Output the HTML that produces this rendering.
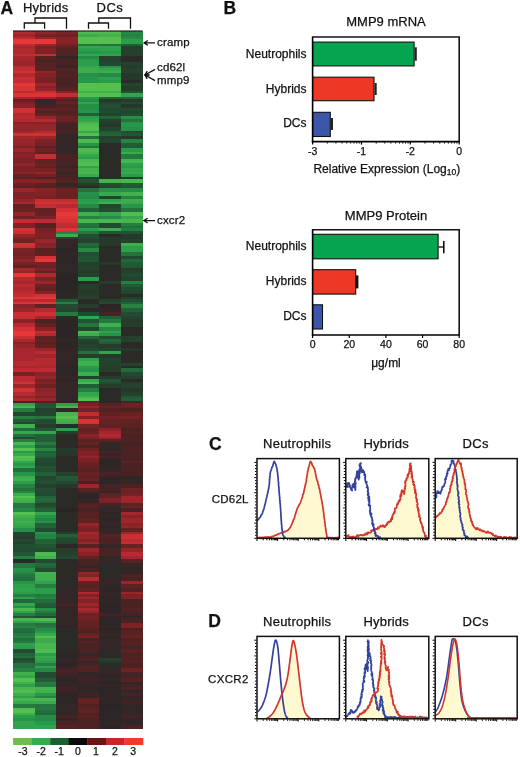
<!DOCTYPE html>
<html><head><meta charset="utf-8"><style>
html,body{margin:0;padding:0;background:#fff;}
svg{display:block;font-family:"Liberation Sans", sans-serif;}
text{stroke:#111;stroke-width:0.25px;paint-order:stroke;}
svg{will-change:transform;}
</style></head><body>
<svg width="520" height="757" viewBox="0 0 520 757" fill="#111">
<defs><filter id="hb" x="0" y="0" width="1" height="1"><feGaussianBlur stdDeviation="0.5"/></filter></defs>
<text x="0.6" y="13.8" font-size="17.5" text-anchor="start" font-weight="bold" >A</text>
<text x="22.9" y="11.5" font-size="13" text-anchor="start" font-weight="normal" letter-spacing="0.2">Hybrids</text>
<text x="96.6" y="11.5" font-size="13" text-anchor="start" font-weight="normal" letter-spacing="0.4">DCs</text>
<path d="M24.3 28.8V23H44.6V28.8M35 23V18H66.5V28.8" fill="none" stroke="#111" stroke-width="1.3"/>
<path d="M88.5 28.8V23H108.5V28.8M98.8 23V18H130.5V28.8" fill="none" stroke="#111" stroke-width="1.3"/>
<g shape-rendering="crispEdges">
<g filter="url(#hb)">
<rect x="13" y="31.00" width="21.80" height="3.17" fill="#b1292f"/>
<rect x="34.5" y="31.00" width="21.80" height="3.17" fill="#8f2529"/>
<rect x="56" y="31.00" width="21.80" height="3.17" fill="#7d2326"/>
<rect x="77.5" y="31.00" width="21.80" height="3.17" fill="#4fba4f"/>
<rect x="99" y="31.00" width="22.05" height="3.17" fill="#50bb4f"/>
<rect x="120.75" y="31.00" width="22.05" height="3.17" fill="#268845"/>
<rect x="13" y="33.88" width="21.80" height="3.17" fill="#a1272c"/>
<rect x="34.5" y="33.88" width="21.80" height="3.17" fill="#732125"/>
<rect x="56" y="33.88" width="21.80" height="3.17" fill="#6a2023"/>
<rect x="77.5" y="33.88" width="21.80" height="3.17" fill="#3cab4e"/>
<rect x="99" y="33.88" width="22.05" height="3.17" fill="#44b24e"/>
<rect x="120.75" y="33.88" width="22.05" height="3.17" fill="#268343"/>
<rect x="13" y="36.75" width="21.80" height="2.55" fill="#bd2c31"/>
<rect x="34.5" y="36.75" width="21.80" height="2.55" fill="#8e2529"/>
<rect x="56" y="36.75" width="21.80" height="2.55" fill="#882428"/>
<rect x="77.5" y="36.75" width="21.80" height="2.55" fill="#56c050"/>
<rect x="99" y="36.75" width="22.05" height="2.55" fill="#56c050"/>
<rect x="120.75" y="36.75" width="22.05" height="2.55" fill="#278b46"/>
<rect x="13" y="39.00" width="21.80" height="2.80" fill="#e63838"/>
<rect x="34.5" y="39.00" width="21.80" height="2.80" fill="#e63838"/>
<rect x="56" y="39.00" width="21.80" height="2.80" fill="#8b2429"/>
<rect x="77.5" y="39.00" width="21.80" height="2.80" fill="#56c050"/>
<rect x="99" y="39.00" width="22.05" height="2.80" fill="#56c050"/>
<rect x="120.75" y="39.00" width="22.05" height="2.80" fill="#2b9e4c"/>
<rect x="13" y="41.50" width="21.80" height="2.80" fill="#e63838"/>
<rect x="34.5" y="41.50" width="21.80" height="2.80" fill="#e63838"/>
<rect x="56" y="41.50" width="21.80" height="2.80" fill="#892428"/>
<rect x="77.5" y="41.50" width="21.80" height="2.80" fill="#56c050"/>
<rect x="99" y="41.50" width="22.05" height="2.80" fill="#56c050"/>
<rect x="120.75" y="41.50" width="22.05" height="2.80" fill="#2a9e4c"/>
<rect x="13" y="44.00" width="21.80" height="2.30" fill="#bf2c31"/>
<rect x="34.5" y="44.00" width="21.80" height="2.30" fill="#95262a"/>
<rect x="56" y="44.00" width="21.80" height="2.30" fill="#742125"/>
<rect x="77.5" y="44.00" width="21.80" height="2.30" fill="#25763f"/>
<rect x="99" y="44.00" width="22.05" height="2.30" fill="#25723e"/>
<rect x="120.75" y="44.00" width="22.05" height="2.30" fill="#235e37"/>
<rect x="13" y="46.00" width="21.80" height="2.30" fill="#a4282d"/>
<rect x="34.5" y="46.00" width="21.80" height="2.30" fill="#792226"/>
<rect x="56" y="46.00" width="21.80" height="2.30" fill="#5d2124"/>
<rect x="77.5" y="46.00" width="21.80" height="2.30" fill="#33a54d"/>
<rect x="99" y="46.00" width="22.05" height="2.30" fill="#30a24d"/>
<rect x="120.75" y="46.00" width="22.05" height="2.30" fill="#253f2d"/>
<rect x="13" y="48.00" width="21.80" height="3.30" fill="#ad292e"/>
<rect x="34.5" y="48.00" width="21.80" height="3.30" fill="#822327"/>
<rect x="56" y="48.00" width="21.80" height="3.30" fill="#542224"/>
<rect x="77.5" y="48.00" width="21.80" height="3.30" fill="#2a9e4c"/>
<rect x="99" y="48.00" width="22.05" height="3.30" fill="#2fa14d"/>
<rect x="120.75" y="48.00" width="22.05" height="3.30" fill="#25402e"/>
<rect x="13" y="51.00" width="21.80" height="3.30" fill="#ae292e"/>
<rect x="34.5" y="51.00" width="21.80" height="3.30" fill="#7a2226"/>
<rect x="56" y="51.00" width="21.80" height="3.30" fill="#542224"/>
<rect x="77.5" y="51.00" width="21.80" height="3.30" fill="#279349"/>
<rect x="99" y="51.00" width="22.05" height="3.30" fill="#289c4c"/>
<rect x="120.75" y="51.00" width="22.05" height="3.30" fill="#253f2d"/>
<rect x="13" y="54.00" width="21.80" height="1.80" fill="#c32d32"/>
<rect x="34.5" y="54.00" width="21.80" height="1.80" fill="#c22d32"/>
<rect x="56" y="54.00" width="21.80" height="1.80" fill="#522224"/>
<rect x="77.5" y="54.00" width="21.80" height="1.80" fill="#35a64d"/>
<rect x="99" y="54.00" width="22.05" height="1.80" fill="#30a34d"/>
<rect x="120.75" y="54.00" width="22.05" height="1.80" fill="#25402d"/>
<rect x="13" y="55.50" width="21.80" height="3.63" fill="#a7282d"/>
<rect x="34.5" y="55.50" width="21.80" height="3.63" fill="#542224"/>
<rect x="56" y="55.50" width="21.80" height="3.63" fill="#322526"/>
<rect x="77.5" y="55.50" width="21.80" height="3.63" fill="#278a46"/>
<rect x="99" y="55.50" width="22.05" height="3.63" fill="#25422e"/>
<rect x="120.75" y="55.50" width="22.05" height="3.63" fill="#292a27"/>
<rect x="13" y="58.83" width="21.80" height="3.63" fill="#9f272c"/>
<rect x="34.5" y="58.83" width="21.80" height="3.63" fill="#492324"/>
<rect x="56" y="58.83" width="21.80" height="3.63" fill="#4a2324"/>
<rect x="77.5" y="58.83" width="21.80" height="3.63" fill="#2b9e4c"/>
<rect x="99" y="58.83" width="22.05" height="3.63" fill="#25422e"/>
<rect x="120.75" y="58.83" width="22.05" height="3.63" fill="#292b27"/>
<rect x="13" y="62.17" width="21.80" height="3.63" fill="#9b262b"/>
<rect x="34.5" y="62.17" width="21.80" height="3.63" fill="#592124"/>
<rect x="56" y="62.17" width="21.80" height="3.63" fill="#482325"/>
<rect x="77.5" y="62.17" width="21.80" height="3.63" fill="#2c9f4c"/>
<rect x="99" y="62.17" width="22.05" height="3.63" fill="#234930"/>
<rect x="120.75" y="62.17" width="22.05" height="3.63" fill="#25402d"/>
<rect x="13" y="65.50" width="21.80" height="2.80" fill="#b62a30"/>
<rect x="34.5" y="65.50" width="21.80" height="2.80" fill="#5c2124"/>
<rect x="56" y="65.50" width="21.80" height="2.80" fill="#322526"/>
<rect x="77.5" y="65.50" width="21.80" height="2.80" fill="#37a84d"/>
<rect x="99" y="65.50" width="22.05" height="2.80" fill="#279549"/>
<rect x="120.75" y="65.50" width="22.05" height="2.80" fill="#263b2c"/>
<rect x="13" y="68.00" width="21.80" height="2.80" fill="#c12d32"/>
<rect x="34.5" y="68.00" width="21.80" height="2.80" fill="#582224"/>
<rect x="56" y="68.00" width="21.80" height="2.80" fill="#532224"/>
<rect x="77.5" y="68.00" width="21.80" height="2.80" fill="#3dad4e"/>
<rect x="99" y="68.00" width="22.05" height="2.80" fill="#35a64d"/>
<rect x="120.75" y="68.00" width="22.05" height="2.80" fill="#25422e"/>
<rect x="13" y="70.50" width="21.80" height="2.80" fill="#ce3134"/>
<rect x="34.5" y="70.50" width="21.80" height="2.80" fill="#94252a"/>
<rect x="56" y="70.50" width="21.80" height="2.80" fill="#492324"/>
<rect x="77.5" y="70.50" width="21.80" height="2.80" fill="#3dac4e"/>
<rect x="99" y="70.50" width="22.05" height="2.80" fill="#3ead4e"/>
<rect x="120.75" y="70.50" width="22.05" height="2.80" fill="#25402d"/>
<rect x="13" y="73.00" width="21.80" height="4.05" fill="#af292f"/>
<rect x="34.5" y="73.00" width="21.80" height="4.05" fill="#842328"/>
<rect x="56" y="73.00" width="21.80" height="4.05" fill="#512224"/>
<rect x="77.5" y="73.00" width="21.80" height="4.05" fill="#279249"/>
<rect x="99" y="73.00" width="22.05" height="4.05" fill="#278946"/>
<rect x="120.75" y="73.00" width="22.05" height="4.05" fill="#26392c"/>
<rect x="13" y="76.75" width="21.80" height="3.42" fill="#c72e33"/>
<rect x="34.5" y="76.75" width="21.80" height="3.42" fill="#762225"/>
<rect x="56" y="76.75" width="21.80" height="3.42" fill="#4c2324"/>
<rect x="77.5" y="76.75" width="21.80" height="3.42" fill="#28984b"/>
<rect x="99" y="76.75" width="22.05" height="3.42" fill="#2ea14d"/>
<rect x="120.75" y="76.75" width="22.05" height="3.42" fill="#26392b"/>
<rect x="13" y="79.88" width="21.80" height="3.42" fill="#c42e32"/>
<rect x="34.5" y="79.88" width="21.80" height="3.42" fill="#7b2226"/>
<rect x="56" y="79.88" width="21.80" height="3.42" fill="#4c2324"/>
<rect x="77.5" y="79.88" width="21.80" height="3.42" fill="#28974a"/>
<rect x="99" y="79.88" width="22.05" height="3.42" fill="#299d4c"/>
<rect x="120.75" y="79.88" width="22.05" height="3.42" fill="#292b27"/>
<rect x="13" y="83.00" width="21.80" height="2.80" fill="#e33737"/>
<rect x="34.5" y="83.00" width="21.80" height="2.80" fill="#a1272c"/>
<rect x="56" y="83.00" width="21.80" height="2.80" fill="#442425"/>
<rect x="77.5" y="83.00" width="21.80" height="2.80" fill="#56c050"/>
<rect x="99" y="83.00" width="22.05" height="2.80" fill="#56c050"/>
<rect x="120.75" y="83.00" width="22.05" height="2.80" fill="#24442e"/>
<rect x="13" y="85.50" width="21.80" height="2.80" fill="#d83436"/>
<rect x="34.5" y="85.50" width="21.80" height="2.80" fill="#882428"/>
<rect x="56" y="85.50" width="21.80" height="2.80" fill="#512224"/>
<rect x="77.5" y="85.50" width="21.80" height="2.80" fill="#56c050"/>
<rect x="99" y="85.50" width="22.05" height="2.80" fill="#56c050"/>
<rect x="120.75" y="85.50" width="22.05" height="2.80" fill="#263a2c"/>
<rect x="13" y="88.00" width="21.80" height="2.80" fill="#dc3536"/>
<rect x="34.5" y="88.00" width="21.80" height="2.80" fill="#93252a"/>
<rect x="56" y="88.00" width="21.80" height="2.80" fill="#562224"/>
<rect x="77.5" y="88.00" width="21.80" height="2.80" fill="#56c050"/>
<rect x="99" y="88.00" width="22.05" height="2.80" fill="#56c050"/>
<rect x="120.75" y="88.00" width="22.05" height="2.80" fill="#263c2c"/>
<rect x="13" y="90.50" width="21.80" height="2.80" fill="#bc2b31"/>
<rect x="34.5" y="90.50" width="21.80" height="2.80" fill="#c62e33"/>
<rect x="56" y="90.50" width="21.80" height="2.80" fill="#842328"/>
<rect x="77.5" y="90.50" width="21.80" height="2.80" fill="#42b04e"/>
<rect x="99" y="90.50" width="22.05" height="2.80" fill="#42b04e"/>
<rect x="120.75" y="90.50" width="22.05" height="2.80" fill="#225333"/>
<rect x="13" y="93.00" width="21.80" height="4.05" fill="#d93436"/>
<rect x="34.5" y="93.00" width="21.80" height="4.05" fill="#db3536"/>
<rect x="56" y="93.00" width="21.80" height="4.05" fill="#c22d32"/>
<rect x="77.5" y="93.00" width="21.80" height="4.05" fill="#56c050"/>
<rect x="99" y="93.00" width="22.05" height="4.05" fill="#56c050"/>
<rect x="120.75" y="93.00" width="22.05" height="4.05" fill="#33a44d"/>
<rect x="13" y="96.75" width="21.80" height="2.80" fill="#9f272c"/>
<rect x="34.5" y="96.75" width="21.80" height="2.80" fill="#92252a"/>
<rect x="56" y="96.75" width="21.80" height="2.80" fill="#712125"/>
<rect x="77.5" y="96.75" width="21.80" height="2.80" fill="#289c4c"/>
<rect x="99" y="96.75" width="22.05" height="2.80" fill="#246439"/>
<rect x="120.75" y="96.75" width="22.05" height="2.80" fill="#246339"/>
<rect x="13" y="99.25" width="21.80" height="2.80" fill="#642023"/>
<rect x="34.5" y="99.25" width="21.80" height="2.80" fill="#322526"/>
<rect x="56" y="99.25" width="21.80" height="2.80" fill="#552224"/>
<rect x="77.5" y="99.25" width="21.80" height="2.80" fill="#278e47"/>
<rect x="99" y="99.25" width="22.05" height="2.80" fill="#26392b"/>
<rect x="120.75" y="99.25" width="22.05" height="2.80" fill="#263a2c"/>
<rect x="13" y="101.75" width="21.80" height="2.80" fill="#7b2226"/>
<rect x="34.5" y="101.75" width="21.80" height="2.80" fill="#322526"/>
<rect x="56" y="101.75" width="21.80" height="2.80" fill="#602123"/>
<rect x="77.5" y="101.75" width="21.80" height="2.80" fill="#30a24d"/>
<rect x="99" y="101.75" width="22.05" height="2.80" fill="#24472f"/>
<rect x="120.75" y="101.75" width="22.05" height="2.80" fill="#244830"/>
<rect x="13" y="104.25" width="21.80" height="4.05" fill="#8c2429"/>
<rect x="34.5" y="104.25" width="21.80" height="4.05" fill="#442425"/>
<rect x="56" y="104.25" width="21.80" height="4.05" fill="#552224"/>
<rect x="77.5" y="104.25" width="21.80" height="4.05" fill="#278e47"/>
<rect x="99" y="104.25" width="22.05" height="4.05" fill="#225032"/>
<rect x="120.75" y="104.25" width="22.05" height="4.05" fill="#26392c"/>
<rect x="13" y="108.00" width="21.80" height="2.80" fill="#d33235"/>
<rect x="34.5" y="108.00" width="21.80" height="2.80" fill="#612123"/>
<rect x="56" y="108.00" width="21.80" height="2.80" fill="#5e2124"/>
<rect x="77.5" y="108.00" width="21.80" height="2.80" fill="#279248"/>
<rect x="99" y="108.00" width="22.05" height="2.80" fill="#234a30"/>
<rect x="120.75" y="108.00" width="22.05" height="2.80" fill="#234b31"/>
<rect x="13" y="110.50" width="21.80" height="2.80" fill="#cb3033"/>
<rect x="34.5" y="110.50" width="21.80" height="2.80" fill="#4a2324"/>
<rect x="56" y="110.50" width="21.80" height="2.80" fill="#4f2224"/>
<rect x="77.5" y="110.50" width="21.80" height="2.80" fill="#28984b"/>
<rect x="99" y="110.50" width="22.05" height="2.80" fill="#234d31"/>
<rect x="120.75" y="110.50" width="22.05" height="2.80" fill="#24442f"/>
<rect x="13" y="113.00" width="21.80" height="2.80" fill="#b42a2f"/>
<rect x="34.5" y="113.00" width="21.80" height="2.80" fill="#622123"/>
<rect x="56" y="113.00" width="21.80" height="2.80" fill="#562224"/>
<rect x="77.5" y="113.00" width="21.80" height="2.80" fill="#236138"/>
<rect x="99" y="113.00" width="22.05" height="2.80" fill="#24452f"/>
<rect x="120.75" y="113.00" width="22.05" height="2.80" fill="#234c31"/>
<rect x="13" y="115.50" width="21.80" height="4.05" fill="#b92a30"/>
<rect x="34.5" y="115.50" width="21.80" height="4.05" fill="#93252a"/>
<rect x="56" y="115.50" width="21.80" height="4.05" fill="#6a2023"/>
<rect x="77.5" y="115.50" width="21.80" height="4.05" fill="#2da04c"/>
<rect x="99" y="115.50" width="22.05" height="4.05" fill="#246439"/>
<rect x="120.75" y="115.50" width="22.05" height="4.05" fill="#279048"/>
<rect x="13" y="119.25" width="21.80" height="2.80" fill="#b1292f"/>
<rect x="34.5" y="119.25" width="21.80" height="2.80" fill="#b62a30"/>
<rect x="56" y="119.25" width="21.80" height="2.80" fill="#672023"/>
<rect x="77.5" y="119.25" width="21.80" height="2.80" fill="#34a64d"/>
<rect x="99" y="119.25" width="22.05" height="2.80" fill="#24432e"/>
<rect x="120.75" y="119.25" width="22.05" height="2.80" fill="#25713d"/>
<rect x="13" y="121.75" width="21.80" height="2.80" fill="#872428"/>
<rect x="34.5" y="121.75" width="21.80" height="2.80" fill="#892428"/>
<rect x="56" y="121.75" width="21.80" height="2.80" fill="#4b2324"/>
<rect x="77.5" y="121.75" width="21.80" height="2.80" fill="#46b44f"/>
<rect x="99" y="121.75" width="22.05" height="2.80" fill="#253e2d"/>
<rect x="120.75" y="121.75" width="22.05" height="2.80" fill="#279449"/>
<rect x="13" y="124.25" width="21.80" height="3.42" fill="#97262b"/>
<rect x="34.5" y="124.25" width="21.80" height="3.42" fill="#91252a"/>
<rect x="56" y="124.25" width="21.80" height="3.42" fill="#442325"/>
<rect x="77.5" y="124.25" width="21.80" height="3.42" fill="#50bc50"/>
<rect x="99" y="124.25" width="22.05" height="3.42" fill="#26392c"/>
<rect x="120.75" y="124.25" width="22.05" height="3.42" fill="#28994b"/>
<rect x="13" y="127.38" width="21.80" height="3.42" fill="#91252a"/>
<rect x="34.5" y="127.38" width="21.80" height="3.42" fill="#95262a"/>
<rect x="56" y="127.38" width="21.80" height="3.42" fill="#452325"/>
<rect x="77.5" y="127.38" width="21.80" height="3.42" fill="#56c050"/>
<rect x="99" y="127.38" width="22.05" height="3.42" fill="#24442e"/>
<rect x="120.75" y="127.38" width="22.05" height="3.42" fill="#278f48"/>
<rect x="13" y="130.50" width="21.80" height="2.80" fill="#a1272c"/>
<rect x="34.5" y="130.50" width="21.80" height="2.80" fill="#b0292f"/>
<rect x="56" y="130.50" width="21.80" height="2.80" fill="#4a2324"/>
<rect x="77.5" y="130.50" width="21.80" height="2.80" fill="#36a74d"/>
<rect x="99" y="130.50" width="22.05" height="2.80" fill="#235b36"/>
<rect x="120.75" y="130.50" width="22.05" height="2.80" fill="#224e31"/>
<rect x="13" y="133.00" width="21.80" height="2.80" fill="#cb3033"/>
<rect x="34.5" y="133.00" width="21.80" height="2.80" fill="#cb3033"/>
<rect x="56" y="133.00" width="21.80" height="2.80" fill="#322526"/>
<rect x="77.5" y="133.00" width="21.80" height="2.80" fill="#55bf50"/>
<rect x="99" y="133.00" width="22.05" height="2.80" fill="#236338"/>
<rect x="120.75" y="133.00" width="22.05" height="2.80" fill="#225534"/>
<rect x="13" y="135.50" width="21.80" height="4.05" fill="#a2272c"/>
<rect x="34.5" y="135.50" width="21.80" height="4.05" fill="#99262b"/>
<rect x="56" y="135.50" width="21.80" height="4.05" fill="#302526"/>
<rect x="77.5" y="135.50" width="21.80" height="4.05" fill="#25713d"/>
<rect x="99" y="135.50" width="22.05" height="4.05" fill="#253f2d"/>
<rect x="120.75" y="135.50" width="22.05" height="4.05" fill="#26392c"/>
<rect x="13" y="139.25" width="21.80" height="4.05" fill="#96262b"/>
<rect x="34.5" y="139.25" width="21.80" height="4.05" fill="#7a2226"/>
<rect x="56" y="139.25" width="21.80" height="4.05" fill="#312526"/>
<rect x="77.5" y="139.25" width="21.80" height="4.05" fill="#4eba4f"/>
<rect x="99" y="139.25" width="22.05" height="4.05" fill="#24462f"/>
<rect x="120.75" y="139.25" width="22.05" height="4.05" fill="#268343"/>
<rect x="13" y="143.00" width="21.80" height="2.80" fill="#902529"/>
<rect x="34.5" y="143.00" width="21.80" height="2.80" fill="#712125"/>
<rect x="56" y="143.00" width="21.80" height="2.80" fill="#312526"/>
<rect x="77.5" y="143.00" width="21.80" height="2.80" fill="#28974a"/>
<rect x="99" y="143.00" width="22.05" height="2.80" fill="#292a27"/>
<rect x="120.75" y="143.00" width="22.05" height="2.80" fill="#235c36"/>
<rect x="13" y="145.50" width="21.80" height="2.80" fill="#7e2327"/>
<rect x="34.5" y="145.50" width="21.80" height="2.80" fill="#5b2124"/>
<rect x="56" y="145.50" width="21.80" height="2.80" fill="#302526"/>
<rect x="77.5" y="145.50" width="21.80" height="2.80" fill="#25743e"/>
<rect x="99" y="145.50" width="22.05" height="2.80" fill="#292b28"/>
<rect x="120.75" y="145.50" width="22.05" height="2.80" fill="#235a35"/>
<rect x="13" y="148.00" width="21.80" height="4.05" fill="#9b262b"/>
<rect x="34.5" y="148.00" width="21.80" height="4.05" fill="#6c2124"/>
<rect x="56" y="148.00" width="21.80" height="4.05" fill="#302526"/>
<rect x="77.5" y="148.00" width="21.80" height="4.05" fill="#4fba4f"/>
<rect x="99" y="148.00" width="22.05" height="4.05" fill="#292927"/>
<rect x="120.75" y="148.00" width="22.05" height="4.05" fill="#289c4c"/>
<rect x="13" y="151.75" width="21.80" height="2.80" fill="#832327"/>
<rect x="34.5" y="151.75" width="21.80" height="2.80" fill="#5e2123"/>
<rect x="56" y="151.75" width="21.80" height="2.80" fill="#312526"/>
<rect x="77.5" y="151.75" width="21.80" height="2.80" fill="#47b44f"/>
<rect x="99" y="151.75" width="22.05" height="2.80" fill="#292b27"/>
<rect x="120.75" y="151.75" width="22.05" height="2.80" fill="#3aaa4e"/>
<rect x="13" y="154.25" width="21.80" height="2.80" fill="#8b2429"/>
<rect x="34.5" y="154.25" width="21.80" height="2.80" fill="#c72f33"/>
<rect x="56" y="154.25" width="21.80" height="2.80" fill="#4c2324"/>
<rect x="77.5" y="154.25" width="21.80" height="2.80" fill="#35a64d"/>
<rect x="99" y="154.25" width="22.05" height="2.80" fill="#292c28"/>
<rect x="120.75" y="154.25" width="22.05" height="2.80" fill="#257940"/>
<rect x="13" y="156.75" width="21.80" height="2.80" fill="#812327"/>
<rect x="34.5" y="156.75" width="21.80" height="2.80" fill="#c52e32"/>
<rect x="56" y="156.75" width="21.80" height="2.80" fill="#4c2324"/>
<rect x="77.5" y="156.75" width="21.80" height="2.80" fill="#2c9f4c"/>
<rect x="99" y="156.75" width="22.05" height="2.80" fill="#292927"/>
<rect x="120.75" y="156.75" width="22.05" height="2.80" fill="#25773f"/>
<rect x="13" y="159.25" width="21.80" height="4.05" fill="#7b2226"/>
<rect x="34.5" y="159.25" width="21.80" height="4.05" fill="#642023"/>
<rect x="56" y="159.25" width="21.80" height="4.05" fill="#462325"/>
<rect x="77.5" y="159.25" width="21.80" height="4.05" fill="#4db94f"/>
<rect x="99" y="159.25" width="22.05" height="4.05" fill="#292927"/>
<rect x="120.75" y="159.25" width="22.05" height="4.05" fill="#45b34f"/>
<rect x="13" y="163.00" width="21.80" height="2.80" fill="#8c2529"/>
<rect x="34.5" y="163.00" width="21.80" height="2.80" fill="#6b2023"/>
<rect x="56" y="163.00" width="21.80" height="2.80" fill="#472325"/>
<rect x="77.5" y="163.00" width="21.80" height="2.80" fill="#53be50"/>
<rect x="99" y="163.00" width="22.05" height="2.80" fill="#292927"/>
<rect x="120.75" y="163.00" width="22.05" height="2.80" fill="#2da04c"/>
<rect x="13" y="165.50" width="21.80" height="2.80" fill="#792226"/>
<rect x="34.5" y="165.50" width="21.80" height="2.80" fill="#622123"/>
<rect x="56" y="165.50" width="21.80" height="2.80" fill="#322526"/>
<rect x="77.5" y="165.50" width="21.80" height="2.80" fill="#30a24d"/>
<rect x="99" y="165.50" width="22.05" height="2.80" fill="#292b28"/>
<rect x="120.75" y="165.50" width="22.05" height="2.80" fill="#289c4c"/>
<rect x="13" y="168.00" width="21.80" height="4.05" fill="#7f2327"/>
<rect x="34.5" y="168.00" width="21.80" height="4.05" fill="#792226"/>
<rect x="56" y="168.00" width="21.80" height="4.05" fill="#4a2324"/>
<rect x="77.5" y="168.00" width="21.80" height="4.05" fill="#44b24e"/>
<rect x="99" y="168.00" width="22.05" height="4.05" fill="#292a27"/>
<rect x="120.75" y="168.00" width="22.05" height="4.05" fill="#35a64d"/>
<rect x="13" y="171.75" width="21.80" height="2.80" fill="#882428"/>
<rect x="34.5" y="171.75" width="21.80" height="2.80" fill="#93252a"/>
<rect x="56" y="171.75" width="21.80" height="2.80" fill="#312526"/>
<rect x="77.5" y="171.75" width="21.80" height="2.80" fill="#49b64f"/>
<rect x="99" y="171.75" width="22.05" height="2.80" fill="#292c28"/>
<rect x="120.75" y="171.75" width="22.05" height="2.80" fill="#39a94d"/>
<rect x="13" y="174.25" width="21.80" height="2.80" fill="#662023"/>
<rect x="34.5" y="174.25" width="21.80" height="2.80" fill="#6f2124"/>
<rect x="56" y="174.25" width="21.80" height="2.80" fill="#462325"/>
<rect x="77.5" y="174.25" width="21.80" height="2.80" fill="#39aa4e"/>
<rect x="99" y="174.25" width="22.05" height="2.80" fill="#292a27"/>
<rect x="120.75" y="174.25" width="22.05" height="2.80" fill="#299d4c"/>
<rect x="13" y="176.75" width="21.80" height="2.80" fill="#562224"/>
<rect x="34.5" y="176.75" width="21.80" height="2.80" fill="#4e2224"/>
<rect x="56" y="176.75" width="21.80" height="2.80" fill="#4d2324"/>
<rect x="77.5" y="176.75" width="21.80" height="2.80" fill="#24462f"/>
<rect x="99" y="176.75" width="22.05" height="2.80" fill="#292a27"/>
<rect x="120.75" y="176.75" width="22.05" height="2.80" fill="#253e2d"/>
<rect x="13" y="179.25" width="21.80" height="4.05" fill="#862428"/>
<rect x="34.5" y="179.25" width="21.80" height="4.05" fill="#842327"/>
<rect x="56" y="179.25" width="21.80" height="4.05" fill="#552224"/>
<rect x="77.5" y="179.25" width="21.80" height="4.05" fill="#225132"/>
<rect x="99" y="179.25" width="22.05" height="4.05" fill="#44b24e"/>
<rect x="120.75" y="179.25" width="22.05" height="4.05" fill="#4ab74f"/>
<rect x="13" y="183.00" width="21.80" height="2.80" fill="#6d2124"/>
<rect x="34.5" y="183.00" width="21.80" height="2.80" fill="#582224"/>
<rect x="56" y="183.00" width="21.80" height="2.80" fill="#322526"/>
<rect x="77.5" y="183.00" width="21.80" height="2.80" fill="#263d2c"/>
<rect x="99" y="183.00" width="22.05" height="2.80" fill="#224f32"/>
<rect x="120.75" y="183.00" width="22.05" height="2.80" fill="#235c36"/>
<rect x="13" y="185.50" width="21.80" height="2.80" fill="#5c2124"/>
<rect x="34.5" y="185.50" width="21.80" height="2.80" fill="#512224"/>
<rect x="56" y="185.50" width="21.80" height="2.80" fill="#492324"/>
<rect x="77.5" y="185.50" width="21.80" height="2.80" fill="#292c28"/>
<rect x="99" y="185.50" width="22.05" height="2.80" fill="#24472f"/>
<rect x="120.75" y="185.50" width="22.05" height="2.80" fill="#225634"/>
<rect x="13" y="188.00" width="21.80" height="4.05" fill="#99262b"/>
<rect x="34.5" y="188.00" width="21.80" height="4.05" fill="#892428"/>
<rect x="56" y="188.00" width="21.80" height="4.05" fill="#6c2024"/>
<rect x="77.5" y="188.00" width="21.80" height="4.05" fill="#25713d"/>
<rect x="99" y="188.00" width="22.05" height="4.05" fill="#279048"/>
<rect x="120.75" y="188.00" width="22.05" height="4.05" fill="#278e47"/>
<rect x="13" y="191.75" width="21.80" height="4.05" fill="#7d2326"/>
<rect x="34.5" y="191.75" width="21.80" height="4.05" fill="#862428"/>
<rect x="56" y="191.75" width="21.80" height="4.05" fill="#672023"/>
<rect x="77.5" y="191.75" width="21.80" height="4.05" fill="#278f48"/>
<rect x="99" y="191.75" width="22.05" height="4.05" fill="#39a94d"/>
<rect x="120.75" y="191.75" width="22.05" height="4.05" fill="#43b14e"/>
<rect x="13" y="195.50" width="21.80" height="4.05" fill="#812327"/>
<rect x="34.5" y="195.50" width="21.80" height="4.05" fill="#762225"/>
<rect x="56" y="195.50" width="21.80" height="4.05" fill="#6d2124"/>
<rect x="77.5" y="195.50" width="21.80" height="4.05" fill="#278c47"/>
<rect x="99" y="195.50" width="22.05" height="4.05" fill="#24472f"/>
<rect x="120.75" y="195.50" width="22.05" height="4.05" fill="#268343"/>
<rect x="13" y="199.25" width="21.80" height="2.80" fill="#93252a"/>
<rect x="34.5" y="199.25" width="21.80" height="2.80" fill="#ca2f33"/>
<rect x="56" y="199.25" width="21.80" height="2.80" fill="#c12d32"/>
<rect x="77.5" y="199.25" width="21.80" height="2.80" fill="#299d4c"/>
<rect x="99" y="199.25" width="22.05" height="2.80" fill="#2fa24d"/>
<rect x="120.75" y="199.25" width="22.05" height="2.80" fill="#3cac4e"/>
<rect x="13" y="201.75" width="21.80" height="2.80" fill="#a8282d"/>
<rect x="34.5" y="201.75" width="21.80" height="2.80" fill="#d43335"/>
<rect x="56" y="201.75" width="21.80" height="2.80" fill="#cf3134"/>
<rect x="77.5" y="201.75" width="21.80" height="2.80" fill="#2fa14d"/>
<rect x="99" y="201.75" width="22.05" height="2.80" fill="#40af4e"/>
<rect x="120.75" y="201.75" width="22.05" height="2.80" fill="#39aa4e"/>
<rect x="13" y="204.25" width="21.80" height="4.05" fill="#642023"/>
<rect x="34.5" y="204.25" width="21.80" height="4.05" fill="#c12d32"/>
<rect x="56" y="204.25" width="21.80" height="4.05" fill="#b52a30"/>
<rect x="77.5" y="204.25" width="21.80" height="4.05" fill="#268644"/>
<rect x="99" y="204.25" width="22.05" height="4.05" fill="#24472f"/>
<rect x="120.75" y="204.25" width="22.05" height="4.05" fill="#28974a"/>
<rect x="13" y="208.00" width="21.80" height="4.05" fill="#6c2024"/>
<rect x="34.5" y="208.00" width="21.80" height="4.05" fill="#632123"/>
<rect x="56" y="208.00" width="21.80" height="4.05" fill="#d53335"/>
<rect x="77.5" y="208.00" width="21.80" height="4.05" fill="#236138"/>
<rect x="99" y="208.00" width="22.05" height="4.05" fill="#234c31"/>
<rect x="120.75" y="208.00" width="22.05" height="4.05" fill="#25723e"/>
<rect x="13" y="211.75" width="21.80" height="4.05" fill="#93252a"/>
<rect x="34.5" y="211.75" width="21.80" height="4.05" fill="#662023"/>
<rect x="56" y="211.75" width="21.80" height="4.05" fill="#e63838"/>
<rect x="77.5" y="211.75" width="21.80" height="4.05" fill="#3fae4e"/>
<rect x="99" y="211.75" width="22.05" height="4.05" fill="#33a44d"/>
<rect x="120.75" y="211.75" width="22.05" height="4.05" fill="#51bc50"/>
<rect x="13" y="215.50" width="21.80" height="4.05" fill="#722125"/>
<rect x="34.5" y="215.50" width="21.80" height="4.05" fill="#7c2226"/>
<rect x="56" y="215.50" width="21.80" height="4.05" fill="#df3637"/>
<rect x="77.5" y="215.50" width="21.80" height="4.05" fill="#268343"/>
<rect x="99" y="215.50" width="22.05" height="4.05" fill="#268945"/>
<rect x="120.75" y="215.50" width="22.05" height="4.05" fill="#36a74d"/>
<rect x="13" y="219.25" width="21.80" height="4.05" fill="#c02d31"/>
<rect x="34.5" y="219.25" width="21.80" height="4.05" fill="#bc2b31"/>
<rect x="56" y="219.25" width="21.80" height="4.05" fill="#d63335"/>
<rect x="77.5" y="219.25" width="21.80" height="4.05" fill="#48b54f"/>
<rect x="99" y="219.25" width="22.05" height="4.05" fill="#4bb74f"/>
<rect x="120.75" y="219.25" width="22.05" height="4.05" fill="#48b54f"/>
<rect x="13" y="223.00" width="21.80" height="2.80" fill="#822327"/>
<rect x="34.5" y="223.00" width="21.80" height="2.80" fill="#592124"/>
<rect x="56" y="223.00" width="21.80" height="2.80" fill="#c12d31"/>
<rect x="77.5" y="223.00" width="21.80" height="2.80" fill="#25753f"/>
<rect x="99" y="223.00" width="22.05" height="2.80" fill="#234a30"/>
<rect x="120.75" y="223.00" width="22.05" height="2.80" fill="#267d41"/>
<rect x="13" y="225.50" width="21.80" height="2.80" fill="#7d2326"/>
<rect x="34.5" y="225.50" width="21.80" height="2.80" fill="#562224"/>
<rect x="56" y="225.50" width="21.80" height="2.80" fill="#be2c31"/>
<rect x="77.5" y="225.50" width="21.80" height="2.80" fill="#246e3c"/>
<rect x="99" y="225.50" width="22.05" height="2.80" fill="#234b31"/>
<rect x="120.75" y="225.50" width="22.05" height="2.80" fill="#246f3c"/>
<rect x="13" y="228.00" width="21.80" height="3.30" fill="#d53335"/>
<rect x="34.5" y="228.00" width="21.80" height="3.30" fill="#742225"/>
<rect x="56" y="228.00" width="21.80" height="3.30" fill="#e03637"/>
<rect x="77.5" y="228.00" width="21.80" height="3.30" fill="#2c9f4c"/>
<rect x="99" y="228.00" width="22.05" height="3.30" fill="#3cac4e"/>
<rect x="120.75" y="228.00" width="22.05" height="3.30" fill="#267d41"/>
<rect x="13" y="231.00" width="21.80" height="2.80" fill="#c52e32"/>
<rect x="34.5" y="231.00" width="21.80" height="2.80" fill="#7c2226"/>
<rect x="56" y="231.00" width="21.80" height="2.80" fill="#268143"/>
<rect x="77.5" y="231.00" width="21.80" height="2.80" fill="#257840"/>
<rect x="99" y="231.00" width="22.05" height="2.80" fill="#225534"/>
<rect x="120.75" y="231.00" width="22.05" height="2.80" fill="#225333"/>
<rect x="13" y="233.50" width="21.80" height="3.55" fill="#93252a"/>
<rect x="34.5" y="233.50" width="21.80" height="3.55" fill="#832327"/>
<rect x="56" y="233.50" width="21.80" height="3.55" fill="#3dac4e"/>
<rect x="77.5" y="233.50" width="21.80" height="3.55" fill="#224f32"/>
<rect x="99" y="233.50" width="22.05" height="3.55" fill="#292c28"/>
<rect x="120.75" y="233.50" width="22.05" height="3.55" fill="#263b2c"/>
<rect x="13" y="236.75" width="21.80" height="2.80" fill="#822327"/>
<rect x="34.5" y="236.75" width="21.80" height="2.80" fill="#782226"/>
<rect x="56" y="236.75" width="21.80" height="2.80" fill="#25422e"/>
<rect x="77.5" y="236.75" width="21.80" height="2.80" fill="#234b31"/>
<rect x="99" y="236.75" width="22.05" height="2.80" fill="#263a2c"/>
<rect x="120.75" y="236.75" width="22.05" height="2.80" fill="#27382b"/>
<rect x="13" y="239.25" width="21.80" height="4.05" fill="#6e2124"/>
<rect x="34.5" y="239.25" width="21.80" height="4.05" fill="#95262a"/>
<rect x="56" y="239.25" width="21.80" height="4.05" fill="#322526"/>
<rect x="77.5" y="239.25" width="21.80" height="4.05" fill="#25422e"/>
<rect x="99" y="239.25" width="22.05" height="4.05" fill="#27382b"/>
<rect x="120.75" y="239.25" width="22.05" height="4.05" fill="#25402d"/>
<rect x="13" y="243.00" width="21.80" height="2.80" fill="#d63335"/>
<rect x="34.5" y="243.00" width="21.80" height="2.80" fill="#862428"/>
<rect x="56" y="243.00" width="21.80" height="2.80" fill="#322526"/>
<rect x="77.5" y="243.00" width="21.80" height="2.80" fill="#24673a"/>
<rect x="99" y="243.00" width="22.05" height="2.80" fill="#26392c"/>
<rect x="120.75" y="243.00" width="22.05" height="2.80" fill="#40ae4e"/>
<rect x="13" y="245.50" width="21.80" height="2.80" fill="#c62e32"/>
<rect x="34.5" y="245.50" width="21.80" height="2.80" fill="#8c2429"/>
<rect x="56" y="245.50" width="21.80" height="2.80" fill="#302526"/>
<rect x="77.5" y="245.50" width="21.80" height="2.80" fill="#236038"/>
<rect x="99" y="245.50" width="22.05" height="2.80" fill="#292b27"/>
<rect x="120.75" y="245.50" width="22.05" height="2.80" fill="#2b9e4c"/>
<rect x="13" y="248.00" width="21.80" height="4.05" fill="#7b2226"/>
<rect x="34.5" y="248.00" width="21.80" height="4.05" fill="#592124"/>
<rect x="56" y="248.00" width="21.80" height="4.05" fill="#2e2626"/>
<rect x="77.5" y="248.00" width="21.80" height="4.05" fill="#268945"/>
<rect x="99" y="248.00" width="22.05" height="4.05" fill="#292c28"/>
<rect x="120.75" y="248.00" width="22.05" height="4.05" fill="#2da04c"/>
<rect x="13" y="251.75" width="21.80" height="4.05" fill="#722125"/>
<rect x="34.5" y="251.75" width="21.80" height="4.05" fill="#5b2124"/>
<rect x="56" y="251.75" width="21.80" height="4.05" fill="#322526"/>
<rect x="77.5" y="251.75" width="21.80" height="4.05" fill="#234d31"/>
<rect x="99" y="251.75" width="22.05" height="4.05" fill="#292c28"/>
<rect x="120.75" y="251.75" width="22.05" height="4.05" fill="#25723d"/>
<rect x="13" y="255.50" width="21.80" height="3.42" fill="#7c2326"/>
<rect x="34.5" y="255.50" width="21.80" height="3.42" fill="#d53335"/>
<rect x="56" y="255.50" width="21.80" height="3.42" fill="#2e2626"/>
<rect x="77.5" y="255.50" width="21.80" height="3.42" fill="#225433"/>
<rect x="99" y="255.50" width="22.05" height="3.42" fill="#292b27"/>
<rect x="120.75" y="255.50" width="22.05" height="3.42" fill="#234830"/>
<rect x="13" y="258.62" width="21.80" height="3.42" fill="#8c2529"/>
<rect x="34.5" y="258.62" width="21.80" height="3.42" fill="#e63838"/>
<rect x="56" y="258.62" width="21.80" height="3.42" fill="#2e2626"/>
<rect x="77.5" y="258.62" width="21.80" height="3.42" fill="#225634"/>
<rect x="99" y="258.62" width="22.05" height="3.42" fill="#292a27"/>
<rect x="120.75" y="258.62" width="22.05" height="3.42" fill="#24663a"/>
<rect x="13" y="261.75" width="21.80" height="3.42" fill="#792226"/>
<rect x="34.5" y="261.75" width="21.80" height="3.42" fill="#722125"/>
<rect x="56" y="261.75" width="21.80" height="3.42" fill="#2f2626"/>
<rect x="77.5" y="261.75" width="21.80" height="3.42" fill="#24432e"/>
<rect x="99" y="261.75" width="22.05" height="3.42" fill="#26392b"/>
<rect x="120.75" y="261.75" width="22.05" height="3.42" fill="#235b36"/>
<rect x="13" y="264.88" width="21.80" height="3.42" fill="#642023"/>
<rect x="34.5" y="264.88" width="21.80" height="3.42" fill="#672023"/>
<rect x="56" y="264.88" width="21.80" height="3.42" fill="#302526"/>
<rect x="77.5" y="264.88" width="21.80" height="3.42" fill="#25422e"/>
<rect x="99" y="264.88" width="22.05" height="3.42" fill="#292b28"/>
<rect x="120.75" y="264.88" width="22.05" height="3.42" fill="#235935"/>
<rect x="13" y="268.00" width="21.80" height="2.80" fill="#a6282d"/>
<rect x="34.5" y="268.00" width="21.80" height="2.80" fill="#7d2326"/>
<rect x="56" y="268.00" width="21.80" height="2.80" fill="#292a27"/>
<rect x="77.5" y="268.00" width="21.80" height="2.80" fill="#253f2d"/>
<rect x="99" y="268.00" width="22.05" height="2.80" fill="#292a27"/>
<rect x="120.75" y="268.00" width="22.05" height="2.80" fill="#263c2c"/>
<rect x="13" y="270.50" width="21.80" height="2.80" fill="#90252a"/>
<rect x="34.5" y="270.50" width="21.80" height="2.80" fill="#642023"/>
<rect x="56" y="270.50" width="21.80" height="2.80" fill="#292a27"/>
<rect x="77.5" y="270.50" width="21.80" height="2.80" fill="#263a2c"/>
<rect x="99" y="270.50" width="22.05" height="2.80" fill="#292a27"/>
<rect x="120.75" y="270.50" width="22.05" height="2.80" fill="#25412e"/>
<rect x="13" y="273.00" width="21.80" height="4.05" fill="#e13737"/>
<rect x="34.5" y="273.00" width="21.80" height="4.05" fill="#ac292e"/>
<rect x="56" y="273.00" width="21.80" height="4.05" fill="#2c2626"/>
<rect x="77.5" y="273.00" width="21.80" height="4.05" fill="#25412e"/>
<rect x="99" y="273.00" width="22.05" height="4.05" fill="#292b27"/>
<rect x="120.75" y="273.00" width="22.05" height="4.05" fill="#234a30"/>
<rect x="13" y="276.75" width="21.80" height="4.05" fill="#b4292f"/>
<rect x="34.5" y="276.75" width="21.80" height="4.05" fill="#7e2327"/>
<rect x="56" y="276.75" width="21.80" height="4.05" fill="#2a2726"/>
<rect x="77.5" y="276.75" width="21.80" height="4.05" fill="#299d4c"/>
<rect x="99" y="276.75" width="22.05" height="4.05" fill="#292927"/>
<rect x="120.75" y="276.75" width="22.05" height="4.05" fill="#25412e"/>
<rect x="13" y="280.50" width="21.80" height="4.05" fill="#a4282d"/>
<rect x="34.5" y="280.50" width="21.80" height="4.05" fill="#98262b"/>
<rect x="56" y="280.50" width="21.80" height="4.05" fill="#2a2826"/>
<rect x="77.5" y="280.50" width="21.80" height="4.05" fill="#292c28"/>
<rect x="99" y="280.50" width="22.05" height="4.05" fill="#263b2c"/>
<rect x="120.75" y="280.50" width="22.05" height="4.05" fill="#267e42"/>
<rect x="13" y="284.25" width="21.80" height="3.42" fill="#bc2b31"/>
<rect x="34.5" y="284.25" width="21.80" height="3.42" fill="#6d2124"/>
<rect x="56" y="284.25" width="21.80" height="3.42" fill="#2b2626"/>
<rect x="77.5" y="284.25" width="21.80" height="3.42" fill="#263b2c"/>
<rect x="99" y="284.25" width="22.05" height="3.42" fill="#292927"/>
<rect x="120.75" y="284.25" width="22.05" height="3.42" fill="#235b36"/>
<rect x="13" y="287.38" width="21.80" height="3.42" fill="#af292f"/>
<rect x="34.5" y="287.38" width="21.80" height="3.42" fill="#5e2123"/>
<rect x="56" y="287.38" width="21.80" height="3.42" fill="#2a2626"/>
<rect x="77.5" y="287.38" width="21.80" height="3.42" fill="#263a2c"/>
<rect x="99" y="287.38" width="22.05" height="3.42" fill="#292a27"/>
<rect x="120.75" y="287.38" width="22.05" height="3.42" fill="#224d31"/>
<rect x="13" y="290.50" width="21.80" height="4.05" fill="#bc2b31"/>
<rect x="34.5" y="290.50" width="21.80" height="4.05" fill="#852428"/>
<rect x="56" y="290.50" width="21.80" height="4.05" fill="#292a27"/>
<rect x="77.5" y="290.50" width="21.80" height="4.05" fill="#26392c"/>
<rect x="99" y="290.50" width="22.05" height="4.05" fill="#292c28"/>
<rect x="120.75" y="290.50" width="22.05" height="4.05" fill="#24462f"/>
<rect x="13" y="294.25" width="21.80" height="2.80" fill="#c22d32"/>
<rect x="34.5" y="294.25" width="21.80" height="2.80" fill="#d13234"/>
<rect x="56" y="294.25" width="21.80" height="2.80" fill="#292c28"/>
<rect x="77.5" y="294.25" width="21.80" height="2.80" fill="#263d2c"/>
<rect x="99" y="294.25" width="22.05" height="2.80" fill="#292a27"/>
<rect x="120.75" y="294.25" width="22.05" height="2.80" fill="#292b28"/>
<rect x="13" y="296.75" width="21.80" height="2.80" fill="#e13637"/>
<rect x="34.5" y="296.75" width="21.80" height="2.80" fill="#e63838"/>
<rect x="56" y="296.75" width="21.80" height="2.80" fill="#292c28"/>
<rect x="77.5" y="296.75" width="21.80" height="2.80" fill="#25432e"/>
<rect x="99" y="296.75" width="22.05" height="2.80" fill="#292b28"/>
<rect x="120.75" y="296.75" width="22.05" height="2.80" fill="#24432e"/>
<rect x="13" y="299.25" width="21.80" height="2.80" fill="#be2c31"/>
<rect x="34.5" y="299.25" width="21.80" height="2.80" fill="#b92a30"/>
<rect x="56" y="299.25" width="21.80" height="2.80" fill="#235734"/>
<rect x="77.5" y="299.25" width="21.80" height="2.80" fill="#292c28"/>
<rect x="99" y="299.25" width="22.05" height="2.80" fill="#253f2d"/>
<rect x="120.75" y="299.25" width="22.05" height="2.80" fill="#224f32"/>
<rect x="13" y="301.75" width="21.80" height="2.80" fill="#dc3536"/>
<rect x="34.5" y="301.75" width="21.80" height="2.80" fill="#e33737"/>
<rect x="56" y="301.75" width="21.80" height="2.80" fill="#268143"/>
<rect x="77.5" y="301.75" width="21.80" height="2.80" fill="#292c28"/>
<rect x="99" y="301.75" width="22.05" height="2.80" fill="#234c31"/>
<rect x="120.75" y="301.75" width="22.05" height="2.80" fill="#236238"/>
<rect x="13" y="304.25" width="21.80" height="4.05" fill="#8b2429"/>
<rect x="34.5" y="304.25" width="21.80" height="4.05" fill="#5f2123"/>
<rect x="56" y="304.25" width="21.80" height="4.05" fill="#234c31"/>
<rect x="77.5" y="304.25" width="21.80" height="4.05" fill="#263d2d"/>
<rect x="99" y="304.25" width="22.05" height="4.05" fill="#2e2626"/>
<rect x="120.75" y="304.25" width="22.05" height="4.05" fill="#268343"/>
<rect x="13" y="308.00" width="21.80" height="4.05" fill="#97262b"/>
<rect x="34.5" y="308.00" width="21.80" height="4.05" fill="#b1292f"/>
<rect x="56" y="308.00" width="21.80" height="4.05" fill="#24462f"/>
<rect x="77.5" y="308.00" width="21.80" height="4.05" fill="#292a27"/>
<rect x="99" y="308.00" width="22.05" height="4.05" fill="#302526"/>
<rect x="120.75" y="308.00" width="22.05" height="4.05" fill="#235e37"/>
<rect x="13" y="311.75" width="21.80" height="4.05" fill="#c92f33"/>
<rect x="34.5" y="311.75" width="21.80" height="4.05" fill="#ce3134"/>
<rect x="56" y="311.75" width="21.80" height="4.05" fill="#257940"/>
<rect x="77.5" y="311.75" width="21.80" height="4.05" fill="#234930"/>
<rect x="99" y="311.75" width="22.05" height="4.05" fill="#492325"/>
<rect x="120.75" y="311.75" width="22.05" height="4.05" fill="#234c31"/>
<rect x="13" y="315.50" width="21.80" height="4.05" fill="#c32d32"/>
<rect x="34.5" y="315.50" width="21.80" height="4.05" fill="#a6282d"/>
<rect x="56" y="315.50" width="21.80" height="4.05" fill="#292a27"/>
<rect x="77.5" y="315.50" width="21.80" height="4.05" fill="#32a44d"/>
<rect x="99" y="315.50" width="22.05" height="4.05" fill="#236138"/>
<rect x="120.75" y="315.50" width="22.05" height="4.05" fill="#25432e"/>
<rect x="13" y="319.25" width="21.80" height="4.05" fill="#8a2428"/>
<rect x="34.5" y="319.25" width="21.80" height="4.05" fill="#4f2224"/>
<rect x="56" y="319.25" width="21.80" height="4.05" fill="#2a2726"/>
<rect x="77.5" y="319.25" width="21.80" height="4.05" fill="#225534"/>
<rect x="99" y="319.25" width="22.05" height="4.05" fill="#257940"/>
<rect x="120.75" y="319.25" width="22.05" height="4.05" fill="#263a2c"/>
<rect x="13" y="323.00" width="21.80" height="4.05" fill="#b72a30"/>
<rect x="34.5" y="323.00" width="21.80" height="4.05" fill="#642023"/>
<rect x="56" y="323.00" width="21.80" height="4.05" fill="#2b2626"/>
<rect x="77.5" y="323.00" width="21.80" height="4.05" fill="#25743e"/>
<rect x="99" y="323.00" width="22.05" height="4.05" fill="#43b14e"/>
<rect x="120.75" y="323.00" width="22.05" height="4.05" fill="#263d2d"/>
<rect x="13" y="326.75" width="21.80" height="4.05" fill="#d43235"/>
<rect x="34.5" y="326.75" width="21.80" height="4.05" fill="#892428"/>
<rect x="56" y="326.75" width="21.80" height="4.05" fill="#2f2526"/>
<rect x="77.5" y="326.75" width="21.80" height="4.05" fill="#24462f"/>
<rect x="99" y="326.75" width="22.05" height="4.05" fill="#268845"/>
<rect x="120.75" y="326.75" width="22.05" height="4.05" fill="#292c28"/>
<rect x="13" y="330.50" width="21.80" height="2.80" fill="#e63838"/>
<rect x="34.5" y="330.50" width="21.80" height="2.80" fill="#c22d32"/>
<rect x="56" y="330.50" width="21.80" height="2.80" fill="#2c2626"/>
<rect x="77.5" y="330.50" width="21.80" height="2.80" fill="#4ab74f"/>
<rect x="99" y="330.50" width="22.05" height="2.80" fill="#30a24d"/>
<rect x="120.75" y="330.50" width="22.05" height="2.80" fill="#292b27"/>
<rect x="13" y="333.00" width="21.80" height="2.80" fill="#e63838"/>
<rect x="34.5" y="333.00" width="21.80" height="2.80" fill="#b1292f"/>
<rect x="56" y="333.00" width="21.80" height="2.80" fill="#2f2526"/>
<rect x="77.5" y="333.00" width="21.80" height="2.80" fill="#3ead4e"/>
<rect x="99" y="333.00" width="22.05" height="2.80" fill="#279349"/>
<rect x="120.75" y="333.00" width="22.05" height="2.80" fill="#292c28"/>
<rect x="13" y="335.50" width="21.80" height="4.05" fill="#c82f33"/>
<rect x="34.5" y="335.50" width="21.80" height="4.05" fill="#5e2124"/>
<rect x="56" y="335.50" width="21.80" height="4.05" fill="#2e2626"/>
<rect x="77.5" y="335.50" width="21.80" height="4.05" fill="#246439"/>
<rect x="99" y="335.50" width="22.05" height="4.05" fill="#234b31"/>
<rect x="120.75" y="335.50" width="22.05" height="4.05" fill="#25412e"/>
<rect x="13" y="339.25" width="21.80" height="2.80" fill="#ab282e"/>
<rect x="34.5" y="339.25" width="21.80" height="2.80" fill="#652023"/>
<rect x="56" y="339.25" width="21.80" height="2.80" fill="#312526"/>
<rect x="77.5" y="339.25" width="21.80" height="2.80" fill="#24452f"/>
<rect x="99" y="339.25" width="22.05" height="2.80" fill="#24683a"/>
<rect x="120.75" y="339.25" width="22.05" height="2.80" fill="#25422e"/>
<rect x="13" y="341.75" width="21.80" height="2.80" fill="#862428"/>
<rect x="34.5" y="341.75" width="21.80" height="2.80" fill="#542224"/>
<rect x="56" y="341.75" width="21.80" height="2.80" fill="#2f2626"/>
<rect x="77.5" y="341.75" width="21.80" height="2.80" fill="#263c2c"/>
<rect x="99" y="341.75" width="22.05" height="2.80" fill="#235a36"/>
<rect x="120.75" y="341.75" width="22.05" height="2.80" fill="#292c28"/>
<rect x="13" y="344.25" width="21.80" height="4.05" fill="#95262a"/>
<rect x="34.5" y="344.25" width="21.80" height="4.05" fill="#622123"/>
<rect x="56" y="344.25" width="21.80" height="4.05" fill="#2e2626"/>
<rect x="77.5" y="344.25" width="21.80" height="4.05" fill="#25432e"/>
<rect x="99" y="344.25" width="22.05" height="4.05" fill="#253e2d"/>
<rect x="120.75" y="344.25" width="22.05" height="4.05" fill="#292c28"/>
<rect x="13" y="348.00" width="21.80" height="2.80" fill="#a6282d"/>
<rect x="34.5" y="348.00" width="21.80" height="2.80" fill="#9a262b"/>
<rect x="56" y="348.00" width="21.80" height="2.80" fill="#332526"/>
<rect x="77.5" y="348.00" width="21.80" height="2.80" fill="#234930"/>
<rect x="99" y="348.00" width="22.05" height="2.80" fill="#24452f"/>
<rect x="120.75" y="348.00" width="22.05" height="2.80" fill="#27372b"/>
<rect x="13" y="350.50" width="21.80" height="4.05" fill="#a9282e"/>
<rect x="34.5" y="350.50" width="21.80" height="4.05" fill="#ba2b30"/>
<rect x="56" y="350.50" width="21.80" height="4.05" fill="#302526"/>
<rect x="77.5" y="350.50" width="21.80" height="4.05" fill="#246f3d"/>
<rect x="99" y="350.50" width="22.05" height="4.05" fill="#30a24d"/>
<rect x="120.75" y="350.50" width="22.05" height="4.05" fill="#292b28"/>
<rect x="13" y="354.25" width="21.80" height="4.05" fill="#a7282d"/>
<rect x="34.5" y="354.25" width="21.80" height="4.05" fill="#a1272c"/>
<rect x="56" y="354.25" width="21.80" height="4.05" fill="#302526"/>
<rect x="77.5" y="354.25" width="21.80" height="4.05" fill="#263c2c"/>
<rect x="99" y="354.25" width="22.05" height="4.05" fill="#26392c"/>
<rect x="120.75" y="354.25" width="22.05" height="4.05" fill="#292b27"/>
<rect x="13" y="358.00" width="21.80" height="2.80" fill="#aa282e"/>
<rect x="34.5" y="358.00" width="21.80" height="2.80" fill="#b52a30"/>
<rect x="56" y="358.00" width="21.80" height="2.80" fill="#302526"/>
<rect x="77.5" y="358.00" width="21.80" height="2.80" fill="#31a34d"/>
<rect x="99" y="358.00" width="22.05" height="2.80" fill="#25432e"/>
<rect x="120.75" y="358.00" width="22.05" height="2.80" fill="#292a27"/>
<rect x="13" y="360.50" width="21.80" height="2.80" fill="#b62a30"/>
<rect x="34.5" y="360.50" width="21.80" height="2.80" fill="#b4292f"/>
<rect x="56" y="360.50" width="21.80" height="2.80" fill="#312526"/>
<rect x="77.5" y="360.50" width="21.80" height="2.80" fill="#42b04e"/>
<rect x="99" y="360.50" width="22.05" height="2.80" fill="#24462f"/>
<rect x="120.75" y="360.50" width="22.05" height="2.80" fill="#292b27"/>
<rect x="13" y="363.00" width="21.80" height="2.80" fill="#b92a30"/>
<rect x="34.5" y="363.00" width="21.80" height="2.80" fill="#b0292f"/>
<rect x="56" y="363.00" width="21.80" height="2.80" fill="#322526"/>
<rect x="77.5" y="363.00" width="21.80" height="2.80" fill="#3fae4e"/>
<rect x="99" y="363.00" width="22.05" height="2.80" fill="#253f2d"/>
<rect x="120.75" y="363.00" width="22.05" height="2.80" fill="#25422e"/>
<rect x="13" y="365.50" width="21.80" height="2.80" fill="#a7282d"/>
<rect x="34.5" y="365.50" width="21.80" height="2.80" fill="#ab282e"/>
<rect x="56" y="365.50" width="21.80" height="2.80" fill="#2f2526"/>
<rect x="77.5" y="365.50" width="21.80" height="2.80" fill="#299d4c"/>
<rect x="99" y="365.50" width="22.05" height="2.80" fill="#253f2d"/>
<rect x="120.75" y="365.50" width="22.05" height="2.80" fill="#292c28"/>
<rect x="13" y="368.00" width="21.80" height="4.05" fill="#bf2c31"/>
<rect x="34.5" y="368.00" width="21.80" height="4.05" fill="#be2c31"/>
<rect x="56" y="368.00" width="21.80" height="4.05" fill="#2f2526"/>
<rect x="77.5" y="368.00" width="21.80" height="4.05" fill="#279449"/>
<rect x="99" y="368.00" width="22.05" height="4.05" fill="#263c2c"/>
<rect x="120.75" y="368.00" width="22.05" height="4.05" fill="#246a3b"/>
<rect x="13" y="371.75" width="21.80" height="4.05" fill="#712125"/>
<rect x="34.5" y="371.75" width="21.80" height="4.05" fill="#8a2429"/>
<rect x="56" y="371.75" width="21.80" height="4.05" fill="#2f2526"/>
<rect x="77.5" y="371.75" width="21.80" height="4.05" fill="#3ead4e"/>
<rect x="99" y="371.75" width="22.05" height="4.05" fill="#292b27"/>
<rect x="120.75" y="371.75" width="22.05" height="4.05" fill="#244830"/>
<rect x="13" y="375.50" width="21.80" height="4.05" fill="#bb2b30"/>
<rect x="34.5" y="375.50" width="21.80" height="4.05" fill="#93252a"/>
<rect x="56" y="375.50" width="21.80" height="4.05" fill="#312526"/>
<rect x="77.5" y="375.50" width="21.80" height="4.05" fill="#253f2d"/>
<rect x="99" y="375.50" width="22.05" height="4.05" fill="#263d2d"/>
<rect x="120.75" y="375.50" width="22.05" height="4.05" fill="#253f2d"/>
<rect x="13" y="379.25" width="21.80" height="2.80" fill="#ba2b30"/>
<rect x="34.5" y="379.25" width="21.80" height="2.80" fill="#782226"/>
<rect x="56" y="379.25" width="21.80" height="2.80" fill="#2f2626"/>
<rect x="77.5" y="379.25" width="21.80" height="2.80" fill="#37a84d"/>
<rect x="99" y="379.25" width="22.05" height="2.80" fill="#225534"/>
<rect x="120.75" y="379.25" width="22.05" height="2.80" fill="#292b28"/>
<rect x="13" y="381.75" width="21.80" height="2.80" fill="#cd3034"/>
<rect x="34.5" y="381.75" width="21.80" height="2.80" fill="#842327"/>
<rect x="56" y="381.75" width="21.80" height="2.80" fill="#312526"/>
<rect x="77.5" y="381.75" width="21.80" height="2.80" fill="#4bb74f"/>
<rect x="99" y="381.75" width="22.05" height="2.80" fill="#234b31"/>
<rect x="120.75" y="381.75" width="22.05" height="2.80" fill="#263c2c"/>
<rect x="13" y="384.25" width="21.80" height="4.05" fill="#a0272c"/>
<rect x="34.5" y="384.25" width="21.80" height="4.05" fill="#6c2124"/>
<rect x="56" y="384.25" width="21.80" height="4.05" fill="#322526"/>
<rect x="77.5" y="384.25" width="21.80" height="4.05" fill="#235b36"/>
<rect x="99" y="384.25" width="22.05" height="4.05" fill="#263c2c"/>
<rect x="120.75" y="384.25" width="22.05" height="4.05" fill="#25422e"/>
<rect x="13" y="388.00" width="21.80" height="4.05" fill="#d13234"/>
<rect x="34.5" y="388.00" width="21.80" height="4.05" fill="#8c2429"/>
<rect x="56" y="388.00" width="21.80" height="4.05" fill="#312526"/>
<rect x="77.5" y="388.00" width="21.80" height="4.05" fill="#267e42"/>
<rect x="99" y="388.00" width="22.05" height="4.05" fill="#292b27"/>
<rect x="120.75" y="388.00" width="22.05" height="4.05" fill="#27382b"/>
<rect x="13" y="391.75" width="21.80" height="4.05" fill="#b52a30"/>
<rect x="34.5" y="391.75" width="21.80" height="4.05" fill="#8e2529"/>
<rect x="56" y="391.75" width="21.80" height="4.05" fill="#322526"/>
<rect x="77.5" y="391.75" width="21.80" height="4.05" fill="#33a54d"/>
<rect x="99" y="391.75" width="22.05" height="4.05" fill="#292927"/>
<rect x="120.75" y="391.75" width="22.05" height="4.05" fill="#25402d"/>
<rect x="13" y="395.50" width="21.80" height="2.80" fill="#8f2529"/>
<rect x="34.5" y="395.50" width="21.80" height="2.80" fill="#812327"/>
<rect x="56" y="395.50" width="21.80" height="2.80" fill="#322526"/>
<rect x="77.5" y="395.50" width="21.80" height="2.80" fill="#40af4e"/>
<rect x="99" y="395.50" width="22.05" height="2.80" fill="#292c28"/>
<rect x="120.75" y="395.50" width="22.05" height="2.80" fill="#225634"/>
<rect x="13" y="398.00" width="21.80" height="2.80" fill="#ae292e"/>
<rect x="34.5" y="398.00" width="21.80" height="2.80" fill="#95262a"/>
<rect x="56" y="398.00" width="21.80" height="2.80" fill="#302526"/>
<rect x="77.5" y="398.00" width="21.80" height="2.80" fill="#55bf50"/>
<rect x="99" y="398.00" width="22.05" height="2.80" fill="#292a27"/>
<rect x="120.75" y="398.00" width="22.05" height="2.80" fill="#236138"/>
<rect x="13" y="400.50" width="21.80" height="2.80" fill="#4d2324"/>
<rect x="34.5" y="400.50" width="21.80" height="2.80" fill="#512224"/>
<rect x="56" y="400.50" width="21.80" height="2.80" fill="#2c2626"/>
<rect x="77.5" y="400.50" width="21.80" height="2.80" fill="#612123"/>
<rect x="99" y="400.50" width="22.05" height="2.80" fill="#2f2526"/>
<rect x="120.75" y="400.50" width="22.05" height="2.80" fill="#462325"/>
<rect x="13" y="403.00" width="21.80" height="2.80" fill="#31a34d"/>
<rect x="34.5" y="403.00" width="21.80" height="2.80" fill="#225333"/>
<rect x="56" y="403.00" width="21.80" height="2.80" fill="#2da04c"/>
<rect x="77.5" y="403.00" width="21.80" height="2.80" fill="#792226"/>
<rect x="99" y="403.00" width="22.05" height="2.80" fill="#582224"/>
<rect x="120.75" y="403.00" width="22.05" height="2.80" fill="#6a2023"/>
<rect x="13" y="405.50" width="21.80" height="2.80" fill="#48b54f"/>
<rect x="34.5" y="405.50" width="21.80" height="2.80" fill="#235735"/>
<rect x="56" y="405.50" width="21.80" height="2.80" fill="#49b64f"/>
<rect x="77.5" y="405.50" width="21.80" height="2.80" fill="#93252a"/>
<rect x="99" y="405.50" width="22.05" height="2.80" fill="#652023"/>
<rect x="120.75" y="405.50" width="22.05" height="2.80" fill="#652023"/>
<rect x="13" y="408.00" width="21.80" height="4.05" fill="#257c41"/>
<rect x="34.5" y="408.00" width="21.80" height="4.05" fill="#24432e"/>
<rect x="56" y="408.00" width="21.80" height="4.05" fill="#292b28"/>
<rect x="77.5" y="408.00" width="21.80" height="4.05" fill="#732125"/>
<rect x="99" y="408.00" width="22.05" height="4.05" fill="#532224"/>
<rect x="120.75" y="408.00" width="22.05" height="4.05" fill="#502224"/>
<rect x="13" y="411.75" width="21.80" height="4.05" fill="#24462f"/>
<rect x="34.5" y="411.75" width="21.80" height="4.05" fill="#24452f"/>
<rect x="56" y="411.75" width="21.80" height="4.05" fill="#46b44f"/>
<rect x="77.5" y="411.75" width="21.80" height="4.05" fill="#c02d31"/>
<rect x="99" y="411.75" width="22.05" height="4.05" fill="#632023"/>
<rect x="120.75" y="411.75" width="22.05" height="4.05" fill="#672023"/>
<rect x="13" y="415.50" width="21.80" height="4.05" fill="#267d41"/>
<rect x="34.5" y="415.50" width="21.80" height="4.05" fill="#25733e"/>
<rect x="56" y="415.50" width="21.80" height="4.05" fill="#54be50"/>
<rect x="77.5" y="415.50" width="21.80" height="4.05" fill="#862428"/>
<rect x="99" y="415.50" width="22.05" height="4.05" fill="#722125"/>
<rect x="120.75" y="415.50" width="22.05" height="4.05" fill="#752225"/>
<rect x="13" y="419.25" width="21.80" height="2.80" fill="#235a35"/>
<rect x="34.5" y="419.25" width="21.80" height="2.80" fill="#234830"/>
<rect x="56" y="419.25" width="21.80" height="2.80" fill="#42b04e"/>
<rect x="77.5" y="419.25" width="21.80" height="2.80" fill="#d93436"/>
<rect x="99" y="419.25" width="22.05" height="2.80" fill="#612123"/>
<rect x="120.75" y="419.25" width="22.05" height="2.80" fill="#602123"/>
<rect x="13" y="421.75" width="21.80" height="2.80" fill="#234a30"/>
<rect x="34.5" y="421.75" width="21.80" height="2.80" fill="#234b31"/>
<rect x="56" y="421.75" width="21.80" height="2.80" fill="#3aaa4e"/>
<rect x="77.5" y="421.75" width="21.80" height="2.80" fill="#d13234"/>
<rect x="99" y="421.75" width="22.05" height="2.80" fill="#652023"/>
<rect x="120.75" y="421.75" width="22.05" height="2.80" fill="#5f2123"/>
<rect x="13" y="424.25" width="21.80" height="4.05" fill="#41af4e"/>
<rect x="34.5" y="424.25" width="21.80" height="4.05" fill="#263d2d"/>
<rect x="56" y="424.25" width="21.80" height="4.05" fill="#292a27"/>
<rect x="77.5" y="424.25" width="21.80" height="4.05" fill="#752225"/>
<rect x="99" y="424.25" width="22.05" height="4.05" fill="#602123"/>
<rect x="120.75" y="424.25" width="22.05" height="4.05" fill="#5a2124"/>
<rect x="13" y="428.00" width="21.80" height="2.80" fill="#24693a"/>
<rect x="34.5" y="428.00" width="21.80" height="2.80" fill="#225534"/>
<rect x="56" y="428.00" width="21.80" height="2.80" fill="#2b9e4c"/>
<rect x="77.5" y="428.00" width="21.80" height="2.80" fill="#632023"/>
<rect x="99" y="428.00" width="22.05" height="2.80" fill="#8a2428"/>
<rect x="120.75" y="428.00" width="22.05" height="2.80" fill="#4c2324"/>
<rect x="13" y="430.50" width="21.80" height="4.05" fill="#35a64d"/>
<rect x="34.5" y="430.50" width="21.80" height="4.05" fill="#35a64d"/>
<rect x="56" y="430.50" width="21.80" height="4.05" fill="#263c2c"/>
<rect x="77.5" y="430.50" width="21.80" height="4.05" fill="#6b2023"/>
<rect x="99" y="430.50" width="22.05" height="4.05" fill="#a3272d"/>
<rect x="120.75" y="430.50" width="22.05" height="4.05" fill="#552224"/>
<rect x="13" y="434.25" width="21.80" height="2.80" fill="#246f3d"/>
<rect x="34.5" y="434.25" width="21.80" height="2.80" fill="#236037"/>
<rect x="56" y="434.25" width="21.80" height="2.80" fill="#292c28"/>
<rect x="77.5" y="434.25" width="21.80" height="2.80" fill="#8b2429"/>
<rect x="99" y="434.25" width="22.05" height="2.80" fill="#b52a30"/>
<rect x="120.75" y="434.25" width="22.05" height="2.80" fill="#492325"/>
<rect x="13" y="436.75" width="21.80" height="2.80" fill="#234b31"/>
<rect x="34.5" y="436.75" width="21.80" height="2.80" fill="#235e37"/>
<rect x="56" y="436.75" width="21.80" height="2.80" fill="#292a27"/>
<rect x="77.5" y="436.75" width="21.80" height="2.80" fill="#772225"/>
<rect x="99" y="436.75" width="22.05" height="2.80" fill="#96262a"/>
<rect x="120.75" y="436.75" width="22.05" height="2.80" fill="#502224"/>
<rect x="13" y="439.25" width="21.80" height="2.80" fill="#267f42"/>
<rect x="34.5" y="439.25" width="21.80" height="2.80" fill="#235f37"/>
<rect x="56" y="439.25" width="21.80" height="2.80" fill="#292b27"/>
<rect x="77.5" y="439.25" width="21.80" height="2.80" fill="#582224"/>
<rect x="99" y="439.25" width="22.05" height="2.80" fill="#562224"/>
<rect x="120.75" y="439.25" width="22.05" height="2.80" fill="#4d2324"/>
<rect x="13" y="441.75" width="21.80" height="3.22" fill="#4cb84f"/>
<rect x="34.5" y="441.75" width="21.80" height="3.22" fill="#257a40"/>
<rect x="56" y="441.75" width="21.80" height="3.22" fill="#292b27"/>
<rect x="77.5" y="441.75" width="21.80" height="3.22" fill="#682023"/>
<rect x="99" y="441.75" width="22.05" height="3.22" fill="#312526"/>
<rect x="120.75" y="441.75" width="22.05" height="3.22" fill="#452325"/>
<rect x="13" y="444.67" width="21.80" height="3.22" fill="#2fa14d"/>
<rect x="34.5" y="444.67" width="21.80" height="3.22" fill="#236338"/>
<rect x="56" y="444.67" width="21.80" height="3.22" fill="#292a27"/>
<rect x="77.5" y="444.67" width="21.80" height="3.22" fill="#4e2324"/>
<rect x="99" y="444.67" width="22.05" height="3.22" fill="#302526"/>
<rect x="120.75" y="444.67" width="22.05" height="3.22" fill="#4c2324"/>
<rect x="13" y="447.58" width="21.80" height="3.22" fill="#56c050"/>
<rect x="34.5" y="447.58" width="21.80" height="3.22" fill="#268745"/>
<rect x="56" y="447.58" width="21.80" height="3.22" fill="#263a2c"/>
<rect x="77.5" y="447.58" width="21.80" height="3.22" fill="#6d2124"/>
<rect x="99" y="447.58" width="22.05" height="3.22" fill="#322526"/>
<rect x="120.75" y="447.58" width="22.05" height="3.22" fill="#4d2324"/>
<rect x="13" y="450.50" width="21.80" height="2.80" fill="#2a9d4c"/>
<rect x="34.5" y="450.50" width="21.80" height="2.80" fill="#235d37"/>
<rect x="56" y="450.50" width="21.80" height="2.80" fill="#27372b"/>
<rect x="77.5" y="450.50" width="21.80" height="2.80" fill="#852428"/>
<rect x="99" y="450.50" width="22.05" height="2.80" fill="#462325"/>
<rect x="120.75" y="450.50" width="22.05" height="2.80" fill="#4f2224"/>
<rect x="13" y="453.00" width="21.80" height="2.80" fill="#38a94d"/>
<rect x="34.5" y="453.00" width="21.80" height="2.80" fill="#24663a"/>
<rect x="56" y="453.00" width="21.80" height="2.80" fill="#27382b"/>
<rect x="77.5" y="453.00" width="21.80" height="2.80" fill="#812327"/>
<rect x="99" y="453.00" width="22.05" height="2.80" fill="#332526"/>
<rect x="120.75" y="453.00" width="22.05" height="2.80" fill="#462325"/>
<rect x="13" y="455.50" width="21.80" height="2.80" fill="#56c050"/>
<rect x="34.5" y="455.50" width="21.80" height="2.80" fill="#235f37"/>
<rect x="56" y="455.50" width="21.80" height="2.80" fill="#292b27"/>
<rect x="77.5" y="455.50" width="21.80" height="2.80" fill="#93252a"/>
<rect x="99" y="455.50" width="22.05" height="2.80" fill="#482325"/>
<rect x="120.75" y="455.50" width="22.05" height="2.80" fill="#4c2324"/>
<rect x="13" y="458.00" width="21.80" height="2.80" fill="#4fba4f"/>
<rect x="34.5" y="458.00" width="21.80" height="2.80" fill="#234b31"/>
<rect x="56" y="458.00" width="21.80" height="2.80" fill="#292b27"/>
<rect x="77.5" y="458.00" width="21.80" height="2.80" fill="#7b2226"/>
<rect x="99" y="458.00" width="22.05" height="2.80" fill="#312526"/>
<rect x="120.75" y="458.00" width="22.05" height="2.80" fill="#492325"/>
<rect x="13" y="460.50" width="21.80" height="2.80" fill="#33a54d"/>
<rect x="34.5" y="460.50" width="21.80" height="2.80" fill="#234930"/>
<rect x="56" y="460.50" width="21.80" height="2.80" fill="#292a27"/>
<rect x="77.5" y="460.50" width="21.80" height="2.80" fill="#742125"/>
<rect x="99" y="460.50" width="22.05" height="2.80" fill="#2e2626"/>
<rect x="120.75" y="460.50" width="22.05" height="2.80" fill="#5a2124"/>
<rect x="13" y="463.00" width="21.80" height="2.80" fill="#289a4b"/>
<rect x="34.5" y="463.00" width="21.80" height="2.80" fill="#24442f"/>
<rect x="56" y="463.00" width="21.80" height="2.80" fill="#292c28"/>
<rect x="77.5" y="463.00" width="21.80" height="2.80" fill="#692023"/>
<rect x="99" y="463.00" width="22.05" height="2.80" fill="#2f2626"/>
<rect x="120.75" y="463.00" width="22.05" height="2.80" fill="#462325"/>
<rect x="13" y="465.50" width="21.80" height="2.80" fill="#36a74d"/>
<rect x="34.5" y="465.50" width="21.80" height="2.80" fill="#225233"/>
<rect x="56" y="465.50" width="21.80" height="2.80" fill="#292927"/>
<rect x="77.5" y="465.50" width="21.80" height="2.80" fill="#642023"/>
<rect x="99" y="465.50" width="22.05" height="2.80" fill="#322526"/>
<rect x="120.75" y="465.50" width="22.05" height="2.80" fill="#4c2324"/>
<rect x="13" y="468.00" width="21.80" height="4.05" fill="#246f3d"/>
<rect x="34.5" y="468.00" width="21.80" height="4.05" fill="#225032"/>
<rect x="56" y="468.00" width="21.80" height="4.05" fill="#292b28"/>
<rect x="77.5" y="468.00" width="21.80" height="4.05" fill="#562224"/>
<rect x="99" y="468.00" width="22.05" height="4.05" fill="#302526"/>
<rect x="120.75" y="468.00" width="22.05" height="4.05" fill="#4c2324"/>
<rect x="13" y="471.75" width="21.80" height="4.05" fill="#279449"/>
<rect x="34.5" y="471.75" width="21.80" height="4.05" fill="#236038"/>
<rect x="56" y="471.75" width="21.80" height="4.05" fill="#25402d"/>
<rect x="77.5" y="471.75" width="21.80" height="4.05" fill="#682023"/>
<rect x="99" y="471.75" width="22.05" height="4.05" fill="#472325"/>
<rect x="120.75" y="471.75" width="22.05" height="4.05" fill="#4c2324"/>
<rect x="13" y="475.50" width="21.80" height="2.80" fill="#3aaa4e"/>
<rect x="34.5" y="475.50" width="21.80" height="2.80" fill="#24472f"/>
<rect x="56" y="475.50" width="21.80" height="2.80" fill="#235a35"/>
<rect x="77.5" y="475.50" width="21.80" height="2.80" fill="#5b2124"/>
<rect x="99" y="475.50" width="22.05" height="2.80" fill="#332526"/>
<rect x="120.75" y="475.50" width="22.05" height="2.80" fill="#2e2626"/>
<rect x="13" y="478.00" width="21.80" height="2.80" fill="#43b14e"/>
<rect x="34.5" y="478.00" width="21.80" height="2.80" fill="#234a30"/>
<rect x="56" y="478.00" width="21.80" height="2.80" fill="#235835"/>
<rect x="77.5" y="478.00" width="21.80" height="2.80" fill="#6b2024"/>
<rect x="99" y="478.00" width="22.05" height="2.80" fill="#2e2626"/>
<rect x="120.75" y="478.00" width="22.05" height="2.80" fill="#302526"/>
<rect x="13" y="480.50" width="21.80" height="4.05" fill="#2b9e4c"/>
<rect x="34.5" y="480.50" width="21.80" height="4.05" fill="#224f32"/>
<rect x="56" y="480.50" width="21.80" height="4.05" fill="#234830"/>
<rect x="77.5" y="480.50" width="21.80" height="4.05" fill="#452325"/>
<rect x="99" y="480.50" width="22.05" height="4.05" fill="#2e2626"/>
<rect x="120.75" y="480.50" width="22.05" height="4.05" fill="#312526"/>
<rect x="13" y="484.25" width="21.80" height="4.05" fill="#268042"/>
<rect x="34.5" y="484.25" width="21.80" height="4.05" fill="#25412e"/>
<rect x="56" y="484.25" width="21.80" height="4.05" fill="#27372b"/>
<rect x="77.5" y="484.25" width="21.80" height="4.05" fill="#9d272c"/>
<rect x="99" y="484.25" width="22.05" height="4.05" fill="#442325"/>
<rect x="120.75" y="484.25" width="22.05" height="4.05" fill="#4b2324"/>
<rect x="13" y="488.00" width="21.80" height="2.80" fill="#25713d"/>
<rect x="34.5" y="488.00" width="21.80" height="2.80" fill="#234d31"/>
<rect x="56" y="488.00" width="21.80" height="2.80" fill="#292a27"/>
<rect x="77.5" y="488.00" width="21.80" height="2.80" fill="#572224"/>
<rect x="99" y="488.00" width="22.05" height="2.80" fill="#452325"/>
<rect x="120.75" y="488.00" width="22.05" height="2.80" fill="#6f2124"/>
<rect x="13" y="490.50" width="21.80" height="2.80" fill="#268644"/>
<rect x="34.5" y="490.50" width="21.80" height="2.80" fill="#234b30"/>
<rect x="56" y="490.50" width="21.80" height="2.80" fill="#292b28"/>
<rect x="77.5" y="490.50" width="21.80" height="2.80" fill="#4e2224"/>
<rect x="99" y="490.50" width="22.05" height="2.80" fill="#322526"/>
<rect x="120.75" y="490.50" width="22.05" height="2.80" fill="#6b2024"/>
<rect x="13" y="493.00" width="21.80" height="2.80" fill="#3dad4e"/>
<rect x="34.5" y="493.00" width="21.80" height="2.80" fill="#244830"/>
<rect x="56" y="493.00" width="21.80" height="2.80" fill="#292b27"/>
<rect x="77.5" y="493.00" width="21.80" height="2.80" fill="#2a2726"/>
<rect x="99" y="493.00" width="22.05" height="2.80" fill="#5f2123"/>
<rect x="120.75" y="493.00" width="22.05" height="2.80" fill="#742125"/>
<rect x="13" y="495.50" width="21.80" height="2.80" fill="#56c050"/>
<rect x="34.5" y="495.50" width="21.80" height="2.80" fill="#246339"/>
<rect x="56" y="495.50" width="21.80" height="2.80" fill="#292a27"/>
<rect x="77.5" y="495.50" width="21.80" height="2.80" fill="#2c2626"/>
<rect x="99" y="495.50" width="22.05" height="2.80" fill="#622123"/>
<rect x="120.75" y="495.50" width="22.05" height="2.80" fill="#9f272c"/>
<rect x="13" y="498.00" width="21.80" height="2.80" fill="#44b24e"/>
<rect x="34.5" y="498.00" width="21.80" height="2.80" fill="#246b3b"/>
<rect x="56" y="498.00" width="21.80" height="2.80" fill="#292b27"/>
<rect x="77.5" y="498.00" width="21.80" height="2.80" fill="#312526"/>
<rect x="99" y="498.00" width="22.05" height="2.80" fill="#812327"/>
<rect x="120.75" y="498.00" width="22.05" height="2.80" fill="#9d272c"/>
<rect x="13" y="500.50" width="21.80" height="2.80" fill="#3fae4e"/>
<rect x="34.5" y="500.50" width="21.80" height="2.80" fill="#236338"/>
<rect x="56" y="500.50" width="21.80" height="2.80" fill="#292b27"/>
<rect x="77.5" y="500.50" width="21.80" height="2.80" fill="#312526"/>
<rect x="99" y="500.50" width="22.05" height="2.80" fill="#772225"/>
<rect x="120.75" y="500.50" width="22.05" height="2.80" fill="#9d272c"/>
<rect x="13" y="503.00" width="21.80" height="2.80" fill="#25773f"/>
<rect x="34.5" y="503.00" width="21.80" height="2.80" fill="#24472f"/>
<rect x="56" y="503.00" width="21.80" height="2.80" fill="#292b27"/>
<rect x="77.5" y="503.00" width="21.80" height="2.80" fill="#522224"/>
<rect x="99" y="503.00" width="22.05" height="2.80" fill="#482325"/>
<rect x="120.75" y="503.00" width="22.05" height="2.80" fill="#5e2123"/>
<rect x="13" y="505.50" width="21.80" height="2.80" fill="#25763f"/>
<rect x="34.5" y="505.50" width="21.80" height="2.80" fill="#225032"/>
<rect x="56" y="505.50" width="21.80" height="2.80" fill="#292a27"/>
<rect x="77.5" y="505.50" width="21.80" height="2.80" fill="#562224"/>
<rect x="99" y="505.50" width="22.05" height="2.80" fill="#322526"/>
<rect x="120.75" y="505.50" width="22.05" height="2.80" fill="#6b2024"/>
<rect x="13" y="508.00" width="21.80" height="4.05" fill="#268845"/>
<rect x="34.5" y="508.00" width="21.80" height="4.05" fill="#236138"/>
<rect x="56" y="508.00" width="21.80" height="4.05" fill="#2a2827"/>
<rect x="77.5" y="508.00" width="21.80" height="4.05" fill="#482325"/>
<rect x="99" y="508.00" width="22.05" height="4.05" fill="#322526"/>
<rect x="120.75" y="508.00" width="22.05" height="4.05" fill="#482325"/>
<rect x="13" y="511.75" width="21.80" height="3.42" fill="#56c050"/>
<rect x="34.5" y="511.75" width="21.80" height="3.42" fill="#35a64d"/>
<rect x="56" y="511.75" width="21.80" height="3.42" fill="#292c28"/>
<rect x="77.5" y="511.75" width="21.80" height="3.42" fill="#572224"/>
<rect x="99" y="511.75" width="22.05" height="3.42" fill="#2e2626"/>
<rect x="120.75" y="511.75" width="22.05" height="3.42" fill="#a5282d"/>
<rect x="13" y="514.88" width="21.80" height="3.42" fill="#42b14e"/>
<rect x="34.5" y="514.88" width="21.80" height="3.42" fill="#279249"/>
<rect x="56" y="514.88" width="21.80" height="3.42" fill="#292b27"/>
<rect x="77.5" y="514.88" width="21.80" height="3.42" fill="#512224"/>
<rect x="99" y="514.88" width="22.05" height="3.42" fill="#322526"/>
<rect x="120.75" y="514.88" width="22.05" height="3.42" fill="#872428"/>
<rect x="13" y="518.00" width="21.80" height="2.80" fill="#37a84d"/>
<rect x="34.5" y="518.00" width="21.80" height="2.80" fill="#268444"/>
<rect x="56" y="518.00" width="21.80" height="2.80" fill="#292a27"/>
<rect x="77.5" y="518.00" width="21.80" height="2.80" fill="#642023"/>
<rect x="99" y="518.00" width="22.05" height="2.80" fill="#2f2526"/>
<rect x="120.75" y="518.00" width="22.05" height="2.80" fill="#9a262b"/>
<rect x="13" y="520.50" width="21.80" height="2.80" fill="#3fae4e"/>
<rect x="34.5" y="520.50" width="21.80" height="2.80" fill="#279249"/>
<rect x="56" y="520.50" width="21.80" height="2.80" fill="#292a27"/>
<rect x="77.5" y="520.50" width="21.80" height="2.80" fill="#5f2123"/>
<rect x="99" y="520.50" width="22.05" height="2.80" fill="#302526"/>
<rect x="120.75" y="520.50" width="22.05" height="2.80" fill="#a1272c"/>
<rect x="13" y="523.00" width="21.80" height="2.80" fill="#37a84d"/>
<rect x="34.5" y="523.00" width="21.80" height="2.80" fill="#236037"/>
<rect x="56" y="523.00" width="21.80" height="2.80" fill="#292c28"/>
<rect x="77.5" y="523.00" width="21.80" height="2.80" fill="#94252a"/>
<rect x="99" y="523.00" width="22.05" height="2.80" fill="#312526"/>
<rect x="120.75" y="523.00" width="22.05" height="2.80" fill="#892428"/>
<rect x="13" y="525.50" width="21.80" height="2.80" fill="#30a24d"/>
<rect x="34.5" y="525.50" width="21.80" height="2.80" fill="#246339"/>
<rect x="56" y="525.50" width="21.80" height="2.80" fill="#292b28"/>
<rect x="77.5" y="525.50" width="21.80" height="2.80" fill="#832327"/>
<rect x="99" y="525.50" width="22.05" height="2.80" fill="#2e2626"/>
<rect x="120.75" y="525.50" width="22.05" height="2.80" fill="#8f2529"/>
<rect x="13" y="528.00" width="21.80" height="4.05" fill="#279048"/>
<rect x="34.5" y="528.00" width="21.80" height="4.05" fill="#234930"/>
<rect x="56" y="528.00" width="21.80" height="4.05" fill="#292a27"/>
<rect x="77.5" y="528.00" width="21.80" height="4.05" fill="#782226"/>
<rect x="99" y="528.00" width="22.05" height="4.05" fill="#322526"/>
<rect x="120.75" y="528.00" width="22.05" height="4.05" fill="#632023"/>
<rect x="13" y="531.75" width="21.80" height="2.80" fill="#24442f"/>
<rect x="34.5" y="531.75" width="21.80" height="2.80" fill="#279048"/>
<rect x="56" y="531.75" width="21.80" height="2.80" fill="#263c2c"/>
<rect x="77.5" y="531.75" width="21.80" height="2.80" fill="#a8282d"/>
<rect x="99" y="531.75" width="22.05" height="2.80" fill="#312526"/>
<rect x="120.75" y="531.75" width="22.05" height="2.80" fill="#a0272c"/>
<rect x="13" y="534.25" width="21.80" height="2.80" fill="#25422e"/>
<rect x="34.5" y="534.25" width="21.80" height="2.80" fill="#268042"/>
<rect x="56" y="534.25" width="21.80" height="2.80" fill="#236238"/>
<rect x="77.5" y="534.25" width="21.80" height="2.80" fill="#93252a"/>
<rect x="99" y="534.25" width="22.05" height="2.80" fill="#522224"/>
<rect x="120.75" y="534.25" width="22.05" height="2.80" fill="#ca2f33"/>
<rect x="13" y="536.75" width="21.80" height="2.80" fill="#263c2c"/>
<rect x="34.5" y="536.75" width="21.80" height="2.80" fill="#268544"/>
<rect x="56" y="536.75" width="21.80" height="2.80" fill="#224f32"/>
<rect x="77.5" y="536.75" width="21.80" height="2.80" fill="#95262a"/>
<rect x="99" y="536.75" width="22.05" height="2.80" fill="#4e2224"/>
<rect x="120.75" y="536.75" width="22.05" height="2.80" fill="#cc3034"/>
<rect x="13" y="539.25" width="21.80" height="2.80" fill="#234930"/>
<rect x="34.5" y="539.25" width="21.80" height="2.80" fill="#236138"/>
<rect x="56" y="539.25" width="21.80" height="2.80" fill="#234930"/>
<rect x="77.5" y="539.25" width="21.80" height="2.80" fill="#822327"/>
<rect x="99" y="539.25" width="22.05" height="2.80" fill="#482325"/>
<rect x="120.75" y="539.25" width="22.05" height="2.80" fill="#bc2b31"/>
<rect x="13" y="541.75" width="21.80" height="2.80" fill="#25422e"/>
<rect x="34.5" y="541.75" width="21.80" height="2.80" fill="#246439"/>
<rect x="56" y="541.75" width="21.80" height="2.80" fill="#24442f"/>
<rect x="77.5" y="541.75" width="21.80" height="2.80" fill="#9a262b"/>
<rect x="99" y="541.75" width="22.05" height="2.80" fill="#502224"/>
<rect x="120.75" y="541.75" width="22.05" height="2.80" fill="#c22d32"/>
<rect x="13" y="544.25" width="21.80" height="4.05" fill="#225032"/>
<rect x="34.5" y="544.25" width="21.80" height="4.05" fill="#225233"/>
<rect x="56" y="544.25" width="21.80" height="4.05" fill="#292b27"/>
<rect x="77.5" y="544.25" width="21.80" height="4.05" fill="#592124"/>
<rect x="99" y="544.25" width="22.05" height="4.05" fill="#312526"/>
<rect x="120.75" y="544.25" width="22.05" height="4.05" fill="#672023"/>
<rect x="13" y="548.00" width="21.80" height="4.05" fill="#234c31"/>
<rect x="34.5" y="548.00" width="21.80" height="4.05" fill="#234c31"/>
<rect x="56" y="548.00" width="21.80" height="4.05" fill="#263c2c"/>
<rect x="77.5" y="548.00" width="21.80" height="4.05" fill="#9c262b"/>
<rect x="99" y="548.00" width="22.05" height="4.05" fill="#4a2324"/>
<rect x="120.75" y="548.00" width="22.05" height="4.05" fill="#94252a"/>
<rect x="13" y="551.75" width="21.80" height="4.05" fill="#235935"/>
<rect x="34.5" y="551.75" width="21.80" height="4.05" fill="#50bb4f"/>
<rect x="56" y="551.75" width="21.80" height="4.05" fill="#25412e"/>
<rect x="77.5" y="551.75" width="21.80" height="4.05" fill="#882428"/>
<rect x="99" y="551.75" width="22.05" height="4.05" fill="#492325"/>
<rect x="120.75" y="551.75" width="22.05" height="4.05" fill="#b82a30"/>
<rect x="13" y="555.50" width="21.80" height="4.05" fill="#257a40"/>
<rect x="34.5" y="555.50" width="21.80" height="4.05" fill="#43b14e"/>
<rect x="56" y="555.50" width="21.80" height="4.05" fill="#244830"/>
<rect x="77.5" y="555.50" width="21.80" height="4.05" fill="#622123"/>
<rect x="99" y="555.50" width="22.05" height="4.05" fill="#302526"/>
<rect x="120.75" y="555.50" width="22.05" height="4.05" fill="#a7282d"/>
<rect x="13" y="559.25" width="21.80" height="4.05" fill="#292a27"/>
<rect x="34.5" y="559.25" width="21.80" height="4.05" fill="#234c31"/>
<rect x="56" y="559.25" width="21.80" height="4.05" fill="#292b28"/>
<rect x="77.5" y="559.25" width="21.80" height="4.05" fill="#4a2324"/>
<rect x="99" y="559.25" width="22.05" height="4.05" fill="#302526"/>
<rect x="120.75" y="559.25" width="22.05" height="4.05" fill="#562224"/>
<rect x="13" y="563.00" width="21.80" height="2.80" fill="#25763f"/>
<rect x="34.5" y="563.00" width="21.80" height="2.80" fill="#24693b"/>
<rect x="56" y="563.00" width="21.80" height="2.80" fill="#292927"/>
<rect x="77.5" y="563.00" width="21.80" height="2.80" fill="#452325"/>
<rect x="99" y="563.00" width="22.05" height="2.80" fill="#292b27"/>
<rect x="120.75" y="563.00" width="22.05" height="2.80" fill="#332526"/>
<rect x="13" y="565.50" width="21.80" height="2.80" fill="#25753f"/>
<rect x="34.5" y="565.50" width="21.80" height="2.80" fill="#236037"/>
<rect x="56" y="565.50" width="21.80" height="2.80" fill="#292927"/>
<rect x="77.5" y="565.50" width="21.80" height="2.80" fill="#322526"/>
<rect x="99" y="565.50" width="22.05" height="2.80" fill="#292a27"/>
<rect x="120.75" y="565.50" width="22.05" height="2.80" fill="#332526"/>
<rect x="13" y="568.00" width="21.80" height="4.05" fill="#279349"/>
<rect x="34.5" y="568.00" width="21.80" height="4.05" fill="#234d31"/>
<rect x="56" y="568.00" width="21.80" height="4.05" fill="#292b27"/>
<rect x="77.5" y="568.00" width="21.80" height="4.05" fill="#4c2324"/>
<rect x="99" y="568.00" width="22.05" height="4.05" fill="#292c28"/>
<rect x="120.75" y="568.00" width="22.05" height="4.05" fill="#322526"/>
<rect x="13" y="571.75" width="21.80" height="2.80" fill="#268644"/>
<rect x="34.5" y="571.75" width="21.80" height="2.80" fill="#47b44f"/>
<rect x="56" y="571.75" width="21.80" height="2.80" fill="#292a27"/>
<rect x="77.5" y="571.75" width="21.80" height="2.80" fill="#902529"/>
<rect x="99" y="571.75" width="22.05" height="2.80" fill="#292a27"/>
<rect x="120.75" y="571.75" width="22.05" height="2.80" fill="#312526"/>
<rect x="13" y="574.25" width="21.80" height="2.80" fill="#25763f"/>
<rect x="34.5" y="574.25" width="21.80" height="2.80" fill="#40af4e"/>
<rect x="56" y="574.25" width="21.80" height="2.80" fill="#292a27"/>
<rect x="77.5" y="574.25" width="21.80" height="2.80" fill="#852428"/>
<rect x="99" y="574.25" width="22.05" height="2.80" fill="#292927"/>
<rect x="120.75" y="574.25" width="22.05" height="2.80" fill="#4d2324"/>
<rect x="13" y="576.75" width="21.80" height="4.05" fill="#246e3c"/>
<rect x="34.5" y="576.75" width="21.80" height="4.05" fill="#3fae4e"/>
<rect x="56" y="576.75" width="21.80" height="4.05" fill="#292b27"/>
<rect x="77.5" y="576.75" width="21.80" height="4.05" fill="#bb2b30"/>
<rect x="99" y="576.75" width="22.05" height="4.05" fill="#322526"/>
<rect x="120.75" y="576.75" width="22.05" height="4.05" fill="#4b2324"/>
<rect x="13" y="580.50" width="21.80" height="4.05" fill="#279549"/>
<rect x="34.5" y="580.50" width="21.80" height="4.05" fill="#2ea14d"/>
<rect x="56" y="580.50" width="21.80" height="4.05" fill="#292b27"/>
<rect x="77.5" y="580.50" width="21.80" height="4.05" fill="#642023"/>
<rect x="99" y="580.50" width="22.05" height="4.05" fill="#322526"/>
<rect x="120.75" y="580.50" width="22.05" height="4.05" fill="#99262b"/>
<rect x="13" y="584.25" width="21.80" height="4.05" fill="#2ea04c"/>
<rect x="34.5" y="584.25" width="21.80" height="4.05" fill="#267d41"/>
<rect x="56" y="584.25" width="21.80" height="4.05" fill="#292a27"/>
<rect x="77.5" y="584.25" width="21.80" height="4.05" fill="#562224"/>
<rect x="99" y="584.25" width="22.05" height="4.05" fill="#302526"/>
<rect x="120.75" y="584.25" width="22.05" height="4.05" fill="#5e2123"/>
<rect x="13" y="588.00" width="21.80" height="4.05" fill="#32a44d"/>
<rect x="34.5" y="588.00" width="21.80" height="4.05" fill="#299d4c"/>
<rect x="56" y="588.00" width="21.80" height="4.05" fill="#332526"/>
<rect x="77.5" y="588.00" width="21.80" height="4.05" fill="#652023"/>
<rect x="99" y="588.00" width="22.05" height="4.05" fill="#2f2626"/>
<rect x="120.75" y="588.00" width="22.05" height="4.05" fill="#512224"/>
<rect x="13" y="591.75" width="21.80" height="2.80" fill="#2a9d4c"/>
<rect x="34.5" y="591.75" width="21.80" height="2.80" fill="#2a9e4c"/>
<rect x="56" y="591.75" width="21.80" height="2.80" fill="#322526"/>
<rect x="77.5" y="591.75" width="21.80" height="2.80" fill="#ac292e"/>
<rect x="99" y="591.75" width="22.05" height="2.80" fill="#332526"/>
<rect x="120.75" y="591.75" width="22.05" height="2.80" fill="#95262a"/>
<rect x="13" y="594.25" width="21.80" height="2.80" fill="#267e42"/>
<rect x="34.5" y="594.25" width="21.80" height="2.80" fill="#257a40"/>
<rect x="56" y="594.25" width="21.80" height="2.80" fill="#302526"/>
<rect x="77.5" y="594.25" width="21.80" height="2.80" fill="#802327"/>
<rect x="99" y="594.25" width="22.05" height="2.80" fill="#322526"/>
<rect x="120.75" y="594.25" width="22.05" height="2.80" fill="#7b2226"/>
<rect x="13" y="596.75" width="21.80" height="2.80" fill="#2da04c"/>
<rect x="34.5" y="596.75" width="21.80" height="2.80" fill="#268343"/>
<rect x="56" y="596.75" width="21.80" height="2.80" fill="#302526"/>
<rect x="77.5" y="596.75" width="21.80" height="2.80" fill="#a1272c"/>
<rect x="99" y="596.75" width="22.05" height="2.80" fill="#2f2626"/>
<rect x="120.75" y="596.75" width="22.05" height="2.80" fill="#802327"/>
<rect x="13" y="599.25" width="21.80" height="4.05" fill="#24673a"/>
<rect x="34.5" y="599.25" width="21.80" height="4.05" fill="#24703d"/>
<rect x="56" y="599.25" width="21.80" height="4.05" fill="#312526"/>
<rect x="77.5" y="599.25" width="21.80" height="4.05" fill="#822327"/>
<rect x="99" y="599.25" width="22.05" height="4.05" fill="#322526"/>
<rect x="120.75" y="599.25" width="22.05" height="4.05" fill="#4c2324"/>
<rect x="13" y="603.00" width="21.80" height="2.80" fill="#34a54d"/>
<rect x="34.5" y="603.00" width="21.80" height="2.80" fill="#235d36"/>
<rect x="56" y="603.00" width="21.80" height="2.80" fill="#442425"/>
<rect x="77.5" y="603.00" width="21.80" height="2.80" fill="#9c262b"/>
<rect x="99" y="603.00" width="22.05" height="2.80" fill="#2f2526"/>
<rect x="120.75" y="603.00" width="22.05" height="2.80" fill="#4a2324"/>
<rect x="13" y="605.50" width="21.80" height="2.80" fill="#279148"/>
<rect x="34.5" y="605.50" width="21.80" height="2.80" fill="#235735"/>
<rect x="56" y="605.50" width="21.80" height="2.80" fill="#322526"/>
<rect x="77.5" y="605.50" width="21.80" height="2.80" fill="#872428"/>
<rect x="99" y="605.50" width="22.05" height="2.80" fill="#2f2526"/>
<rect x="120.75" y="605.50" width="22.05" height="2.80" fill="#4c2324"/>
<rect x="13" y="608.00" width="21.80" height="2.80" fill="#4cb84f"/>
<rect x="34.5" y="608.00" width="21.80" height="2.80" fill="#278f47"/>
<rect x="56" y="608.00" width="21.80" height="2.80" fill="#322526"/>
<rect x="77.5" y="608.00" width="21.80" height="2.80" fill="#a8282d"/>
<rect x="99" y="608.00" width="22.05" height="2.80" fill="#2f2526"/>
<rect x="120.75" y="608.00" width="22.05" height="2.80" fill="#532224"/>
<rect x="13" y="610.50" width="21.80" height="2.80" fill="#30a24d"/>
<rect x="34.5" y="610.50" width="21.80" height="2.80" fill="#25773f"/>
<rect x="56" y="610.50" width="21.80" height="2.80" fill="#302526"/>
<rect x="77.5" y="610.50" width="21.80" height="2.80" fill="#94262a"/>
<rect x="99" y="610.50" width="22.05" height="2.80" fill="#2f2626"/>
<rect x="120.75" y="610.50" width="22.05" height="2.80" fill="#462325"/>
<rect x="13" y="613.00" width="21.80" height="2.80" fill="#267d42"/>
<rect x="34.5" y="613.00" width="21.80" height="2.80" fill="#24673a"/>
<rect x="56" y="613.00" width="21.80" height="2.80" fill="#312526"/>
<rect x="77.5" y="613.00" width="21.80" height="2.80" fill="#6c2024"/>
<rect x="99" y="613.00" width="22.05" height="2.80" fill="#442325"/>
<rect x="120.75" y="613.00" width="22.05" height="2.80" fill="#452325"/>
<rect x="13" y="615.50" width="21.80" height="2.80" fill="#235935"/>
<rect x="34.5" y="615.50" width="21.80" height="2.80" fill="#234c31"/>
<rect x="56" y="615.50" width="21.80" height="2.80" fill="#312526"/>
<rect x="77.5" y="615.50" width="21.80" height="2.80" fill="#722125"/>
<rect x="99" y="615.50" width="22.05" height="2.80" fill="#2f2626"/>
<rect x="120.75" y="615.50" width="22.05" height="2.80" fill="#322526"/>
<rect x="13" y="618.00" width="21.80" height="2.80" fill="#48b54f"/>
<rect x="34.5" y="618.00" width="21.80" height="2.80" fill="#51bc50"/>
<rect x="56" y="618.00" width="21.80" height="2.80" fill="#322526"/>
<rect x="77.5" y="618.00" width="21.80" height="2.80" fill="#6f2124"/>
<rect x="99" y="618.00" width="22.05" height="2.80" fill="#2e2626"/>
<rect x="120.75" y="618.00" width="22.05" height="2.80" fill="#4a2324"/>
<rect x="13" y="620.50" width="21.80" height="2.80" fill="#30a34d"/>
<rect x="34.5" y="620.50" width="21.80" height="2.80" fill="#35a64d"/>
<rect x="56" y="620.50" width="21.80" height="2.80" fill="#322526"/>
<rect x="77.5" y="620.50" width="21.80" height="2.80" fill="#642023"/>
<rect x="99" y="620.50" width="22.05" height="2.80" fill="#2e2626"/>
<rect x="120.75" y="620.50" width="22.05" height="2.80" fill="#482325"/>
<rect x="13" y="623.00" width="21.80" height="2.80" fill="#257b41"/>
<rect x="34.5" y="623.00" width="21.80" height="2.80" fill="#25713d"/>
<rect x="56" y="623.00" width="21.80" height="2.80" fill="#322526"/>
<rect x="77.5" y="623.00" width="21.80" height="2.80" fill="#632023"/>
<rect x="99" y="623.00" width="22.05" height="2.80" fill="#2e2626"/>
<rect x="120.75" y="623.00" width="22.05" height="2.80" fill="#7e2327"/>
<rect x="13" y="625.50" width="21.80" height="2.80" fill="#268745"/>
<rect x="34.5" y="625.50" width="21.80" height="2.80" fill="#257940"/>
<rect x="56" y="625.50" width="21.80" height="2.80" fill="#2f2626"/>
<rect x="77.5" y="625.50" width="21.80" height="2.80" fill="#622123"/>
<rect x="99" y="625.50" width="22.05" height="2.80" fill="#302526"/>
<rect x="120.75" y="625.50" width="22.05" height="2.80" fill="#7e2327"/>
<rect x="13" y="628.00" width="21.80" height="2.80" fill="#246f3d"/>
<rect x="34.5" y="628.00" width="21.80" height="2.80" fill="#278b46"/>
<rect x="56" y="628.00" width="21.80" height="2.80" fill="#292a27"/>
<rect x="77.5" y="628.00" width="21.80" height="2.80" fill="#572224"/>
<rect x="99" y="628.00" width="22.05" height="2.80" fill="#2e2626"/>
<rect x="120.75" y="628.00" width="22.05" height="2.80" fill="#4d2324"/>
<rect x="13" y="630.50" width="21.80" height="2.80" fill="#24693b"/>
<rect x="34.5" y="630.50" width="21.80" height="2.80" fill="#289b4c"/>
<rect x="56" y="630.50" width="21.80" height="2.80" fill="#292927"/>
<rect x="77.5" y="630.50" width="21.80" height="2.80" fill="#4f2224"/>
<rect x="99" y="630.50" width="22.05" height="2.80" fill="#312526"/>
<rect x="120.75" y="630.50" width="22.05" height="2.80" fill="#5a2124"/>
<rect x="13" y="633.00" width="21.80" height="2.80" fill="#257a40"/>
<rect x="34.5" y="633.00" width="21.80" height="2.80" fill="#3aaa4e"/>
<rect x="56" y="633.00" width="21.80" height="2.80" fill="#292927"/>
<rect x="77.5" y="633.00" width="21.80" height="2.80" fill="#682023"/>
<rect x="99" y="633.00" width="22.05" height="2.80" fill="#312526"/>
<rect x="120.75" y="633.00" width="22.05" height="2.80" fill="#5e2123"/>
<rect x="13" y="635.50" width="21.80" height="2.80" fill="#268344"/>
<rect x="34.5" y="635.50" width="21.80" height="2.80" fill="#56c050"/>
<rect x="56" y="635.50" width="21.80" height="2.80" fill="#292927"/>
<rect x="77.5" y="635.50" width="21.80" height="2.80" fill="#772225"/>
<rect x="99" y="635.50" width="22.05" height="2.80" fill="#2f2626"/>
<rect x="120.75" y="635.50" width="22.05" height="2.80" fill="#662023"/>
<rect x="13" y="638.00" width="21.80" height="2.80" fill="#246f3d"/>
<rect x="34.5" y="638.00" width="21.80" height="2.80" fill="#3cab4e"/>
<rect x="56" y="638.00" width="21.80" height="2.80" fill="#292927"/>
<rect x="77.5" y="638.00" width="21.80" height="2.80" fill="#452325"/>
<rect x="99" y="638.00" width="22.05" height="2.80" fill="#322526"/>
<rect x="120.75" y="638.00" width="22.05" height="2.80" fill="#4e2324"/>
<rect x="13" y="640.50" width="21.80" height="2.80" fill="#257b41"/>
<rect x="34.5" y="640.50" width="21.80" height="2.80" fill="#3cac4e"/>
<rect x="56" y="640.50" width="21.80" height="2.80" fill="#292c28"/>
<rect x="77.5" y="640.50" width="21.80" height="2.80" fill="#562224"/>
<rect x="99" y="640.50" width="22.05" height="2.80" fill="#312526"/>
<rect x="120.75" y="640.50" width="22.05" height="2.80" fill="#582224"/>
<rect x="13" y="643.00" width="21.80" height="3.42" fill="#2da04c"/>
<rect x="34.5" y="643.00" width="21.80" height="3.42" fill="#4ab74f"/>
<rect x="56" y="643.00" width="21.80" height="3.42" fill="#292b28"/>
<rect x="77.5" y="643.00" width="21.80" height="3.42" fill="#462325"/>
<rect x="99" y="643.00" width="22.05" height="3.42" fill="#322526"/>
<rect x="120.75" y="643.00" width="22.05" height="3.42" fill="#522224"/>
<rect x="13" y="646.12" width="21.80" height="3.42" fill="#299d4c"/>
<rect x="34.5" y="646.12" width="21.80" height="3.42" fill="#48b54f"/>
<rect x="56" y="646.12" width="21.80" height="3.42" fill="#292927"/>
<rect x="77.5" y="646.12" width="21.80" height="3.42" fill="#4d2324"/>
<rect x="99" y="646.12" width="22.05" height="3.42" fill="#332526"/>
<rect x="120.75" y="646.12" width="22.05" height="3.42" fill="#452325"/>
<rect x="13" y="649.25" width="21.80" height="4.05" fill="#234d31"/>
<rect x="34.5" y="649.25" width="21.80" height="4.05" fill="#50bc50"/>
<rect x="56" y="649.25" width="21.80" height="4.05" fill="#292927"/>
<rect x="77.5" y="649.25" width="21.80" height="4.05" fill="#4e2324"/>
<rect x="99" y="649.25" width="22.05" height="4.05" fill="#322526"/>
<rect x="120.75" y="649.25" width="22.05" height="4.05" fill="#5a2124"/>
<rect x="13" y="653.00" width="21.80" height="2.80" fill="#246439"/>
<rect x="34.5" y="653.00" width="21.80" height="2.80" fill="#2a9e4c"/>
<rect x="56" y="653.00" width="21.80" height="2.80" fill="#2f2626"/>
<rect x="77.5" y="653.00" width="21.80" height="2.80" fill="#322526"/>
<rect x="99" y="653.00" width="22.05" height="2.80" fill="#292c28"/>
<rect x="120.75" y="653.00" width="22.05" height="2.80" fill="#4e2324"/>
<rect x="13" y="655.50" width="21.80" height="2.80" fill="#246c3c"/>
<rect x="34.5" y="655.50" width="21.80" height="2.80" fill="#39a94d"/>
<rect x="56" y="655.50" width="21.80" height="2.80" fill="#2f2526"/>
<rect x="77.5" y="655.50" width="21.80" height="2.80" fill="#442425"/>
<rect x="99" y="655.50" width="22.05" height="2.80" fill="#292c28"/>
<rect x="120.75" y="655.50" width="22.05" height="2.80" fill="#552224"/>
<rect x="13" y="658.00" width="21.80" height="2.80" fill="#224e32"/>
<rect x="34.5" y="658.00" width="21.80" height="2.80" fill="#30a24d"/>
<rect x="56" y="658.00" width="21.80" height="2.80" fill="#312526"/>
<rect x="77.5" y="658.00" width="21.80" height="2.80" fill="#522224"/>
<rect x="99" y="658.00" width="22.05" height="2.80" fill="#25402e"/>
<rect x="120.75" y="658.00" width="22.05" height="2.80" fill="#512224"/>
<rect x="13" y="660.50" width="21.80" height="2.80" fill="#225333"/>
<rect x="34.5" y="660.50" width="21.80" height="2.80" fill="#2a9d4c"/>
<rect x="56" y="660.50" width="21.80" height="2.80" fill="#312526"/>
<rect x="77.5" y="660.50" width="21.80" height="2.80" fill="#322526"/>
<rect x="99" y="660.50" width="22.05" height="2.80" fill="#26382b"/>
<rect x="120.75" y="660.50" width="22.05" height="2.80" fill="#542224"/>
<rect x="13" y="663.00" width="21.80" height="2.80" fill="#25713d"/>
<rect x="34.5" y="663.00" width="21.80" height="2.80" fill="#267e42"/>
<rect x="56" y="663.00" width="21.80" height="2.80" fill="#2e2626"/>
<rect x="77.5" y="663.00" width="21.80" height="2.80" fill="#472325"/>
<rect x="99" y="663.00" width="22.05" height="2.80" fill="#292a27"/>
<rect x="120.75" y="663.00" width="22.05" height="2.80" fill="#4c2324"/>
<rect x="13" y="665.50" width="21.80" height="2.80" fill="#25703d"/>
<rect x="34.5" y="665.50" width="21.80" height="2.80" fill="#2fa24d"/>
<rect x="56" y="665.50" width="21.80" height="2.80" fill="#302526"/>
<rect x="77.5" y="665.50" width="21.80" height="2.80" fill="#532224"/>
<rect x="99" y="665.50" width="22.05" height="2.80" fill="#292a27"/>
<rect x="120.75" y="665.50" width="22.05" height="2.80" fill="#4f2224"/>
<rect x="13" y="668.00" width="21.80" height="4.05" fill="#268243"/>
<rect x="34.5" y="668.00" width="21.80" height="4.05" fill="#268644"/>
<rect x="56" y="668.00" width="21.80" height="4.05" fill="#462325"/>
<rect x="77.5" y="668.00" width="21.80" height="4.05" fill="#512224"/>
<rect x="99" y="668.00" width="22.05" height="4.05" fill="#302526"/>
<rect x="120.75" y="668.00" width="22.05" height="4.05" fill="#6e2124"/>
<rect x="13" y="671.75" width="21.80" height="3.63" fill="#43b14e"/>
<rect x="34.5" y="671.75" width="21.80" height="3.63" fill="#224e31"/>
<rect x="56" y="671.75" width="21.80" height="3.63" fill="#442325"/>
<rect x="77.5" y="671.75" width="21.80" height="3.63" fill="#322526"/>
<rect x="99" y="671.75" width="22.05" height="3.63" fill="#332526"/>
<rect x="120.75" y="671.75" width="22.05" height="3.63" fill="#462325"/>
<rect x="13" y="675.08" width="21.80" height="3.63" fill="#33a54d"/>
<rect x="34.5" y="675.08" width="21.80" height="3.63" fill="#234c31"/>
<rect x="56" y="675.08" width="21.80" height="3.63" fill="#332526"/>
<rect x="77.5" y="675.08" width="21.80" height="3.63" fill="#322526"/>
<rect x="99" y="675.08" width="22.05" height="3.63" fill="#2e2626"/>
<rect x="120.75" y="675.08" width="22.05" height="3.63" fill="#492324"/>
<rect x="13" y="678.42" width="21.80" height="3.63" fill="#56c050"/>
<rect x="34.5" y="678.42" width="21.80" height="3.63" fill="#235d36"/>
<rect x="56" y="678.42" width="21.80" height="3.63" fill="#2e2626"/>
<rect x="77.5" y="678.42" width="21.80" height="3.63" fill="#432425"/>
<rect x="99" y="678.42" width="22.05" height="3.63" fill="#332526"/>
<rect x="120.75" y="678.42" width="22.05" height="3.63" fill="#542224"/>
<rect x="13" y="681.75" width="21.80" height="2.80" fill="#40af4e"/>
<rect x="34.5" y="681.75" width="21.80" height="2.80" fill="#257a40"/>
<rect x="56" y="681.75" width="21.80" height="2.80" fill="#322526"/>
<rect x="77.5" y="681.75" width="21.80" height="2.80" fill="#312526"/>
<rect x="99" y="681.75" width="22.05" height="2.80" fill="#2c2626"/>
<rect x="120.75" y="681.75" width="22.05" height="2.80" fill="#312526"/>
<rect x="13" y="684.25" width="21.80" height="2.80" fill="#2da04c"/>
<rect x="34.5" y="684.25" width="21.80" height="2.80" fill="#25763f"/>
<rect x="56" y="684.25" width="21.80" height="2.80" fill="#312526"/>
<rect x="77.5" y="684.25" width="21.80" height="2.80" fill="#302526"/>
<rect x="99" y="684.25" width="22.05" height="2.80" fill="#302526"/>
<rect x="120.75" y="684.25" width="22.05" height="2.80" fill="#442425"/>
<rect x="13" y="686.75" width="21.80" height="3.42" fill="#4ab74f"/>
<rect x="34.5" y="686.75" width="21.80" height="3.42" fill="#46b44f"/>
<rect x="56" y="686.75" width="21.80" height="3.42" fill="#442325"/>
<rect x="77.5" y="686.75" width="21.80" height="3.42" fill="#322526"/>
<rect x="99" y="686.75" width="22.05" height="3.42" fill="#2e2626"/>
<rect x="120.75" y="686.75" width="22.05" height="3.42" fill="#472325"/>
<rect x="13" y="689.88" width="21.80" height="3.42" fill="#52bd50"/>
<rect x="34.5" y="689.88" width="21.80" height="3.42" fill="#43b14e"/>
<rect x="56" y="689.88" width="21.80" height="3.42" fill="#312526"/>
<rect x="77.5" y="689.88" width="21.80" height="3.42" fill="#302526"/>
<rect x="99" y="689.88" width="22.05" height="3.42" fill="#2f2526"/>
<rect x="120.75" y="689.88" width="22.05" height="3.42" fill="#322526"/>
<rect x="13" y="693.00" width="21.80" height="2.80" fill="#3ead4e"/>
<rect x="34.5" y="693.00" width="21.80" height="2.80" fill="#289a4b"/>
<rect x="56" y="693.00" width="21.80" height="2.80" fill="#2f2626"/>
<rect x="77.5" y="693.00" width="21.80" height="2.80" fill="#442425"/>
<rect x="99" y="693.00" width="22.05" height="2.80" fill="#2e2626"/>
<rect x="120.75" y="693.00" width="22.05" height="2.80" fill="#492325"/>
<rect x="13" y="695.50" width="21.80" height="2.80" fill="#2da04c"/>
<rect x="34.5" y="695.50" width="21.80" height="2.80" fill="#268343"/>
<rect x="56" y="695.50" width="21.80" height="2.80" fill="#2f2626"/>
<rect x="77.5" y="695.50" width="21.80" height="2.80" fill="#302526"/>
<rect x="99" y="695.50" width="22.05" height="2.80" fill="#2f2526"/>
<rect x="120.75" y="695.50" width="22.05" height="2.80" fill="#322526"/>
<rect x="13" y="698.00" width="21.80" height="3.17" fill="#49b64f"/>
<rect x="34.5" y="698.00" width="21.80" height="3.17" fill="#49b64f"/>
<rect x="56" y="698.00" width="21.80" height="3.17" fill="#2f2526"/>
<rect x="77.5" y="698.00" width="21.80" height="3.17" fill="#662023"/>
<rect x="99" y="698.00" width="22.05" height="3.17" fill="#2f2626"/>
<rect x="120.75" y="698.00" width="22.05" height="3.17" fill="#312526"/>
<rect x="13" y="700.88" width="21.80" height="3.17" fill="#37a84d"/>
<rect x="34.5" y="700.88" width="21.80" height="3.17" fill="#38a84d"/>
<rect x="56" y="700.88" width="21.80" height="3.17" fill="#2f2626"/>
<rect x="77.5" y="700.88" width="21.80" height="3.17" fill="#622123"/>
<rect x="99" y="700.88" width="22.05" height="3.17" fill="#2d2626"/>
<rect x="120.75" y="700.88" width="22.05" height="3.17" fill="#452325"/>
<rect x="13" y="703.75" width="21.80" height="4.05" fill="#257b41"/>
<rect x="34.5" y="703.75" width="21.80" height="4.05" fill="#25753f"/>
<rect x="56" y="703.75" width="21.80" height="4.05" fill="#312526"/>
<rect x="77.5" y="703.75" width="21.80" height="4.05" fill="#522224"/>
<rect x="99" y="703.75" width="22.05" height="4.05" fill="#2c2626"/>
<rect x="120.75" y="703.75" width="22.05" height="4.05" fill="#302526"/>
<rect x="13" y="707.50" width="21.80" height="2.80" fill="#51bc50"/>
<rect x="34.5" y="707.50" width="21.80" height="2.80" fill="#25773f"/>
<rect x="56" y="707.50" width="21.80" height="2.80" fill="#322526"/>
<rect x="77.5" y="707.50" width="21.80" height="2.80" fill="#5c2124"/>
<rect x="99" y="707.50" width="22.05" height="2.80" fill="#2f2626"/>
<rect x="120.75" y="707.50" width="22.05" height="2.80" fill="#332526"/>
<rect x="13" y="710.00" width="21.80" height="2.80" fill="#56c050"/>
<rect x="34.5" y="710.00" width="21.80" height="2.80" fill="#246e3c"/>
<rect x="56" y="710.00" width="21.80" height="2.80" fill="#302526"/>
<rect x="77.5" y="710.00" width="21.80" height="2.80" fill="#642023"/>
<rect x="99" y="710.00" width="22.05" height="2.80" fill="#2f2526"/>
<rect x="120.75" y="710.00" width="22.05" height="2.80" fill="#322526"/>
<rect x="13" y="712.50" width="21.80" height="2.80" fill="#42b14e"/>
<rect x="34.5" y="712.50" width="21.80" height="2.80" fill="#24683a"/>
<rect x="56" y="712.50" width="21.80" height="2.80" fill="#302526"/>
<rect x="77.5" y="712.50" width="21.80" height="2.80" fill="#4e2224"/>
<rect x="99" y="712.50" width="22.05" height="2.80" fill="#2f2626"/>
<rect x="120.75" y="712.50" width="22.05" height="2.80" fill="#322526"/>
<rect x="13" y="715.00" width="21.80" height="3.42" fill="#2b9e4c"/>
<rect x="34.5" y="715.00" width="21.80" height="3.42" fill="#278c47"/>
<rect x="56" y="715.00" width="21.80" height="3.42" fill="#4a2324"/>
<rect x="77.5" y="715.00" width="21.80" height="3.42" fill="#572224"/>
<rect x="99" y="715.00" width="22.05" height="3.42" fill="#2e2626"/>
<rect x="120.75" y="715.00" width="22.05" height="3.42" fill="#442425"/>
<rect x="13" y="718.12" width="21.80" height="3.42" fill="#279449"/>
<rect x="34.5" y="718.12" width="21.80" height="3.42" fill="#278b46"/>
<rect x="56" y="718.12" width="21.80" height="3.42" fill="#312526"/>
<rect x="77.5" y="718.12" width="21.80" height="3.42" fill="#502224"/>
<rect x="99" y="718.12" width="22.05" height="3.42" fill="#2d2626"/>
<rect x="120.75" y="718.12" width="22.05" height="3.42" fill="#322526"/>
<rect x="13" y="721.25" width="21.80" height="3.82" fill="#30a24d"/>
<rect x="34.5" y="721.25" width="21.80" height="3.82" fill="#28984b"/>
<rect x="56" y="721.25" width="21.80" height="3.82" fill="#492325"/>
<rect x="77.5" y="721.25" width="21.80" height="3.82" fill="#4d2324"/>
<rect x="99" y="721.25" width="22.05" height="3.82" fill="#312526"/>
<rect x="120.75" y="721.25" width="22.05" height="3.82" fill="#322526"/>
<rect x="13" y="724.77" width="21.80" height="3.82" fill="#30a24d"/>
<rect x="34.5" y="724.77" width="21.80" height="3.82" fill="#30a24d"/>
<rect x="56" y="724.77" width="21.80" height="3.82" fill="#522224"/>
<rect x="77.5" y="724.77" width="21.80" height="3.82" fill="#4e2324"/>
<rect x="99" y="724.77" width="22.05" height="3.82" fill="#2e2626"/>
<rect x="120.75" y="724.77" width="22.05" height="3.82" fill="#492324"/>
</g></g>
<rect x="13" y="30.4" width="129.5" height="1.2" fill="#2a1c1c" stroke="none" stroke-width="0"/>
<rect x="13.1" y="738" width="18.86" height="7" fill="#6cbf4a" stroke="none" stroke-width="0"/>
<rect x="31.66" y="738" width="18.86" height="7" fill="#2fae4a" stroke="none" stroke-width="0"/>
<rect x="50.21" y="738" width="18.86" height="7" fill="#1b5e30" stroke="none" stroke-width="0"/>
<rect x="68.77" y="738" width="18.86" height="7" fill="#0a0a0a" stroke="none" stroke-width="0"/>
<rect x="87.33" y="738" width="18.86" height="7" fill="#6a1414" stroke="none" stroke-width="0"/>
<rect x="105.89" y="738" width="18.86" height="7" fill="#c9262a" stroke="none" stroke-width="0"/>
<rect x="124.44" y="738" width="18.86" height="7" fill="#ef3a2c" stroke="none" stroke-width="0"/>
<text x="22.98" y="755.4" font-size="10.5" text-anchor="middle" font-weight="normal" >-3</text>
<text x="41.24" y="755.4" font-size="10.5" text-anchor="middle" font-weight="normal" >-2</text>
<text x="59.29" y="755.4" font-size="10.5" text-anchor="middle" font-weight="normal" >-1</text>
<text x="77.85" y="755.4" font-size="10.5" text-anchor="middle" font-weight="normal" >0</text>
<text x="95.81" y="755.4" font-size="10.5" text-anchor="middle" font-weight="normal" >1</text>
<text x="114.86" y="755.4" font-size="10.5" text-anchor="middle" font-weight="normal" >2</text>
<text x="133.12" y="755.4" font-size="10.5" text-anchor="middle" font-weight="normal" >3</text>
<path d="M155.00 42.90L144.00 42.90M147.84 45.25L144.00 42.90L147.84 40.55" fill="none" stroke="#111" stroke-width="1.3"/>
<text x="157" y="46.3" font-size="11.5" text-anchor="start" font-weight="normal" letter-spacing="0.15">cramp</text>
<path d="M155.00 69.40L145.00 75.00M149.50 75.18L145.00 75.00L147.20 71.07" fill="none" stroke="#111" stroke-width="1.3"/>
<path d="M155.00 80.60L145.00 75.00M147.20 78.93L145.00 75.00L149.50 74.82" fill="none" stroke="#111" stroke-width="1.3"/>
<text x="157" y="70.6" font-size="11.5" text-anchor="start" font-weight="normal" letter-spacing="0.15">cd62l</text>
<text x="157" y="83.8" font-size="11.5" text-anchor="start" font-weight="normal" letter-spacing="0.15">mmp9</text>
<path d="M155.00 220.60L143.80 220.60M147.64 222.95L143.80 220.60L147.64 218.25" fill="none" stroke="#111" stroke-width="1.3"/>
<text x="157" y="224" font-size="11.5" text-anchor="start" font-weight="normal" letter-spacing="0.15">cxcr2</text>
<text x="223.5" y="13.7" font-size="17.5" text-anchor="start" font-weight="bold" >B</text>
<text x="386" y="26.3" font-size="13" text-anchor="middle" font-weight="normal" >MMP9 mRNA</text>
<path d="M312.6 37.0H459.2V141.6" fill="none" stroke="#151515" stroke-width="1.6"/>
<rect x="312.6" y="42.1" width="101.5" height="23.800000000000004" fill="#04a450" stroke="#111" stroke-width="1.1"/>
<rect x="312.6" y="77.2" width="61.39999999999998" height="23.5" fill="#ee3826" stroke="#111" stroke-width="1.1"/>
<rect x="312.6" y="112.3" width="17.69999999999999" height="24.200000000000003" fill="#3b55a8" stroke="#111" stroke-width="1.1"/>
<text x="306.5" y="57.8" font-size="12" text-anchor="end" font-weight="normal" >Neutrophils</text>
<text x="306.5" y="92.8" font-size="12" text-anchor="end" font-weight="normal" >Hybrids</text>
<text x="306.5" y="127.4" font-size="12" text-anchor="end" font-weight="normal" >DCs</text>
<line x1="312.6" y1="36.5" x2="312.6" y2="142.4" stroke="#000" stroke-width="1.6"/>
<line x1="311.8" y1="141.6" x2="459.8" y2="141.6" stroke="#000" stroke-width="1.6"/>
<line x1="312.6" y1="141.6" x2="312.6" y2="144.6" stroke="#000" stroke-width="1.2"/>
<line x1="361.5" y1="141.6" x2="361.5" y2="144.6" stroke="#000" stroke-width="1.2"/>
<line x1="410.3" y1="141.6" x2="410.3" y2="144.6" stroke="#000" stroke-width="1.2"/>
<line x1="459.2" y1="141.6" x2="459.2" y2="144.6" stroke="#000" stroke-width="1.2"/>
<line x1="327.32" y1="141.6" x2="327.32" y2="143.6" stroke="#000" stroke-width="0.9"/>
<line x1="335.93" y1="141.6" x2="335.93" y2="143.6" stroke="#000" stroke-width="0.9"/>
<line x1="342.04" y1="141.6" x2="342.04" y2="143.6" stroke="#000" stroke-width="0.9"/>
<line x1="346.78" y1="141.6" x2="346.78" y2="143.6" stroke="#000" stroke-width="0.9"/>
<line x1="350.65" y1="141.6" x2="350.65" y2="143.6" stroke="#000" stroke-width="0.9"/>
<line x1="353.93" y1="141.6" x2="353.93" y2="143.6" stroke="#000" stroke-width="0.9"/>
<line x1="356.76" y1="141.6" x2="356.76" y2="143.6" stroke="#000" stroke-width="0.9"/>
<line x1="359.26" y1="141.6" x2="359.26" y2="143.6" stroke="#000" stroke-width="0.9"/>
<line x1="376.19" y1="141.6" x2="376.19" y2="143.6" stroke="#000" stroke-width="0.9"/>
<line x1="384.78" y1="141.6" x2="384.78" y2="143.6" stroke="#000" stroke-width="0.9"/>
<line x1="390.88" y1="141.6" x2="390.88" y2="143.6" stroke="#000" stroke-width="0.9"/>
<line x1="395.61" y1="141.6" x2="395.61" y2="143.6" stroke="#000" stroke-width="0.9"/>
<line x1="399.47" y1="141.6" x2="399.47" y2="143.6" stroke="#000" stroke-width="0.9"/>
<line x1="402.74" y1="141.6" x2="402.74" y2="143.6" stroke="#000" stroke-width="0.9"/>
<line x1="405.57" y1="141.6" x2="405.57" y2="143.6" stroke="#000" stroke-width="0.9"/>
<line x1="408.07" y1="141.6" x2="408.07" y2="143.6" stroke="#000" stroke-width="0.9"/>
<line x1="425.02" y1="141.6" x2="425.02" y2="143.6" stroke="#000" stroke-width="0.9"/>
<line x1="433.63" y1="141.6" x2="433.63" y2="143.6" stroke="#000" stroke-width="0.9"/>
<line x1="439.74" y1="141.6" x2="439.74" y2="143.6" stroke="#000" stroke-width="0.9"/>
<line x1="444.48" y1="141.6" x2="444.48" y2="143.6" stroke="#000" stroke-width="0.9"/>
<line x1="448.35" y1="141.6" x2="448.35" y2="143.6" stroke="#000" stroke-width="0.9"/>
<line x1="451.63" y1="141.6" x2="451.63" y2="143.6" stroke="#000" stroke-width="0.9"/>
<line x1="454.46" y1="141.6" x2="454.46" y2="143.6" stroke="#000" stroke-width="0.9"/>
<line x1="456.96" y1="141.6" x2="456.96" y2="143.6" stroke="#000" stroke-width="0.9"/>
<text x="312.6" y="154.6" font-size="10.5" text-anchor="middle" font-weight="normal" >-3</text>
<text x="361.5" y="154.6" font-size="10.5" text-anchor="middle" font-weight="normal" >-1</text>
<text x="410.3" y="154.6" font-size="10.5" text-anchor="middle" font-weight="normal" >-2</text>
<text x="459.2" y="154.6" font-size="10.5" text-anchor="middle" font-weight="normal" >0</text>
<rect x="414.6" y="47.3" width="2.2" height="13.4" fill="#222" stroke="none" stroke-width="0"/>
<rect x="374.5" y="83" width="2.2" height="12" fill="#222" stroke="none" stroke-width="0"/>
<rect x="330.8" y="118" width="2.2" height="12" fill="#222" stroke="none" stroke-width="0"/>
<text x="313.4" y="172.6" font-size="12" text-anchor="start" font-weight="normal" >Relative Expression (Log<tspan font-size="8.5" dy="2.5">10</tspan><tspan dy="-2.5">)</tspan></text>
<text x="386" y="219.6" font-size="13" text-anchor="middle" font-weight="normal" >MMP9 Protein</text>
<path d="M312.6 229.7H459.2V335.0" fill="none" stroke="#151515" stroke-width="1.6"/>
<rect x="312.6" y="234.3" width="125.5" height="24.5" fill="#04a450" stroke="#111" stroke-width="1.1"/>
<rect x="312.6" y="269.7" width="43.099999999999966" height="24.400000000000034" fill="#ee3826" stroke="#111" stroke-width="1.1"/>
<rect x="312.6" y="304.8" width="9.899999999999977" height="24.19999999999999" fill="#3b55a8" stroke="#111" stroke-width="1.1"/>
<text x="306.5" y="250.4" font-size="12" text-anchor="end" font-weight="normal" >Neutrophils</text>
<text x="306.5" y="285.4" font-size="12" text-anchor="end" font-weight="normal" >Hybrids</text>
<text x="306.5" y="320.3" font-size="12" text-anchor="end" font-weight="normal" >DCs</text>
<line x1="312.6" y1="229.2" x2="312.6" y2="335.8" stroke="#000" stroke-width="1.6"/>
<line x1="311.8" y1="335.0" x2="459.8" y2="335.0" stroke="#000" stroke-width="1.6"/>
<line x1="312.6" y1="335.0" x2="312.6" y2="338.0" stroke="#000" stroke-width="1.2"/>
<line x1="349.25" y1="335.0" x2="349.25" y2="338.0" stroke="#000" stroke-width="1.2"/>
<line x1="385.9" y1="335.0" x2="385.9" y2="338.0" stroke="#000" stroke-width="1.2"/>
<line x1="422.55" y1="335.0" x2="422.55" y2="338.0" stroke="#000" stroke-width="1.2"/>
<line x1="459.2" y1="335.0" x2="459.2" y2="338.0" stroke="#000" stroke-width="1.2"/>
<text x="312.6" y="348.0" font-size="10.5" text-anchor="middle" font-weight="normal" >0</text>
<text x="349.25" y="348.0" font-size="10.5" text-anchor="middle" font-weight="normal" >20</text>
<text x="385.9" y="348.0" font-size="10.5" text-anchor="middle" font-weight="normal" >40</text>
<text x="422.55" y="348.0" font-size="10.5" text-anchor="middle" font-weight="normal" >60</text>
<text x="459.2" y="348.0" font-size="10.5" text-anchor="middle" font-weight="normal" >80</text>
<line x1="438.6" y1="247" x2="443.8" y2="247" stroke="#000" stroke-width="1.3"/>
<line x1="443.8" y1="241" x2="443.8" y2="253.3" stroke="#000" stroke-width="1.5"/>
<rect x="356" y="275.4" width="2.4" height="13" fill="#111" stroke="none" stroke-width="0"/>
<text x="386" y="366.8" font-size="12" text-anchor="middle" font-weight="normal" >μg/ml</text>
<text x="209.0" y="450.4" font-size="17.5" text-anchor="start" font-weight="bold" >C</text>
<text x="208.3" y="627.4" font-size="17.5" text-anchor="start" font-weight="bold" >D</text>
<text x="297.2" y="448.2" font-size="13" text-anchor="middle" font-weight="normal" letter-spacing="0.22">Neutrophils</text>
<text x="386.2" y="448.2" font-size="13" text-anchor="middle" font-weight="normal" letter-spacing="0.22">Hybrids</text>
<text x="475.6" y="448.2" font-size="13" text-anchor="middle" font-weight="normal" letter-spacing="0.3">DCs</text>
<text x="297.2" y="626.0" font-size="13" text-anchor="middle" font-weight="normal" letter-spacing="0.22">Neutrophils</text>
<text x="386.2" y="626.0" font-size="13" text-anchor="middle" font-weight="normal" letter-spacing="0.22">Hybrids</text>
<text x="475.6" y="626.0" font-size="13" text-anchor="middle" font-weight="normal" letter-spacing="0.3">DCs</text>
<text x="211.8" y="502.6" font-size="11.5" text-anchor="start" font-weight="normal" letter-spacing="0.2">CD62L</text>
<text x="208.0" y="682.6" font-size="11.5" text-anchor="start" font-weight="normal" letter-spacing="0.35">CXCR2</text>
<path d="M257.20 537.60L258.63 537.55L260.67 537.49L263.05 537.41L265.51 537.30L267.78 537.17L269.60 537.00L270.93 536.79L271.97 536.53L272.83 536.25L273.59 535.94L274.35 535.62L275.20 535.30L276.12 534.97L277.02 534.63L277.93 534.27L278.84 533.90L279.80 533.51L280.80 533.10L281.90 532.69L283.10 532.27L284.34 531.84L285.54 531.38L286.65 530.87L287.60 530.30L288.36 529.69L288.99 529.05L289.52 528.37L290.00 527.61L290.48 526.77L291.00 525.80L291.56 524.69L292.12 523.46L292.68 522.13L293.23 520.74L293.77 519.32L294.30 517.90L294.81 516.41L295.32 514.81L295.81 513.19L296.29 511.61L296.76 510.15L297.20 508.90L297.62 507.90L298.01 507.11L298.39 506.44L298.76 505.81L299.13 505.16L299.50 504.40L299.87 503.56L300.24 502.70L300.60 501.81L300.96 500.87L301.33 499.87L301.70 498.80L302.08 497.66L302.46 496.45L302.85 495.19L303.24 493.86L303.62 492.46L304.00 491.00L304.38 489.44L304.76 487.77L305.14 486.04L305.51 484.28L305.86 482.52L306.20 480.80L306.51 479.07L306.80 477.30L307.08 475.53L307.35 473.81L307.62 472.19L307.90 470.70L308.19 469.34L308.49 468.05L308.79 466.86L309.08 465.78L309.35 464.82L309.60 464.00L309.81 463.30L309.99 462.70L310.15 462.22L310.31 461.88L310.49 461.70L310.70 461.70L310.94 461.92L311.20 462.37L311.47 462.98L311.77 463.67L312.07 464.40L312.40 465.10L312.76 465.75L313.15 466.39L313.56 467.07L313.96 467.81L314.35 468.64L314.70 469.60L315.00 470.72L315.26 471.99L315.50 473.34L315.74 474.75L316.00 476.15L316.30 477.50L316.64 478.78L317.02 480.02L317.41 481.26L317.81 482.53L318.21 483.87L318.60 485.30L318.97 486.81L319.34 488.37L319.70 489.99L320.06 491.70L320.43 493.49L320.80 495.40L321.18 497.45L321.58 499.65L321.98 501.94L322.37 504.27L322.75 506.61L323.10 508.90L323.42 511.18L323.71 513.48L323.99 515.79L324.26 518.06L324.52 520.28L324.80 522.40L325.08 524.50L325.37 526.60L325.66 528.65L325.94 530.56L326.22 532.27L326.50 533.70L326.67 534.82L326.70 535.69L326.74 536.36L326.90 536.86L327.31 537.26L328.10 537.60L329.48 537.83L331.39 537.89L333.55 537.84L335.69 537.74L337.53 537.65L338.80 537.60L338.80 538.3L257.20 538.3Z" fill="#fff9d2" stroke="none"/>
<path d="M257.30 537.38L257.84 537.73L258.61 537.54L259.39 537.62L259.85 537.26L260.65 537.69L261.31 537.62L262.32 537.40L263.18 537.24L263.52 537.62L264.29 537.07L264.86 537.59L265.49 537.13L266.19 536.98L267.02 537.18L267.70 537.01L268.38 536.95L268.85 536.93L269.62 537.20L270.17 536.98L271.03 537.08L271.92 536.31L272.89 536.38L273.56 536.21L274.40 535.82L275.23 535.18L276.22 535.20L277.05 534.63L277.85 533.99L278.82 534.07L279.81 533.31L280.85 533.22L281.88 532.61L282.59 532.49L283.07 532.29L283.58 532.05L284.40 531.57L284.97 531.90L285.44 531.32L286.24 531.13L286.66 531.03L287.52 530.52L288.50 529.70L288.98 529.10L289.53 528.23L289.85 527.89L290.57 526.94L291.07 526.03L291.29 525.43L291.54 524.73L291.95 523.81L292.03 523.50L292.40 522.80L292.64 522.05L292.99 521.46L293.22 520.81L293.42 519.75L293.80 519.13L294.13 518.83L294.39 518.08L294.66 517.01L294.69 516.52L294.92 515.32L295.24 514.97L295.60 513.77L295.68 513.09L296.06 512.19L296.22 511.41L296.51 511.01L296.75 510.05L296.94 509.24L297.11 508.85L297.74 507.67L297.93 507.11L298.49 506.50L298.62 505.53L299.20 504.95L299.56 504.20L299.88 503.66L300.38 502.53L300.60 501.98L301.01 500.70L301.35 499.81L301.74 498.69L301.83 497.96L302.19 497.94L302.38 496.94L302.59 496.34L302.63 495.97L302.70 495.04L302.90 494.75L303.38 494.05L303.33 493.20L303.76 492.69L303.81 491.85L303.95 490.93L304.24 490.04L304.29 489.40L304.62 488.37L304.76 487.65L305.06 486.80L304.99 486.28L305.21 485.28L305.47 485.16L305.42 484.18L305.79 483.51L305.82 482.78L306.09 481.89L306.35 480.79L306.42 479.78L306.41 478.82L306.57 478.43L306.83 477.46L306.90 476.62L307.02 475.44L307.25 474.89L307.47 474.08L307.50 472.78L307.48 471.95L307.87 471.19L308.00 470.87L308.08 469.92L308.15 469.50L308.26 468.74L308.42 467.80L308.66 467.69L308.77 467.12L309.16 465.65L309.21 465.02L309.48 464.10L309.93 463.07L309.91 462.42L310.13 462.51L310.21 461.65L310.56 461.55L310.82 461.46L311.08 461.85L311.14 462.62L311.47 462.83L311.81 463.43L311.93 464.13L312.34 465.39L312.74 465.80L313.02 466.28L313.70 467.32L313.85 468.09L314.39 468.47L314.71 469.89L315.05 470.83L315.14 471.21L315.18 471.87L315.31 472.41L315.48 473.63L315.66 474.14L315.71 475.01L315.82 475.33L316.11 476.04L316.09 477.06L316.31 477.40L316.50 478.19L316.50 478.63L316.70 479.25L316.89 480.05L317.26 480.39L317.50 481.14L317.72 481.89L317.82 482.33L317.89 483.38L318.12 484.14L318.55 484.75L318.55 485.49L318.79 485.82L318.91 487.06L319.05 487.83L319.20 488.62L319.64 489.07L319.82 490.18L319.96 491.05L319.97 491.81L320.08 492.25L320.36 493.02L320.30 493.34L320.64 494.41L320.69 494.79L320.79 495.61L320.88 496.02L320.91 496.62L321.16 497.54L321.19 498.23L321.34 498.83L321.51 499.42L321.68 500.61L321.88 501.12L321.83 501.78L322.11 502.73L322.22 503.58L322.44 504.39L322.50 504.90L322.54 505.82L322.77 506.56L322.99 507.62L323.03 508.00L322.97 508.63L323.32 509.67L323.39 510.21L323.36 511.41L323.62 512.06L323.67 512.64L323.74 513.62L323.92 514.46L323.92 515.29L323.91 515.59L324.10 516.38L324.03 517.46L324.32 518.17L324.35 518.71L324.50 519.34L324.67 520.00L324.65 521.17L324.83 521.55L324.69 522.68L325.00 523.26L325.05 523.89L325.21 524.46L325.14 525.48L325.25 526.08L325.32 526.40L325.59 527.06L325.45 528.24L325.63 528.71L325.69 529.06L325.92 529.77L325.85 530.27L325.94 531.38L326.25 532.35L326.27 533.19L326.51 533.57L326.69 534.69L326.76 535.54L326.83 536.53L326.91 537.15L327.41 537.26L328.12 537.76L328.73 537.64L329.57 537.59L330.19 537.62L330.89 537.80L331.53 537.80L332.11 537.66L332.77 537.80L333.51 537.80L334.11 537.80L334.96 537.74L335.66 537.63L336.36 537.80L336.96 537.67L337.44 537.57L338.10 537.32L338.80 537.60" fill="none" stroke="#d4352e" stroke-width="1.7" stroke-linejoin="round"/>
<path d="M257.33 520.97L257.32 520.15L257.85 520.24L258.12 519.68L258.64 519.13L258.96 518.55L259.47 517.86L260.09 517.42L260.43 516.92L260.83 515.93L261.24 514.93L261.80 514.34L262.42 513.33L262.73 512.32L262.77 511.54L263.00 510.98L263.45 510.44L263.39 509.89L263.76 509.33L263.98 508.55L264.13 507.87L264.37 506.92L264.31 506.58L264.66 505.75L264.80 504.87L265.10 504.18L265.26 503.46L265.46 502.64L265.51 502.23L265.83 501.28L265.88 500.62L266.02 499.56L266.15 499.07L266.36 498.42L266.56 497.64L266.86 496.87L267.00 495.81L267.21 495.10L267.29 494.09L267.70 493.41L267.64 492.66L268.04 491.95L268.07 491.16L268.22 490.22L268.45 489.30L268.81 488.17L268.80 487.48L268.82 487.32L269.11 486.33L269.15 485.78L269.12 484.87L269.30 484.28L269.45 483.48L269.45 482.70L269.37 481.96L269.40 481.67L269.61 480.53L269.48 479.88L269.56 479.51L269.67 478.19L269.84 477.80L269.77 476.84L269.86 476.12L270.00 475.90L270.09 475.16L270.16 474.32L270.11 473.47L270.24 472.98L270.47 471.74L270.58 471.51L270.86 470.78L270.99 470.20L271.23 469.88L271.48 469.05L271.74 468.14L271.80 467.68L272.05 467.09L272.41 466.58L272.75 466.20L272.99 465.70L273.08 464.39L273.39 463.48L273.71 462.86L273.80 462.23L274.11 461.65L274.16 461.29L274.36 461.63L274.56 462.08L274.71 462.11L274.90 462.69L275.19 463.41L275.50 463.89L275.87 464.53L276.12 465.77L276.36 466.35L276.51 467.43L276.91 468.45L276.89 468.91L277.08 469.89L277.34 470.37L277.24 471.07L277.36 472.00L277.54 472.12L277.51 472.93L277.70 474.15L277.72 474.50L277.81 475.58L277.91 476.08L277.87 476.62L278.13 477.42L278.14 477.95L278.15 478.73L278.18 479.56L278.23 480.56L278.22 480.98L278.50 481.74L278.59 482.71L278.36 483.37L278.63 483.98L278.60 484.65L278.64 485.08L278.63 485.99L278.75 486.48L278.90 487.38L278.95 488.01L278.82 488.26L278.88 489.02L279.06 489.62L279.08 490.53L278.98 491.07L279.30 491.41L279.18 491.89L279.14 492.60L279.47 493.85L279.28 494.46L279.37 494.98L279.57 495.93L279.58 496.52L279.65 497.04L279.77 498.26L279.76 498.47L279.74 499.57L279.87 500.41L279.91 501.02L280.08 501.95L279.95 502.46L279.98 503.14L280.28 503.84L280.21 504.19L280.23 504.98L280.43 505.73L280.34 506.39L280.34 507.22L280.49 507.76L280.59 508.44L280.57 508.85L280.63 509.69L280.66 510.76L280.66 510.91L280.82 511.93L280.83 512.50L280.91 512.72L280.85 513.75L280.97 514.46L280.99 514.71L280.85 515.85L281.01 516.58L281.12 516.99L281.11 517.65L281.05 518.52L281.16 519.30L281.36 519.77L281.11 520.31L281.41 521.17L281.43 521.88L281.45 522.39L281.39 523.01L281.38 523.83L281.65 524.28L281.71 524.98L281.66 526.00L281.83 526.58L281.72 527.56L281.88 528.02L281.94 528.99L282.11 529.50L282.15 530.79L282.25 531.24L282.50 531.82L282.54 532.39L282.76 533.61L282.89 534.81L283.25 535.54L283.69 536.08L283.87 536.63L284.08 537.20L284.48 537.41L284.96 537.53L285.24 537.76L285.45 537.47L285.72 537.55L286.00 537.60" fill="none" stroke="#33429c" stroke-width="1.7" stroke-linejoin="round"/>
<path d="M346.30 535.90L347.03 536.05L348.04 536.29L349.23 536.56L350.52 536.80L351.81 536.97L353.00 537.00L354.12 536.88L355.23 536.64L356.34 536.32L357.46 535.96L358.58 535.61L359.70 535.30L360.83 535.05L361.96 534.83L363.10 534.61L364.24 534.36L365.37 534.07L366.50 533.70L367.65 533.22L368.82 532.66L369.99 532.04L371.13 531.42L372.21 530.82L373.20 530.30L374.08 529.85L374.86 529.45L375.59 529.08L376.28 528.72L376.98 528.36L377.70 528.00L378.47 527.59L379.26 527.14L380.06 526.69L380.83 526.29L381.55 525.97L382.20 525.80L382.76 525.86L383.24 526.13L383.67 526.49L384.09 526.83L384.52 527.00L385.00 526.90L385.54 526.45L386.11 525.73L386.70 524.86L387.29 523.94L387.86 523.08L388.40 522.40L388.90 521.97L389.38 521.71L389.84 521.51L390.29 521.27L390.74 520.87L391.20 520.20L391.68 519.17L392.17 517.86L392.67 516.39L393.15 514.89L393.60 513.49L394.00 512.30L394.34 511.35L394.63 510.55L394.89 509.84L395.14 509.17L395.40 508.51L395.70 507.80L396.04 507.05L396.39 506.30L396.76 505.55L397.14 504.80L397.52 504.05L397.90 503.30L398.28 502.59L398.68 501.92L399.08 501.26L399.47 500.54L399.85 499.74L400.20 498.80L400.51 497.58L400.79 496.07L401.06 494.48L401.32 492.98L401.59 491.76L401.90 491.00L402.24 490.96L402.61 491.53L403.00 492.39L403.39 493.18L403.76 493.56L404.10 493.20L404.41 491.89L404.70 489.86L404.98 487.42L405.25 484.89L405.52 482.58L405.80 480.80L406.08 479.58L406.37 478.67L406.65 477.98L406.93 477.42L407.22 476.89L407.50 476.30L407.79 475.75L408.09 475.34L408.39 474.97L408.68 474.52L408.95 473.90L409.20 473.00L409.41 471.49L409.59 469.39L409.75 467.11L409.91 465.08L410.09 463.70L410.30 463.40L410.54 464.45L410.80 466.58L411.08 469.36L411.37 472.39L411.68 475.24L412.00 477.50L412.34 479.11L412.69 480.40L413.06 481.51L413.44 482.59L413.82 483.81L414.20 485.30L414.58 487.06L414.96 488.97L415.35 491.01L415.74 493.15L416.12 495.39L416.50 497.70L416.87 500.20L417.24 502.94L417.60 505.76L417.96 508.54L418.33 511.13L418.70 513.40L419.07 515.29L419.44 516.90L419.81 518.32L420.19 519.65L420.59 520.98L421.00 522.40L421.44 523.93L421.92 525.50L422.41 527.08L422.89 528.61L423.36 530.06L423.80 531.40L424.20 532.67L424.59 533.90L424.95 535.06L425.30 536.10L425.65 536.96L426.00 537.60L426.37 537.96L426.76 538.06L427.14 537.99L427.49 537.83L427.78 537.67L428.00 537.60L428.00 538.3L346.30 538.3Z" fill="#fff9d2" stroke="none"/>
<path d="M346.35 535.27L347.03 535.69L347.00 536.40L348.53 535.03L348.42 535.72L349.31 537.59L349.93 537.31L350.14 536.93L351.61 537.02L352.07 536.86L351.87 537.31L353.11 537.62L353.05 536.37L354.19 537.57L355.28 537.06L355.94 536.90L356.41 535.98L357.18 535.94L356.78 536.83L357.53 534.89L358.41 536.73L358.85 535.76L359.56 535.32L360.42 534.80L361.42 535.21L362.07 535.30L362.76 535.57L362.39 534.98L363.97 535.29L364.11 535.25L364.30 534.65L365.35 534.79L365.36 533.33L367.09 534.55L367.42 532.43L367.20 532.92L368.50 532.36L368.19 533.46L368.75 532.56L369.65 532.52L370.99 532.63L371.56 531.45L371.02 530.69L371.52 531.11L372.53 529.86L372.79 530.57L374.20 528.91L374.88 529.28L374.74 530.39L375.47 529.05L376.13 529.21L376.72 528.72L377.15 529.34L377.96 527.83L378.02 527.10L378.85 528.60L378.80 527.29L380.05 526.70L380.65 525.47L380.55 526.67L381.60 526.38L382.02 526.23L383.05 526.52L382.79 525.09L384.44 526.88L384.39 526.08L384.78 527.12L385.15 526.07L385.87 525.59L385.99 524.92L385.94 525.55L387.17 524.57L386.93 523.44L387.33 524.13L387.94 522.15L387.92 522.88L388.76 521.53L389.45 522.32L389.68 521.93L390.82 520.25L391.14 521.12L390.96 518.93L391.26 519.06L392.25 519.11L391.80 517.01L392.45 517.90L392.31 517.29L392.46 515.06L392.65 516.04L393.04 514.36L393.25 513.93L393.16 514.52L394.32 511.72L394.58 513.21L394.75 511.58L394.09 512.20L395.04 511.20L394.87 510.44L394.87 508.98L394.76 508.27L395.23 508.58L395.15 508.54L396.21 508.21L396.73 507.69L396.62 507.07L397.09 504.38L396.83 504.20L397.38 504.82L398.15 503.66L397.71 503.57L398.62 502.14L398.81 502.12L398.40 501.26L399.43 501.13L399.69 499.70L399.99 500.94L399.32 500.14L400.64 499.11L400.06 497.12L400.49 497.04L400.56 496.82L400.13 497.06L400.41 494.73L400.47 494.30L401.54 495.74L401.25 493.01L401.15 492.96L401.68 492.44L401.47 492.41L401.56 490.86L401.97 490.10L402.20 491.96L402.39 490.87L403.35 492.02L403.52 493.44L404.25 493.92L404.03 492.42L404.51 491.95L404.59 491.15L404.13 490.63L404.76 490.19L404.52 488.45L405.15 488.68L404.63 489.29L405.21 488.57L404.91 486.43L405.41 485.48L405.58 486.15L405.41 485.84L405.37 485.08L405.48 482.95L405.03 482.09L405.00 483.32L405.15 481.06L405.33 482.33L406.21 479.66L406.43 479.33L406.63 480.09L406.53 480.20L406.09 479.27L406.88 478.63L406.60 477.94L407.81 477.46L407.29 475.25L408.18 475.90L407.68 474.58L408.49 474.05L408.51 474.71L408.79 473.23L409.10 472.64L409.27 471.40L409.23 472.94L409.00 471.79L409.78 471.06L409.56 470.42L409.78 469.36L409.26 469.75L410.05 467.23L409.84 468.60L410.15 466.86L409.68 465.65L410.13 465.08L409.77 464.76L410.71 465.06L410.48 463.51L410.72 463.19L410.09 464.22L409.88 463.95L410.38 465.19L410.43 465.07L411.00 466.04L411.33 466.22L410.94 467.64L411.29 468.23L411.03 469.69L411.30 469.49L410.99 471.00L411.74 471.32L410.94 471.29L411.60 471.35L411.96 473.02L411.17 474.06L411.27 473.08L411.88 473.68L412.18 475.91L412.22 475.07L411.76 475.83L411.43 477.44L412.40 476.52L412.00 477.60L412.55 478.89L412.31 478.12L412.66 479.75L412.95 479.80L412.88 482.19L412.73 481.81L413.55 481.76L413.99 481.97L413.21 484.48L413.71 485.16L414.34 485.35L414.41 484.81L414.68 486.26L414.72 485.92L414.74 488.18L414.17 487.75L414.57 488.24L415.07 489.37L414.59 489.59L415.23 490.37L415.65 489.84L414.84 491.58L414.97 492.83L415.78 491.98L415.69 493.21L415.68 493.92L415.45 493.71L416.21 493.71L416.11 495.95L416.00 496.50L416.14 495.96L415.84 498.00L416.20 497.71L416.41 498.95L416.55 498.51L417.08 499.61L417.25 499.76L416.65 499.79L416.54 500.36L417.37 502.60L416.80 501.77L417.55 502.93L417.64 504.50L417.01 504.56L417.15 504.70L417.68 505.62L417.38 505.44L417.21 507.43L418.32 508.09L417.80 509.04L418.12 508.70L418.68 509.49L417.95 510.22L418.26 511.24L418.63 511.23L418.77 510.39L418.52 512.58L418.57 512.85L418.74 512.66L418.85 512.89L418.94 514.95L419.71 515.36L418.88 516.74L419.61 517.10L419.45 515.92L419.27 516.96L420.44 518.29L420.52 518.38L419.79 519.87L420.51 520.86L420.80 521.62L420.51 521.78L421.36 522.54L420.92 523.27L421.17 523.62L420.82 522.66L421.20 523.19L421.74 523.99L421.98 525.88L422.30 525.81L422.26 526.13L422.38 527.82L423.16 527.03L422.71 528.93L423.09 528.69L422.91 529.83L423.08 529.01L423.19 531.48L423.43 531.30L423.62 531.32L423.84 532.41L423.99 532.13L424.67 533.08L424.33 533.44L425.01 535.00L424.80 536.23L425.44 536.13L426.34 535.84L425.51 536.93L426.26 537.54L427.15 537.80L428.00 537.60" fill="none" stroke="#d4352e" stroke-width="1.7" stroke-linejoin="round"/>
<path d="M345.70 486.81L346.06 486.73L346.70 485.17L347.58 487.17L346.98 486.15L347.34 484.90L347.36 483.24L348.87 482.81L348.96 484.09L348.32 484.57L349.26 483.66L349.88 485.50L349.01 486.51L350.17 486.25L349.72 486.52L349.87 487.02L351.31 489.00L350.75 488.44L351.44 490.13L352.14 490.65L351.77 490.13L351.91 489.81L351.83 487.90L351.54 489.27L352.53 486.38L352.50 486.49L352.32 486.47L352.21 487.46L352.33 485.12L352.55 485.19L353.37 483.77L353.30 484.26L352.83 486.61L353.23 484.68L354.02 487.40L353.81 486.41L354.21 486.83L354.78 487.03L355.38 490.19L355.46 489.08L354.53 486.31L355.33 488.54L355.66 486.25L355.54 486.26L354.68 484.66L354.67 484.49L355.98 483.68L354.62 482.91L354.94 481.43L355.30 483.03L354.98 480.93L355.54 482.39L355.07 479.44L355.30 478.37L355.41 479.63L356.05 477.12L356.94 477.15L356.37 476.17L356.32 477.52L356.55 477.56L356.58 474.73L356.73 473.51L357.56 473.55L357.11 474.69L356.87 471.69L356.93 471.73L358.05 471.09L356.93 471.45L357.80 474.44L357.65 475.25L358.13 475.61L358.37 475.91L357.49 475.65L358.76 475.42L358.94 478.12L358.64 477.06L358.71 479.07L358.64 479.74L358.95 478.65L359.38 476.87L358.17 478.32L359.58 477.75L358.27 476.22L358.47 476.30L359.35 475.89L358.67 472.55L359.34 473.66L359.95 473.37L358.63 471.17L358.72 472.67L358.94 471.91L360.02 471.10L359.74 470.68L359.29 470.07L359.55 468.83L360.29 468.88L359.99 467.00L359.32 465.05L360.07 466.13L360.32 466.33L360.02 463.53L360.33 464.80L360.92 463.13L359.90 466.18L360.46 465.93L360.47 467.26L360.85 466.20L360.37 469.00L361.27 467.04L361.23 469.96L361.86 469.20L360.78 470.83L361.09 471.74L362.16 470.61L362.22 471.57L362.45 471.40L361.47 472.03L362.03 472.41L363.16 471.98L362.08 471.91L363.17 470.14L363.62 471.28L362.86 471.89L364.22 471.79L364.30 472.74L364.29 475.25L364.46 474.94L365.12 474.47L365.32 475.55L365.45 475.68L365.27 477.74L364.76 477.33L365.22 478.91L365.01 479.19L365.16 478.05L365.34 480.83L365.76 481.71L365.86 481.33L365.61 482.06L367.00 482.01L366.71 481.94L366.31 482.98L366.02 482.67L367.36 486.05L367.46 486.20L366.57 487.26L367.15 486.75L367.90 487.32L368.02 488.48L367.63 487.15L367.85 489.43L368.06 489.85L368.28 489.51L367.87 490.42L368.11 492.49L367.48 491.33L368.15 491.98L368.64 494.59L367.97 493.40L367.88 495.25L367.53 494.66L368.38 494.61L368.56 496.76L369.12 496.40L367.99 497.81L369.28 496.77L369.26 500.16L368.41 499.63L368.39 498.72L369.45 499.74L369.29 502.38L368.54 500.78L369.67 501.86L369.49 502.08L369.19 504.26L368.82 505.72L368.73 505.05L368.60 504.39L368.83 505.64L370.24 505.47L370.19 506.75L370.05 508.58L370.48 509.04L370.23 510.30L370.29 509.94L370.18 511.02L369.68 510.95L370.28 512.57L369.90 510.84L370.13 513.85L370.87 513.00L370.44 515.00L370.68 514.17L371.46 513.69L371.69 514.26L370.62 515.26L371.75 517.95L371.47 516.70L371.85 518.03L372.14 517.76L372.09 520.79L372.57 521.16L372.57 520.14L372.31 522.10L372.49 520.52L372.15 523.54L373.16 523.34L372.01 523.80L372.48 524.51L373.23 525.81L373.73 524.78L373.04 526.35L374.01 527.59L374.15 528.39L374.02 528.30L373.90 528.76L373.79 530.53L374.47 528.43L374.37 530.29L374.15 531.15L374.12 530.52L375.60 532.82L374.65 533.13L375.94 534.54L374.93 533.69L376.10 535.25L375.42 535.15L375.67 536.04L376.07 535.83L377.75 535.76L378.21 537.21L378.13 536.14L378.17 537.35L380.15 537.05L380.00 537.60" fill="none" stroke="#33429c" stroke-width="1.7" stroke-linejoin="round"/>
<path d="M435.60 517.90L435.92 517.54L436.36 517.05L436.89 516.46L437.46 515.83L438.04 515.19L438.60 514.60L439.16 514.05L439.75 513.51L440.35 512.98L440.94 512.42L441.50 511.83L442.00 511.20L442.43 510.54L442.80 509.86L443.14 509.16L443.47 508.40L443.81 507.59L444.20 506.70L444.63 505.75L445.09 504.76L445.56 503.71L446.04 502.57L446.52 501.34L447.00 500.00L447.48 498.51L447.96 496.90L448.45 495.18L448.94 493.40L449.42 491.60L449.90 489.80L450.38 487.98L450.86 486.10L451.34 484.19L451.81 482.29L452.27 480.41L452.70 478.60L453.10 476.81L453.47 475.03L453.83 473.28L454.18 471.58L454.53 469.98L454.90 468.50L455.29 467.11L455.69 465.78L456.09 464.54L456.48 463.42L456.86 462.47L457.20 461.70L457.50 461.12L457.76 460.70L458.00 460.44L458.24 460.34L458.50 460.39L458.80 460.60L459.15 460.97L459.54 461.52L459.94 462.22L460.35 463.06L460.74 464.02L461.10 465.10L461.42 466.35L461.71 467.81L461.99 469.39L462.26 471.01L462.52 472.61L462.80 474.10L463.08 475.45L463.37 476.73L463.66 477.98L463.94 479.24L464.22 480.57L464.50 482.00L464.77 483.56L465.04 485.20L465.30 486.91L465.56 488.65L465.83 490.39L466.10 492.10L466.38 493.77L466.66 495.43L466.94 497.08L467.23 498.75L467.52 500.45L467.80 502.20L468.08 504.03L468.34 505.94L468.61 507.89L468.88 509.81L469.18 511.67L469.50 513.40L469.85 515.03L470.23 516.59L470.62 518.09L471.04 519.51L471.46 520.85L471.90 522.10L472.35 523.29L472.83 524.43L473.32 525.49L473.81 526.44L474.31 527.25L474.80 527.90L475.28 528.33L475.77 528.54L476.25 528.62L476.73 528.64L477.22 528.67L477.70 528.80L478.17 529.02L478.63 529.26L479.09 529.52L479.57 529.79L480.06 530.05L480.60 530.30L481.18 530.54L481.80 530.79L482.44 531.03L483.09 531.27L483.75 531.49L484.40 531.70L485.05 531.89L485.70 532.05L486.35 532.20L487.00 532.35L487.65 532.51L488.30 532.70L488.94 532.90L489.57 533.11L490.20 533.34L490.83 533.57L491.46 533.83L492.10 534.10L492.73 534.41L493.36 534.76L493.99 535.13L494.63 535.49L495.30 535.82L496.00 536.10L496.76 536.32L497.57 536.49L498.41 536.63L499.24 536.76L500.05 536.87L500.80 537.00L501.40 537.14L501.84 537.27L502.26 537.41L502.77 537.53L503.51 537.63L504.60 537.70L506.25 537.74L508.41 537.75L510.79 537.74L513.11 537.73L515.11 537.71L516.50 537.70L516.50 538.3L435.60 538.3Z" fill="#fff9d2" stroke="none"/>
<path d="M435.84 497.95L436.25 497.60L436.50 496.48L436.21 494.47L436.56 495.72L436.21 495.06L436.52 493.62L437.22 492.80L437.22 491.13L438.26 491.52L437.87 492.71L438.21 493.18L438.57 493.23L439.70 492.27L439.42 492.62L440.45 493.73L440.92 491.65L441.03 491.31L441.68 489.74L442.09 489.83L441.80 489.49L442.04 487.84L442.32 486.94L443.24 486.81L443.69 485.73L443.67 485.78L444.18 485.94L444.49 483.87L444.20 484.03L444.30 483.94L445.26 482.80L445.33 480.65L445.25 480.63L444.85 479.21L445.90 478.85L445.84 478.19L446.19 479.01L445.75 477.19L446.35 476.93L446.50 475.48L446.81 476.24L447.09 474.10L446.69 473.61L447.47 474.04L447.68 472.92L447.27 472.76L447.52 471.25L447.85 469.86L449.02 470.35L448.36 468.75L449.13 469.95L449.10 468.36L449.96 468.24L449.82 467.31L450.59 465.65L450.45 464.57L450.36 465.09L451.45 463.81L451.55 462.67L451.43 460.91L452.06 460.48L451.87 460.37L452.45 461.51L452.24 461.33L452.71 460.38L452.49 460.56L452.59 460.79L453.69 461.31L453.60 463.21L453.58 463.14L453.80 463.27L454.67 465.66L454.87 465.92L454.93 467.35L455.14 467.73L455.23 467.78L455.16 468.26L455.51 469.93L455.91 469.67L455.69 471.10L455.79 470.54L456.04 471.76L456.32 472.93L456.41 474.07L456.37 474.24L456.66 475.83L456.78 475.86L456.73 477.74L457.09 478.80L456.76 478.74L457.16 478.90L456.90 481.32L457.23 481.71L456.78 482.67L457.28 483.66L457.22 484.33L457.66 485.14L457.67 485.77L457.17 485.16L457.72 486.59L457.82 486.76L457.24 488.20L457.48 488.50L457.45 488.29L457.56 489.44L457.47 489.82L457.88 491.01L458.15 491.94L458.52 491.83L458.08 492.00L458.15 493.21L458.63 493.53L457.90 494.72L458.02 495.88L458.32 496.41L459.00 497.19L458.52 498.36L458.81 499.06L458.37 498.88L458.85 500.05L459.32 501.48L458.76 501.49L458.47 502.77L459.10 501.91L458.74 503.61L459.55 504.32L459.15 504.50L459.07 504.85L459.22 507.00L459.81 507.62L459.22 507.50L459.51 508.88L459.40 508.36L459.65 510.37L459.72 509.85L459.95 510.36L459.71 511.85L460.33 513.34L460.12 512.63L460.62 513.95L460.03 515.77L460.05 515.54L460.29 517.78L460.60 517.81L460.85 518.68L460.50 519.67L460.82 520.49L461.00 520.81L461.34 521.11L461.32 522.19L461.70 523.50L461.51 522.80L462.33 524.36L462.10 525.90L462.48 524.83L462.41 526.29L462.61 527.49L463.02 527.64L462.64 528.06L462.72 530.14L463.63 530.11L463.92 530.67L463.83 532.89L464.52 533.00L464.25 535.13L465.04 535.09L465.20 535.87L465.83 535.81L465.67 537.62L466.78 536.79L466.99 537.80L467.41 536.63L468.02 537.80L467.35 537.80L468.00 537.60" fill="none" stroke="#33429c" stroke-width="1.7" stroke-linejoin="round"/>
<path d="M435.89 518.43L435.71 517.52L436.51 516.15L437.12 516.41L437.70 515.60L438.31 514.78L438.52 515.01L439.32 514.12L439.80 512.96L440.14 513.52L441.11 512.96L441.35 512.45L442.27 510.47L442.38 511.09L442.53 509.13L442.95 509.40L443.55 509.22L443.95 507.05L444.59 506.45L444.64 506.49L445.26 505.02L445.98 504.26L445.67 502.29L445.86 502.76L445.91 502.12L446.54 502.03L446.91 499.98L446.73 499.66L446.91 499.23L447.81 497.99L447.28 498.06L447.53 497.40L448.57 495.74L448.28 495.40L448.51 494.37L449.22 493.32L448.87 492.60L449.01 493.25L449.03 493.07L449.77 492.46L449.93 491.31L450.04 490.30L449.92 490.33L450.24 489.14L449.85 488.42L450.17 488.42L450.80 487.33L450.27 486.14L450.94 485.42L450.80 485.21L451.57 484.74L451.26 483.75L451.60 484.24L451.64 482.51L451.49 482.25L451.79 481.44L451.96 481.59L452.69 480.70L452.30 480.57L452.39 479.39L452.69 478.42L453.23 478.53L452.52 477.03L452.70 476.72L453.47 475.37L453.55 474.93L453.87 474.78L453.26 474.79L454.23 472.72L453.94 472.63L454.46 472.09L454.33 470.77L454.41 469.26L454.83 468.60L454.58 468.69L454.73 468.04L455.42 466.40L455.85 466.38L455.87 466.01L456.19 464.49L456.19 463.79L456.85 464.16L456.81 463.17L457.46 462.05L457.90 460.47L457.71 461.44L457.95 460.95L458.43 459.94L458.77 459.61L458.61 461.46L458.78 461.77L459.34 462.16L459.88 463.06L459.93 463.82L461.03 463.28L461.13 465.35L460.96 464.89L461.01 466.12L461.80 467.97L461.89 468.62L461.47 468.32L461.64 469.80L462.09 470.29L461.87 471.00L462.41 471.05L462.55 471.77L462.47 472.73L462.86 473.47L462.69 474.58L463.14 474.95L463.15 476.83L463.21 476.13L463.58 476.89L463.72 478.50L463.64 478.05L463.89 479.03L464.53 479.72L464.37 480.66L464.49 481.67L464.39 482.55L465.06 483.08L464.88 482.95L464.51 484.17L465.27 484.38L465.36 485.36L465.18 486.19L465.47 486.94L465.32 489.17L466.08 489.64L465.80 490.02L466.29 491.65L466.25 491.50L465.89 492.25L465.97 494.64L466.74 495.35L466.87 495.74L466.61 496.53L466.68 496.98L467.34 498.56L466.97 499.27L467.15 499.77L467.74 500.98L467.85 502.22L468.05 502.53L467.98 502.08L467.86 502.58L468.48 503.34L468.54 503.82L468.19 506.11L467.94 506.54L467.99 505.94L468.07 506.46L468.24 508.48L468.49 508.69L468.72 508.51L469.31 509.24L469.06 510.22L469.19 511.16L468.97 511.63L469.69 511.88L469.45 512.85L469.75 514.77L470.13 515.83L469.70 515.83L470.21 516.76L470.46 517.99L470.91 518.44L471.14 518.74L470.73 520.23L471.58 520.93L471.32 521.49L471.35 521.03L472.22 521.87L471.68 522.45L471.98 522.94L472.83 524.08L472.46 525.20L472.98 525.27L474.12 527.18L474.72 527.29L475.05 527.94L475.16 528.31L476.07 529.43L476.58 528.78L477.00 528.91L476.89 527.89L477.79 528.10L477.86 529.41L478.29 529.27L479.34 529.86L480.00 529.04L479.73 530.35L480.29 530.03L481.56 530.95L481.51 530.20L482.76 531.26L483.05 531.70L483.85 530.79L484.67 531.62L485.26 532.01L485.81 532.90L486.15 532.94L487.35 531.45L488.10 531.67L487.91 532.62L489.14 532.50L489.68 532.91L490.50 532.62L491.13 533.35L491.61 533.19L492.01 534.04L492.76 533.55L493.00 535.37L493.55 535.03L495.05 536.38L495.28 536.14L495.66 535.33L497.02 536.68L497.90 537.37L498.19 536.52L499.10 536.83L500.39 536.95L501.23 536.92L500.99 537.53L501.99 537.72L501.81 537.63L502.77 537.80L503.21 537.69L504.16 536.86L505.25 537.20L505.85 537.12L507.15 537.80L507.43 537.80L508.49 537.80L509.54 537.01L509.71 537.49L511.17 537.17L511.46 537.24L512.21 537.80L512.74 537.80L513.86 537.59L514.54 537.80L515.24 537.29L515.79 537.80L516.50 537.70" fill="none" stroke="#d4352e" stroke-width="1.7" stroke-linejoin="round"/>
<rect x="257" y="458.6" width="82.39999999999998" height="79.69999999999993" fill="none" stroke="#111" stroke-width="1.5"/>
<line x1="254.3" y1="538.3" x2="256.5" y2="538.3" stroke="#000" stroke-width="1.0"/>
<line x1="255.0" y1="535.26" x2="256.5" y2="535.26" stroke="#000" stroke-width="1.0"/>
<line x1="255.0" y1="532.23" x2="256.5" y2="532.23" stroke="#000" stroke-width="1.0"/>
<line x1="255.0" y1="529.19" x2="256.5" y2="529.19" stroke="#000" stroke-width="1.0"/>
<line x1="255.0" y1="526.16" x2="256.5" y2="526.16" stroke="#000" stroke-width="1.0"/>
<line x1="254.3" y1="523.12" x2="256.5" y2="523.12" stroke="#000" stroke-width="1.0"/>
<line x1="255.0" y1="520.08" x2="256.5" y2="520.08" stroke="#000" stroke-width="1.0"/>
<line x1="255.0" y1="517.05" x2="256.5" y2="517.05" stroke="#000" stroke-width="1.0"/>
<line x1="255.0" y1="514.01" x2="256.5" y2="514.01" stroke="#000" stroke-width="1.0"/>
<line x1="255.0" y1="510.98" x2="256.5" y2="510.98" stroke="#000" stroke-width="1.0"/>
<line x1="254.3" y1="507.94" x2="256.5" y2="507.94" stroke="#000" stroke-width="1.0"/>
<line x1="255.0" y1="504.9" x2="256.5" y2="504.9" stroke="#000" stroke-width="1.0"/>
<line x1="255.0" y1="501.87" x2="256.5" y2="501.87" stroke="#000" stroke-width="1.0"/>
<line x1="255.0" y1="498.83" x2="256.5" y2="498.83" stroke="#000" stroke-width="1.0"/>
<line x1="255.0" y1="495.8" x2="256.5" y2="495.8" stroke="#000" stroke-width="1.0"/>
<line x1="254.3" y1="492.76" x2="256.5" y2="492.76" stroke="#000" stroke-width="1.0"/>
<line x1="255.0" y1="489.72" x2="256.5" y2="489.72" stroke="#000" stroke-width="1.0"/>
<line x1="255.0" y1="486.69" x2="256.5" y2="486.69" stroke="#000" stroke-width="1.0"/>
<line x1="255.0" y1="483.65" x2="256.5" y2="483.65" stroke="#000" stroke-width="1.0"/>
<line x1="255.0" y1="480.62" x2="256.5" y2="480.62" stroke="#000" stroke-width="1.0"/>
<line x1="254.3" y1="477.58" x2="256.5" y2="477.58" stroke="#000" stroke-width="1.0"/>
<line x1="255.0" y1="474.54" x2="256.5" y2="474.54" stroke="#000" stroke-width="1.0"/>
<line x1="255.0" y1="471.51" x2="256.5" y2="471.51" stroke="#000" stroke-width="1.0"/>
<line x1="255.0" y1="468.47" x2="256.5" y2="468.47" stroke="#000" stroke-width="1.0"/>
<line x1="255.0" y1="465.44" x2="256.5" y2="465.44" stroke="#000" stroke-width="1.0"/>
<line x1="254.3" y1="462.4" x2="256.5" y2="462.4" stroke="#000" stroke-width="1.0"/>
<line x1="257.0" y1="538.8" x2="257.0" y2="541.0" stroke="#000" stroke-width="1.0"/>
<line x1="263.2" y1="538.8" x2="263.2" y2="540.3" stroke="#000" stroke-width="1.0"/>
<line x1="266.83" y1="538.8" x2="266.83" y2="540.3" stroke="#000" stroke-width="1.0"/>
<line x1="269.4" y1="538.8" x2="269.4" y2="540.3" stroke="#000" stroke-width="1.0"/>
<line x1="271.4" y1="538.8" x2="271.4" y2="540.3" stroke="#000" stroke-width="1.0"/>
<line x1="273.03" y1="538.8" x2="273.03" y2="540.3" stroke="#000" stroke-width="1.0"/>
<line x1="274.41" y1="538.8" x2="274.41" y2="540.3" stroke="#000" stroke-width="1.0"/>
<line x1="275.6" y1="538.8" x2="275.6" y2="540.3" stroke="#000" stroke-width="1.0"/>
<line x1="276.66" y1="538.8" x2="276.66" y2="540.3" stroke="#000" stroke-width="1.0"/>
<line x1="277.6" y1="538.8" x2="277.6" y2="541.0" stroke="#000" stroke-width="1.0"/>
<line x1="283.8" y1="538.8" x2="283.8" y2="540.3" stroke="#000" stroke-width="1.0"/>
<line x1="287.43" y1="538.8" x2="287.43" y2="540.3" stroke="#000" stroke-width="1.0"/>
<line x1="290.0" y1="538.8" x2="290.0" y2="540.3" stroke="#000" stroke-width="1.0"/>
<line x1="292.0" y1="538.8" x2="292.0" y2="540.3" stroke="#000" stroke-width="1.0"/>
<line x1="293.63" y1="538.8" x2="293.63" y2="540.3" stroke="#000" stroke-width="1.0"/>
<line x1="295.01" y1="538.8" x2="295.01" y2="540.3" stroke="#000" stroke-width="1.0"/>
<line x1="296.2" y1="538.8" x2="296.2" y2="540.3" stroke="#000" stroke-width="1.0"/>
<line x1="297.26" y1="538.8" x2="297.26" y2="540.3" stroke="#000" stroke-width="1.0"/>
<line x1="298.2" y1="538.8" x2="298.2" y2="541.0" stroke="#000" stroke-width="1.0"/>
<line x1="304.4" y1="538.8" x2="304.4" y2="540.3" stroke="#000" stroke-width="1.0"/>
<line x1="308.03" y1="538.8" x2="308.03" y2="540.3" stroke="#000" stroke-width="1.0"/>
<line x1="310.6" y1="538.8" x2="310.6" y2="540.3" stroke="#000" stroke-width="1.0"/>
<line x1="312.6" y1="538.8" x2="312.6" y2="540.3" stroke="#000" stroke-width="1.0"/>
<line x1="314.23" y1="538.8" x2="314.23" y2="540.3" stroke="#000" stroke-width="1.0"/>
<line x1="315.61" y1="538.8" x2="315.61" y2="540.3" stroke="#000" stroke-width="1.0"/>
<line x1="316.8" y1="538.8" x2="316.8" y2="540.3" stroke="#000" stroke-width="1.0"/>
<line x1="317.86" y1="538.8" x2="317.86" y2="540.3" stroke="#000" stroke-width="1.0"/>
<line x1="318.8" y1="538.8" x2="318.8" y2="541.0" stroke="#000" stroke-width="1.0"/>
<line x1="325.0" y1="538.8" x2="325.0" y2="540.3" stroke="#000" stroke-width="1.0"/>
<line x1="328.63" y1="538.8" x2="328.63" y2="540.3" stroke="#000" stroke-width="1.0"/>
<line x1="331.2" y1="538.8" x2="331.2" y2="540.3" stroke="#000" stroke-width="1.0"/>
<line x1="333.2" y1="538.8" x2="333.2" y2="540.3" stroke="#000" stroke-width="1.0"/>
<line x1="334.83" y1="538.8" x2="334.83" y2="540.3" stroke="#000" stroke-width="1.0"/>
<line x1="336.21" y1="538.8" x2="336.21" y2="540.3" stroke="#000" stroke-width="1.0"/>
<line x1="337.4" y1="538.8" x2="337.4" y2="540.3" stroke="#000" stroke-width="1.0"/>
<line x1="338.46" y1="538.8" x2="338.46" y2="540.3" stroke="#000" stroke-width="1.0"/>
<rect x="345.8" y="458.6" width="83.0" height="79.69999999999993" fill="none" stroke="#111" stroke-width="1.5"/>
<line x1="343.1" y1="538.3" x2="345.3" y2="538.3" stroke="#000" stroke-width="1.0"/>
<line x1="343.8" y1="535.26" x2="345.3" y2="535.26" stroke="#000" stroke-width="1.0"/>
<line x1="343.8" y1="532.23" x2="345.3" y2="532.23" stroke="#000" stroke-width="1.0"/>
<line x1="343.8" y1="529.19" x2="345.3" y2="529.19" stroke="#000" stroke-width="1.0"/>
<line x1="343.8" y1="526.16" x2="345.3" y2="526.16" stroke="#000" stroke-width="1.0"/>
<line x1="343.1" y1="523.12" x2="345.3" y2="523.12" stroke="#000" stroke-width="1.0"/>
<line x1="343.8" y1="520.08" x2="345.3" y2="520.08" stroke="#000" stroke-width="1.0"/>
<line x1="343.8" y1="517.05" x2="345.3" y2="517.05" stroke="#000" stroke-width="1.0"/>
<line x1="343.8" y1="514.01" x2="345.3" y2="514.01" stroke="#000" stroke-width="1.0"/>
<line x1="343.8" y1="510.98" x2="345.3" y2="510.98" stroke="#000" stroke-width="1.0"/>
<line x1="343.1" y1="507.94" x2="345.3" y2="507.94" stroke="#000" stroke-width="1.0"/>
<line x1="343.8" y1="504.9" x2="345.3" y2="504.9" stroke="#000" stroke-width="1.0"/>
<line x1="343.8" y1="501.87" x2="345.3" y2="501.87" stroke="#000" stroke-width="1.0"/>
<line x1="343.8" y1="498.83" x2="345.3" y2="498.83" stroke="#000" stroke-width="1.0"/>
<line x1="343.8" y1="495.8" x2="345.3" y2="495.8" stroke="#000" stroke-width="1.0"/>
<line x1="343.1" y1="492.76" x2="345.3" y2="492.76" stroke="#000" stroke-width="1.0"/>
<line x1="343.8" y1="489.72" x2="345.3" y2="489.72" stroke="#000" stroke-width="1.0"/>
<line x1="343.8" y1="486.69" x2="345.3" y2="486.69" stroke="#000" stroke-width="1.0"/>
<line x1="343.8" y1="483.65" x2="345.3" y2="483.65" stroke="#000" stroke-width="1.0"/>
<line x1="343.8" y1="480.62" x2="345.3" y2="480.62" stroke="#000" stroke-width="1.0"/>
<line x1="343.1" y1="477.58" x2="345.3" y2="477.58" stroke="#000" stroke-width="1.0"/>
<line x1="343.8" y1="474.54" x2="345.3" y2="474.54" stroke="#000" stroke-width="1.0"/>
<line x1="343.8" y1="471.51" x2="345.3" y2="471.51" stroke="#000" stroke-width="1.0"/>
<line x1="343.8" y1="468.47" x2="345.3" y2="468.47" stroke="#000" stroke-width="1.0"/>
<line x1="343.8" y1="465.44" x2="345.3" y2="465.44" stroke="#000" stroke-width="1.0"/>
<line x1="343.1" y1="462.4" x2="345.3" y2="462.4" stroke="#000" stroke-width="1.0"/>
<line x1="345.8" y1="538.8" x2="345.8" y2="541.0" stroke="#000" stroke-width="1.0"/>
<line x1="352.05" y1="538.8" x2="352.05" y2="540.3" stroke="#000" stroke-width="1.0"/>
<line x1="355.7" y1="538.8" x2="355.7" y2="540.3" stroke="#000" stroke-width="1.0"/>
<line x1="358.29" y1="538.8" x2="358.29" y2="540.3" stroke="#000" stroke-width="1.0"/>
<line x1="360.3" y1="538.8" x2="360.3" y2="540.3" stroke="#000" stroke-width="1.0"/>
<line x1="361.95" y1="538.8" x2="361.95" y2="540.3" stroke="#000" stroke-width="1.0"/>
<line x1="363.34" y1="538.8" x2="363.34" y2="540.3" stroke="#000" stroke-width="1.0"/>
<line x1="364.54" y1="538.8" x2="364.54" y2="540.3" stroke="#000" stroke-width="1.0"/>
<line x1="365.6" y1="538.8" x2="365.6" y2="540.3" stroke="#000" stroke-width="1.0"/>
<line x1="366.55" y1="538.8" x2="366.55" y2="541.0" stroke="#000" stroke-width="1.0"/>
<line x1="372.8" y1="538.8" x2="372.8" y2="540.3" stroke="#000" stroke-width="1.0"/>
<line x1="376.45" y1="538.8" x2="376.45" y2="540.3" stroke="#000" stroke-width="1.0"/>
<line x1="379.04" y1="538.8" x2="379.04" y2="540.3" stroke="#000" stroke-width="1.0"/>
<line x1="381.05" y1="538.8" x2="381.05" y2="540.3" stroke="#000" stroke-width="1.0"/>
<line x1="382.7" y1="538.8" x2="382.7" y2="540.3" stroke="#000" stroke-width="1.0"/>
<line x1="384.09" y1="538.8" x2="384.09" y2="540.3" stroke="#000" stroke-width="1.0"/>
<line x1="385.29" y1="538.8" x2="385.29" y2="540.3" stroke="#000" stroke-width="1.0"/>
<line x1="386.35" y1="538.8" x2="386.35" y2="540.3" stroke="#000" stroke-width="1.0"/>
<line x1="387.3" y1="538.8" x2="387.3" y2="541.0" stroke="#000" stroke-width="1.0"/>
<line x1="393.55" y1="538.8" x2="393.55" y2="540.3" stroke="#000" stroke-width="1.0"/>
<line x1="397.2" y1="538.8" x2="397.2" y2="540.3" stroke="#000" stroke-width="1.0"/>
<line x1="399.79" y1="538.8" x2="399.79" y2="540.3" stroke="#000" stroke-width="1.0"/>
<line x1="401.8" y1="538.8" x2="401.8" y2="540.3" stroke="#000" stroke-width="1.0"/>
<line x1="403.45" y1="538.8" x2="403.45" y2="540.3" stroke="#000" stroke-width="1.0"/>
<line x1="404.84" y1="538.8" x2="404.84" y2="540.3" stroke="#000" stroke-width="1.0"/>
<line x1="406.04" y1="538.8" x2="406.04" y2="540.3" stroke="#000" stroke-width="1.0"/>
<line x1="407.1" y1="538.8" x2="407.1" y2="540.3" stroke="#000" stroke-width="1.0"/>
<line x1="408.05" y1="538.8" x2="408.05" y2="541.0" stroke="#000" stroke-width="1.0"/>
<line x1="414.3" y1="538.8" x2="414.3" y2="540.3" stroke="#000" stroke-width="1.0"/>
<line x1="417.95" y1="538.8" x2="417.95" y2="540.3" stroke="#000" stroke-width="1.0"/>
<line x1="420.54" y1="538.8" x2="420.54" y2="540.3" stroke="#000" stroke-width="1.0"/>
<line x1="422.55" y1="538.8" x2="422.55" y2="540.3" stroke="#000" stroke-width="1.0"/>
<line x1="424.2" y1="538.8" x2="424.2" y2="540.3" stroke="#000" stroke-width="1.0"/>
<line x1="425.59" y1="538.8" x2="425.59" y2="540.3" stroke="#000" stroke-width="1.0"/>
<line x1="426.79" y1="538.8" x2="426.79" y2="540.3" stroke="#000" stroke-width="1.0"/>
<line x1="427.85" y1="538.8" x2="427.85" y2="540.3" stroke="#000" stroke-width="1.0"/>
<rect x="435.2" y="458.6" width="82.00000000000006" height="79.69999999999993" fill="none" stroke="#111" stroke-width="1.5"/>
<line x1="432.5" y1="538.3" x2="434.7" y2="538.3" stroke="#000" stroke-width="1.0"/>
<line x1="433.2" y1="535.26" x2="434.7" y2="535.26" stroke="#000" stroke-width="1.0"/>
<line x1="433.2" y1="532.23" x2="434.7" y2="532.23" stroke="#000" stroke-width="1.0"/>
<line x1="433.2" y1="529.19" x2="434.7" y2="529.19" stroke="#000" stroke-width="1.0"/>
<line x1="433.2" y1="526.16" x2="434.7" y2="526.16" stroke="#000" stroke-width="1.0"/>
<line x1="432.5" y1="523.12" x2="434.7" y2="523.12" stroke="#000" stroke-width="1.0"/>
<line x1="433.2" y1="520.08" x2="434.7" y2="520.08" stroke="#000" stroke-width="1.0"/>
<line x1="433.2" y1="517.05" x2="434.7" y2="517.05" stroke="#000" stroke-width="1.0"/>
<line x1="433.2" y1="514.01" x2="434.7" y2="514.01" stroke="#000" stroke-width="1.0"/>
<line x1="433.2" y1="510.98" x2="434.7" y2="510.98" stroke="#000" stroke-width="1.0"/>
<line x1="432.5" y1="507.94" x2="434.7" y2="507.94" stroke="#000" stroke-width="1.0"/>
<line x1="433.2" y1="504.9" x2="434.7" y2="504.9" stroke="#000" stroke-width="1.0"/>
<line x1="433.2" y1="501.87" x2="434.7" y2="501.87" stroke="#000" stroke-width="1.0"/>
<line x1="433.2" y1="498.83" x2="434.7" y2="498.83" stroke="#000" stroke-width="1.0"/>
<line x1="433.2" y1="495.8" x2="434.7" y2="495.8" stroke="#000" stroke-width="1.0"/>
<line x1="432.5" y1="492.76" x2="434.7" y2="492.76" stroke="#000" stroke-width="1.0"/>
<line x1="433.2" y1="489.72" x2="434.7" y2="489.72" stroke="#000" stroke-width="1.0"/>
<line x1="433.2" y1="486.69" x2="434.7" y2="486.69" stroke="#000" stroke-width="1.0"/>
<line x1="433.2" y1="483.65" x2="434.7" y2="483.65" stroke="#000" stroke-width="1.0"/>
<line x1="433.2" y1="480.62" x2="434.7" y2="480.62" stroke="#000" stroke-width="1.0"/>
<line x1="432.5" y1="477.58" x2="434.7" y2="477.58" stroke="#000" stroke-width="1.0"/>
<line x1="433.2" y1="474.54" x2="434.7" y2="474.54" stroke="#000" stroke-width="1.0"/>
<line x1="433.2" y1="471.51" x2="434.7" y2="471.51" stroke="#000" stroke-width="1.0"/>
<line x1="433.2" y1="468.47" x2="434.7" y2="468.47" stroke="#000" stroke-width="1.0"/>
<line x1="433.2" y1="465.44" x2="434.7" y2="465.44" stroke="#000" stroke-width="1.0"/>
<line x1="432.5" y1="462.4" x2="434.7" y2="462.4" stroke="#000" stroke-width="1.0"/>
<line x1="435.2" y1="538.8" x2="435.2" y2="541.0" stroke="#000" stroke-width="1.0"/>
<line x1="441.37" y1="538.8" x2="441.37" y2="540.3" stroke="#000" stroke-width="1.0"/>
<line x1="444.98" y1="538.8" x2="444.98" y2="540.3" stroke="#000" stroke-width="1.0"/>
<line x1="447.54" y1="538.8" x2="447.54" y2="540.3" stroke="#000" stroke-width="1.0"/>
<line x1="449.53" y1="538.8" x2="449.53" y2="540.3" stroke="#000" stroke-width="1.0"/>
<line x1="451.15" y1="538.8" x2="451.15" y2="540.3" stroke="#000" stroke-width="1.0"/>
<line x1="452.52" y1="538.8" x2="452.52" y2="540.3" stroke="#000" stroke-width="1.0"/>
<line x1="453.71" y1="538.8" x2="453.71" y2="540.3" stroke="#000" stroke-width="1.0"/>
<line x1="454.76" y1="538.8" x2="454.76" y2="540.3" stroke="#000" stroke-width="1.0"/>
<line x1="455.7" y1="538.8" x2="455.7" y2="541.0" stroke="#000" stroke-width="1.0"/>
<line x1="461.87" y1="538.8" x2="461.87" y2="540.3" stroke="#000" stroke-width="1.0"/>
<line x1="465.48" y1="538.8" x2="465.48" y2="540.3" stroke="#000" stroke-width="1.0"/>
<line x1="468.04" y1="538.8" x2="468.04" y2="540.3" stroke="#000" stroke-width="1.0"/>
<line x1="470.03" y1="538.8" x2="470.03" y2="540.3" stroke="#000" stroke-width="1.0"/>
<line x1="471.65" y1="538.8" x2="471.65" y2="540.3" stroke="#000" stroke-width="1.0"/>
<line x1="473.02" y1="538.8" x2="473.02" y2="540.3" stroke="#000" stroke-width="1.0"/>
<line x1="474.21" y1="538.8" x2="474.21" y2="540.3" stroke="#000" stroke-width="1.0"/>
<line x1="475.26" y1="538.8" x2="475.26" y2="540.3" stroke="#000" stroke-width="1.0"/>
<line x1="476.2" y1="538.8" x2="476.2" y2="541.0" stroke="#000" stroke-width="1.0"/>
<line x1="482.37" y1="538.8" x2="482.37" y2="540.3" stroke="#000" stroke-width="1.0"/>
<line x1="485.98" y1="538.8" x2="485.98" y2="540.3" stroke="#000" stroke-width="1.0"/>
<line x1="488.54" y1="538.8" x2="488.54" y2="540.3" stroke="#000" stroke-width="1.0"/>
<line x1="490.53" y1="538.8" x2="490.53" y2="540.3" stroke="#000" stroke-width="1.0"/>
<line x1="492.15" y1="538.8" x2="492.15" y2="540.3" stroke="#000" stroke-width="1.0"/>
<line x1="493.52" y1="538.8" x2="493.52" y2="540.3" stroke="#000" stroke-width="1.0"/>
<line x1="494.71" y1="538.8" x2="494.71" y2="540.3" stroke="#000" stroke-width="1.0"/>
<line x1="495.76" y1="538.8" x2="495.76" y2="540.3" stroke="#000" stroke-width="1.0"/>
<line x1="496.7" y1="538.8" x2="496.7" y2="541.0" stroke="#000" stroke-width="1.0"/>
<line x1="502.87" y1="538.8" x2="502.87" y2="540.3" stroke="#000" stroke-width="1.0"/>
<line x1="506.48" y1="538.8" x2="506.48" y2="540.3" stroke="#000" stroke-width="1.0"/>
<line x1="509.04" y1="538.8" x2="509.04" y2="540.3" stroke="#000" stroke-width="1.0"/>
<line x1="511.03" y1="538.8" x2="511.03" y2="540.3" stroke="#000" stroke-width="1.0"/>
<line x1="512.65" y1="538.8" x2="512.65" y2="540.3" stroke="#000" stroke-width="1.0"/>
<line x1="514.02" y1="538.8" x2="514.02" y2="540.3" stroke="#000" stroke-width="1.0"/>
<line x1="515.21" y1="538.8" x2="515.21" y2="540.3" stroke="#000" stroke-width="1.0"/>
<line x1="516.26" y1="538.8" x2="516.26" y2="540.3" stroke="#000" stroke-width="1.0"/>
<path d="M266.80 718.20L267.18 717.98L267.71 717.70L268.33 717.36L269.00 716.96L269.68 716.51L270.30 716.00L270.88 715.45L271.46 714.85L272.04 714.20L272.63 713.48L273.21 712.69L273.80 711.80L274.40 710.81L275.00 709.72L275.60 708.56L276.20 707.33L276.80 706.07L277.40 704.80L277.99 703.49L278.57 702.13L279.16 700.72L279.74 699.31L280.32 697.89L280.90 696.50L281.49 695.16L282.09 693.85L282.68 692.54L283.27 691.21L283.85 689.80L284.40 688.30L284.94 686.73L285.46 685.12L285.97 683.44L286.47 681.67L286.95 679.77L287.40 677.70L287.83 675.41L288.24 672.90L288.62 670.27L289.00 667.59L289.35 664.93L289.70 662.40L290.03 659.91L290.34 657.37L290.64 654.88L290.93 652.48L291.21 650.27L291.50 648.30L291.79 646.50L292.07 644.78L292.35 643.24L292.63 641.97L292.91 641.06L293.20 640.60L293.49 640.67L293.79 641.21L294.09 642.11L294.40 643.26L294.70 644.56L295.00 645.90L295.30 647.32L295.60 648.91L295.91 650.65L296.21 652.51L296.51 654.47L296.80 656.50L297.09 658.63L297.37 660.89L297.65 663.25L297.93 665.67L298.21 668.13L298.50 670.60L298.79 673.11L299.09 675.69L299.39 678.30L299.70 680.91L300.00 683.49L300.30 686.00L300.59 688.47L300.88 690.93L301.17 693.36L301.46 695.71L301.77 697.97L302.10 700.10L302.45 702.12L302.80 704.06L303.18 705.90L303.56 707.62L303.97 709.19L304.40 710.60L304.86 711.82L305.35 712.86L305.86 713.76L306.38 714.55L306.90 715.25L307.40 715.90L307.92 716.48L308.48 716.97L309.04 717.38L309.55 717.71L309.99 717.98L310.30 718.20L310.30 718.8L266.80 718.8Z" fill="#fff9d2" stroke="none"/>
<path d="M257.40 711.80L257.64 711.58L257.97 711.29L258.37 710.94L258.80 710.53L259.26 710.05L259.70 709.50L260.15 708.90L260.62 708.24L261.11 707.52L261.60 706.72L262.10 705.82L262.60 704.80L263.10 703.65L263.62 702.38L264.14 701.01L264.65 699.56L265.14 698.05L265.60 696.50L266.02 694.92L266.41 693.30L266.79 691.62L267.15 689.86L267.52 687.99L267.90 686.00L268.30 683.83L268.71 681.49L269.13 679.05L269.54 676.57L269.93 674.13L270.30 671.80L270.64 669.56L270.95 667.36L271.24 665.20L271.53 663.07L271.81 660.97L272.10 658.90L272.39 656.81L272.67 654.71L272.95 652.63L273.23 650.64L273.51 648.78L273.80 647.10L274.09 645.52L274.39 643.98L274.69 642.57L275.00 641.39L275.30 640.53L275.60 640.10L275.91 640.15L276.23 640.63L276.54 641.42L276.85 642.45L277.14 643.61L277.40 644.80L277.62 646.04L277.81 647.41L277.99 648.91L278.15 650.54L278.32 652.31L278.50 654.20L278.69 656.28L278.89 658.55L279.09 660.96L279.30 663.43L279.50 665.90L279.70 668.30L279.89 670.62L280.08 672.91L280.27 675.20L280.46 677.52L280.67 679.91L280.90 682.40L281.15 685.07L281.43 687.90L281.71 690.80L282.01 693.67L282.31 696.40L282.60 698.90L282.89 701.19L283.19 703.37L283.49 705.41L283.80 707.31L284.10 709.04L284.40 710.60L284.70 711.97L285.00 713.15L285.31 714.18L285.61 715.06L285.91 715.83L286.20 716.50L286.51 717.05L286.84 717.44L287.16 717.72L287.46 717.91L287.72 718.06L287.90 718.20" fill="none" stroke="#33429c" stroke-width="1.7" stroke-linejoin="round"/>
<path d="M266.80 718.20L267.18 717.98L267.71 717.70L268.33 717.36L269.00 716.96L269.68 716.51L270.30 716.00L270.88 715.45L271.46 714.85L272.04 714.20L272.63 713.48L273.21 712.69L273.80 711.80L274.40 710.81L275.00 709.72L275.60 708.56L276.20 707.33L276.80 706.07L277.40 704.80L277.99 703.49L278.57 702.13L279.16 700.72L279.74 699.31L280.32 697.89L280.90 696.50L281.49 695.16L282.09 693.85L282.68 692.54L283.27 691.21L283.85 689.80L284.40 688.30L284.94 686.73L285.46 685.12L285.97 683.44L286.47 681.67L286.95 679.77L287.40 677.70L287.83 675.41L288.24 672.90L288.62 670.27L289.00 667.59L289.35 664.93L289.70 662.40L290.03 659.91L290.34 657.37L290.64 654.88L290.93 652.48L291.21 650.27L291.50 648.30L291.79 646.50L292.07 644.78L292.35 643.24L292.63 641.97L292.91 641.06L293.20 640.60L293.49 640.67L293.79 641.21L294.09 642.11L294.40 643.26L294.70 644.56L295.00 645.90L295.30 647.32L295.60 648.91L295.91 650.65L296.21 652.51L296.51 654.47L296.80 656.50L297.09 658.63L297.37 660.89L297.65 663.25L297.93 665.67L298.21 668.13L298.50 670.60L298.79 673.11L299.09 675.69L299.39 678.30L299.70 680.91L300.00 683.49L300.30 686.00L300.59 688.47L300.88 690.93L301.17 693.36L301.46 695.71L301.77 697.97L302.10 700.10L302.45 702.12L302.80 704.06L303.18 705.90L303.56 707.62L303.97 709.19L304.40 710.60L304.86 711.82L305.35 712.86L305.86 713.76L306.38 714.55L306.90 715.25L307.40 715.90L307.92 716.48L308.48 716.97L309.04 717.38L309.55 717.71L309.99 717.98L310.30 718.20" fill="none" stroke="#d4352e" stroke-width="1.7" stroke-linejoin="round"/>
<path d="M356.90 718.20L359.30 715.40L362.80 713.00L366.40 709.50L369.90 704.80L372.20 697.70L375.20 693.00L377.50 690.60L379.30 677.70L381.10 662.40L381.60 640.60L382.80 644.80L384.00 645.90L385.20 662.40L386.40 670.60L388.10 667.10L389.30 683.60L391.10 691.80L392.80 701.20L395.20 708.30L398.10 714.20L401.60 717.10L428.00 718.20L428.00 718.8L356.90 718.8Z" fill="#fff9d2" stroke="none"/>
<path d="M345.98 716.08L346.46 716.59L347.39 716.04L348.13 714.61L348.62 714.29L348.51 713.77L349.69 714.02L349.27 712.70L350.44 713.31L350.08 712.59L349.96 712.94L350.55 712.06L350.64 709.75L351.94 710.62L352.12 710.79L352.33 712.37L352.42 712.63L353.05 711.94L353.79 712.95L354.46 711.59L354.60 711.45L355.56 711.79L355.89 709.99L356.63 710.08L356.31 709.98L356.49 710.00L357.64 708.07L357.70 706.85L358.30 705.99L358.43 707.14L358.36 706.82L358.93 705.80L359.01 704.93L359.83 704.97L359.74 703.50L360.02 701.92L360.61 702.73L360.00 702.56L360.70 700.93L360.57 699.43L360.27 699.15L361.16 698.26L360.65 697.80L361.51 697.80L361.12 696.43L361.75 696.93L361.84 696.95L361.42 695.03L362.09 694.59L361.33 695.41L361.54 692.90L361.96 692.41L361.80 692.64L362.10 690.61L362.37 690.87L362.62 691.66L362.63 689.99L362.04 689.76L363.01 689.68L363.13 689.00L362.74 687.23L363.12 685.92L362.53 685.21L362.74 684.94L362.71 684.64L362.92 683.21L363.27 682.84L363.98 682.04L363.20 682.84L363.53 681.35L363.36 681.01L364.50 681.55L363.98 680.02L363.59 678.49L363.84 678.48L363.78 679.03L364.79 676.47L363.89 677.06L363.81 676.48L365.02 675.82L364.74 676.00L364.41 673.94L364.96 673.09L365.03 673.35L364.43 672.24L365.40 672.77L365.25 672.25L365.24 671.55L365.03 669.51L364.51 669.20L364.87 667.79L365.43 667.72L365.29 668.81L366.09 668.17L365.49 667.63L365.47 665.28L365.60 664.63L366.58 665.07L366.23 665.00L366.76 663.97L366.69 663.24L366.94 665.86L366.67 666.11L367.15 665.37L367.26 666.38L366.88 668.55L367.64 667.82L366.80 669.23L366.88 668.43L367.77 670.94L367.89 669.75L367.70 671.15L367.58 669.04L366.95 667.91L367.73 669.33L368.08 667.66L368.02 666.84L367.24 667.18L367.35 665.20L367.71 664.58L367.52 664.02L368.12 663.11L367.59 663.05L368.14 663.00L368.17 662.01L367.72 661.60L367.11 661.06L367.32 660.26L368.08 658.61L367.70 658.41L367.81 659.14L367.77 657.58L368.11 657.53L367.85 655.85L367.52 655.60L367.81 656.25L368.12 655.15L367.76 655.39L367.84 654.07L368.08 653.23L367.90 652.49L368.40 651.95L368.34 651.88L367.61 651.86L368.44 650.34L367.48 650.42L367.86 648.09L367.63 647.37L368.16 646.78L368.44 647.88L368.24 645.77L367.56 646.38L368.57 646.32L368.56 644.13L368.01 643.96L368.44 644.78L367.97 642.19L367.87 642.44L367.86 641.07L367.51 641.73L368.03 640.73L367.92 640.05L368.16 642.12L368.75 641.39L368.76 643.74L367.93 642.71L368.57 643.16L367.82 644.33L368.78 645.31L368.02 646.87L368.83 645.87L368.59 647.50L367.85 646.95L368.31 649.00L368.95 648.14L368.81 650.10L368.90 649.39L368.93 649.96L368.32 651.50L369.05 652.35L368.12 652.27L368.27 653.51L368.20 653.12L368.27 653.59L368.42 654.83L368.42 656.51L368.31 656.50L368.42 655.56L368.72 654.75L369.66 655.33L369.87 653.45L369.49 655.86L369.94 656.21L370.49 656.05L370.16 656.43L370.79 657.76L370.68 657.55L370.51 659.04L370.22 658.94L370.02 658.72L370.82 659.38L370.19 660.45L371.07 660.66L370.93 663.16L370.47 662.37L370.80 663.02L370.85 663.31L371.53 664.19L371.09 666.51L371.66 665.39L370.99 666.16L371.07 666.03L371.28 667.79L371.34 667.75L371.11 667.89L371.33 668.71L370.93 669.21L371.24 670.46L371.66 671.75L371.87 672.76L372.19 673.29L371.59 673.12L371.43 675.17L372.08 675.16L372.37 674.14L372.18 676.79L372.46 677.03L372.17 676.22L372.60 677.71L372.70 679.05L372.88 679.15L372.75 680.01L372.06 679.55L372.56 679.94L373.24 680.49L373.09 682.21L373.26 682.99L372.56 683.29L373.56 684.65L373.41 684.57L372.95 685.56L373.28 686.37L373.40 685.41L373.43 687.60L374.46 688.25L373.86 688.29L374.33 688.87L374.35 690.19L373.81 690.51L374.13 689.95L374.29 692.00L374.05 692.20L374.46 691.61L375.08 693.70L374.70 694.33L375.02 694.57L374.71 695.08L374.91 696.73L375.90 697.55L375.43 695.87L376.15 698.42L375.42 698.16L376.33 698.20L376.01 698.83L376.06 699.29L375.70 701.87L376.26 702.18L376.61 702.96L376.96 702.02L376.02 703.25L376.70 702.72L376.58 704.42L376.75 704.30L377.45 705.35L377.46 705.22L376.82 707.86L377.64 708.70L377.25 709.26L377.97 708.39L378.81 710.30L379.21 709.17L378.85 708.34L379.88 707.30L380.09 707.13L379.38 706.42L379.38 706.43L380.39 705.48L380.30 706.08L380.52 704.85L380.17 704.98L379.66 703.83L380.23 703.24L380.55 702.67L379.93 700.93L380.11 701.84L380.46 700.13L381.03 699.09L380.54 700.10L380.68 698.71L380.88 697.86L380.69 696.30L381.74 696.98L381.08 698.26L382.17 699.83L381.30 699.32L381.39 699.29L381.55 700.23L381.91 700.57L382.74 701.99L382.26 703.05L382.47 702.87L382.33 703.41L382.33 703.28L382.23 706.08L382.92 705.59L382.50 707.08L382.62 706.29L382.94 707.23L383.50 709.18L382.59 709.61L383.49 708.22L383.29 710.92L382.80 710.81L384.03 710.93L384.07 712.56L383.46 713.50L383.47 712.02L384.22 713.60L384.39 715.20L384.56 715.08L384.42 715.22L384.82 714.80L385.10 715.86L384.96 717.18L385.50 716.27L386.64 717.83L386.49 716.57L387.71 717.57L387.88 717.24L388.22 717.76L389.37 717.05L390.19 718.20L390.59 718.20L390.92 716.90L392.07 718.20L391.86 717.08L393.24 717.54L393.34 717.36L394.75 717.96L394.28 716.91L395.35 717.18L395.68 718.01L396.94 718.20L396.90 717.59L397.63 718.20L398.13 718.20L399.37 716.92L400.21 717.10L399.89 717.59L400.77 716.94L402.01 718.01L401.95 716.76L403.25 716.93L402.74 716.76L403.76 716.57L404.95 718.20L405.69 718.19L405.49 718.20L406.82 716.89L406.34 718.20L407.36 718.05L407.90 717.35L408.11 716.87L409.13 717.14L409.46 718.20L410.16 718.20L411.50 717.33L411.64 718.20L412.29 716.61L413.43 717.39L413.37 716.96L413.57 718.20L415.11 717.49L414.79 718.20L415.42 716.60L416.25 718.20L417.63 718.20L417.48 717.34L418.49 718.20L419.22 717.16L419.29 717.30L420.47 716.55L420.93 718.20L420.80 718.20L421.94 717.12L423.12 718.20L422.88 717.49L423.77 717.60L424.00 718.20L425.27 718.20L425.92 718.20L425.98 718.04L426.63 717.36L426.89 718.20L428.00 717.80" fill="none" stroke="#33429c" stroke-width="1.7" stroke-linejoin="round"/>
<path d="M357.45 717.54L357.55 716.84L357.40 716.27L357.75 718.00L358.45 716.67L358.89 715.75L359.70 714.66L359.48 714.07L360.02 713.56L361.28 714.15L360.84 713.74L362.39 713.11L362.44 712.29L362.99 712.71L363.48 712.17L363.88 712.12L364.25 712.65L364.08 710.39L365.04 711.88L366.04 709.64L366.22 710.13L366.14 710.41L367.24 708.63L367.49 707.58L367.79 706.97L368.50 707.90L368.35 707.71L368.31 705.64L369.13 705.91L369.99 704.29L370.14 704.82L369.78 703.54L370.10 702.45L370.38 702.47L371.07 702.14L370.47 702.78L370.65 701.00L371.81 701.05L371.75 699.35L371.04 699.00L371.63 699.52L371.93 697.50L372.09 697.06L372.43 697.05L372.61 696.87L372.70 695.16L373.56 694.67L374.24 694.75L374.45 694.58L374.01 695.20L374.44 692.36L375.29 692.73L375.48 693.11L375.52 693.16L376.23 692.37L376.48 691.98L377.81 691.72L377.68 691.16L378.24 688.60L377.26 688.62L377.84 688.40L377.51 687.46L378.11 686.01L377.65 686.19L378.46 685.54L378.24 685.59L378.19 684.20L378.08 683.18L378.06 683.10L378.86 683.15L378.13 682.27L378.70 681.06L379.43 679.80L378.96 680.77L378.68 680.04L379.16 678.28L379.39 678.90L379.44 676.52L379.66 678.07L380.02 677.50L379.27 675.20L380.16 675.37L380.19 674.33L379.75 674.87L380.35 673.72L379.63 673.48L379.58 673.02L380.57 671.27L379.87 671.80L380.30 669.85L380.46 670.57L380.58 670.18L380.51 669.29L380.37 667.58L380.56 667.27L380.32 667.50L380.95 665.04L380.64 664.91L381.21 663.93L380.63 663.69L380.96 664.35L381.49 662.48L380.93 662.19L381.46 662.91L380.83 661.78L381.26 661.34L381.00 660.77L381.52 660.05L381.37 658.50L381.79 658.83L381.55 658.56L381.36 656.08L380.74 656.79L381.70 655.65L381.78 656.11L381.41 653.55L381.48 654.80L380.75 652.88L381.75 653.72L381.18 652.47L381.73 652.29L381.48 651.43L381.13 649.86L381.18 649.34L380.94 649.13L381.24 649.00L381.14 647.05L381.36 647.00L380.98 647.33L381.23 645.38L381.79 644.67L380.96 643.90L381.80 644.37L381.60 644.41L382.00 642.61L381.53 642.98L382.10 641.96L382.10 642.40L381.39 639.72L381.37 640.98L381.42 642.43L382.22 643.33L382.18 643.27L382.55 644.65L383.14 645.15L383.38 645.26L383.24 645.33L384.03 646.73L384.26 646.05L383.64 647.06L384.13 648.54L384.22 649.48L383.97 650.00L384.30 648.89L384.70 650.82L383.90 651.14L383.84 651.15L384.98 651.70L384.73 652.26L384.11 653.52L384.07 654.30L384.72 653.70L385.22 654.17L384.87 655.50L384.29 657.41L384.25 658.10L385.03 657.75L384.72 659.29L385.11 659.81L384.58 659.29L384.86 659.32L384.91 660.20L384.96 661.92L384.60 662.10L385.45 661.54L385.07 663.97L385.06 662.54L385.32 663.96L385.33 665.07L386.00 665.91L386.04 666.86L385.56 667.02L385.69 668.27L385.97 668.94L386.12 669.02L386.02 669.71L386.59 670.16L386.52 670.27L386.65 669.91L387.02 669.15L386.86 669.35L387.92 667.42L388.17 666.70L387.76 667.72L387.85 668.04L387.83 669.24L387.68 668.01L387.93 670.07L388.89 669.71L388.65 671.33L388.58 671.56L388.83 670.82L388.93 672.19L389.04 673.01L389.17 672.62L388.65 673.46L389.26 675.00L389.30 676.18L388.68 677.24L388.39 676.03L389.40 677.99L388.72 678.50L389.13 678.94L389.22 678.73L388.47 679.21L389.06 679.50L388.79 681.63L389.40 681.52L389.24 681.81L389.14 683.24L389.53 682.90L389.07 684.71L389.76 685.60L390.05 686.37L390.11 686.11L390.18 686.31L389.95 686.38L390.73 688.03L390.90 689.09L391.11 690.16L390.82 690.19L390.49 690.46L391.09 691.88L390.79 690.99L391.48 691.76L390.97 693.29L391.52 694.13L391.49 693.75L391.24 696.12L391.89 694.93L392.40 697.00L392.33 696.57L391.98 696.52L392.43 698.92L392.46 698.57L392.52 699.29L393.14 700.87L392.99 699.85L392.93 702.27L392.85 701.79L393.30 702.35L392.94 703.24L393.33 704.76L393.44 704.27L393.49 705.07L394.06 704.95L394.38 705.48L394.59 705.70L394.95 707.83L395.54 708.84L395.16 708.25L395.95 709.52L395.98 709.58L396.09 710.53L396.24 710.68L396.62 711.13L396.53 712.57L397.74 711.51L397.76 713.04L398.09 714.61L398.64 714.36L398.54 714.91L398.69 714.27L400.08 716.14L400.13 715.51L400.73 716.70L401.59 716.15L401.86 717.22L402.13 717.58L402.43 717.63L403.58 717.29L403.75 717.51L404.12 716.46L404.82 716.35L405.88 717.24L406.33 717.79L406.44 717.97L407.14 716.99L408.29 717.41L408.73 717.60L409.19 717.11L409.63 716.50L410.68 717.44L411.61 716.54L411.35 716.39L412.20 717.43L413.23 717.62L413.94 717.83L414.41 717.55L414.35 717.45L415.02 716.65L415.73 717.57L416.80 717.87L416.78 718.20L417.20 718.20L418.98 718.20L419.36 717.50L419.67 717.86L420.73 718.20L420.46 717.42L421.51 718.20L421.67 718.20L422.19 718.20L422.95 717.15L423.66 718.20L424.15 717.91L424.93 717.05L425.40 718.09L425.97 718.20L427.29 718.20L426.92 718.20L428.00 718.20" fill="none" stroke="#d4352e" stroke-width="1.7" stroke-linejoin="round"/>
<path d="M435.40 715.40L435.78 715.19L436.31 714.95L436.93 714.64L437.60 714.23L438.28 713.69L438.90 713.00L439.49 712.16L440.09 711.19L440.68 710.09L441.27 708.86L441.85 707.50L442.40 706.00L442.93 704.38L443.44 702.64L443.94 700.77L444.43 698.75L444.91 696.56L445.40 694.20L445.90 691.59L446.40 688.73L446.89 685.71L447.38 682.61L447.85 679.51L448.30 676.50L448.72 673.49L449.13 670.41L449.52 667.33L449.89 664.33L450.25 661.50L450.60 658.90L450.93 656.54L451.24 654.36L451.53 652.34L451.82 650.46L452.11 648.72L452.40 647.10L452.71 645.58L453.02 644.17L453.34 642.90L453.64 641.78L453.93 640.84L454.20 640.10L454.43 639.55L454.63 639.17L454.81 638.96L454.99 638.94L455.18 639.12L455.40 639.50L455.65 640.04L455.93 640.74L456.21 641.63L456.51 642.76L456.81 644.17L457.10 645.90L457.40 648.01L457.70 650.48L458.00 653.23L458.30 656.18L458.60 659.26L458.90 662.40L459.19 665.73L459.47 669.34L459.75 673.08L460.03 676.80L460.31 680.35L460.60 683.60L460.89 686.56L461.17 689.36L461.46 691.99L461.75 694.46L462.06 696.76L462.40 698.90L462.76 700.84L463.14 702.58L463.53 704.15L463.94 705.60L464.36 706.97L464.80 708.30L465.26 709.60L465.75 710.84L466.25 711.99L466.75 713.05L467.24 713.99L467.70 714.80L468.13 715.44L468.56 715.93L468.96 716.30L469.36 716.59L469.73 716.85L470.10 717.10L469.95 717.34L469.19 717.54L468.42 717.69L468.23 717.82L469.22 717.92L472.00 718.00L477.47 718.05L485.33 718.07L494.37 718.06L503.39 718.03L511.17 718.01L516.50 718.00L516.50 718.8L435.40 718.8Z" fill="#fff9d2" stroke="none"/>
<path d="M435.40 711.80L435.65 711.45L435.99 710.98L436.40 710.42L436.84 709.77L437.28 709.06L437.70 708.30L438.10 707.47L438.50 706.55L438.90 705.57L439.30 704.54L439.70 703.47L440.10 702.40L440.49 701.32L440.87 700.24L441.25 699.12L441.63 697.95L442.01 696.72L442.40 695.40L442.80 694.00L443.20 692.53L443.60 691.00L444.00 689.40L444.40 687.73L444.80 686.00L445.19 684.24L445.57 682.46L445.95 680.62L446.33 678.66L446.71 676.54L447.10 674.20L447.50 671.56L447.90 668.65L448.30 665.57L448.70 662.44L449.10 659.38L449.50 656.50L449.90 653.66L450.31 650.74L450.73 647.89L451.12 645.25L451.48 642.97L451.80 641.20L452.06 640.02L452.26 639.34L452.43 639.02L452.60 638.93L452.78 638.93L453.00 638.90L453.27 638.83L453.56 638.83L453.87 638.92L454.19 639.14L454.50 639.52L454.80 640.10L455.09 640.82L455.37 641.65L455.65 642.64L455.93 643.85L456.21 645.32L456.50 647.10L456.79 649.23L457.09 651.68L457.39 654.39L457.70 657.31L458.00 660.40L458.30 663.60L458.60 667.09L458.90 670.94L459.21 674.95L459.51 678.93L459.81 682.68L460.10 686.00L460.38 688.90L460.65 691.53L460.91 693.94L461.19 696.14L461.48 698.19L461.80 700.10L462.15 701.83L462.53 703.36L462.93 704.71L463.34 705.96L463.76 707.13L464.20 708.30L464.66 709.45L465.15 710.55L465.65 711.58L466.15 712.54L466.64 713.42L467.10 714.20L467.53 714.88L467.93 715.46L468.33 715.96L468.71 716.39L469.10 716.77L469.50 717.10L469.42 717.38L468.77 717.58L468.12 717.73L468.05 717.84L469.15 717.93L472.00 718.00L477.50 718.05L485.37 718.07L494.41 718.06L503.41 718.03L511.17 718.01L516.50 718.00" fill="none" stroke="#33429c" stroke-width="1.6" stroke-linejoin="round"/>
<path d="M435.40 715.40L435.78 715.19L436.31 714.95L436.93 714.64L437.60 714.23L438.28 713.69L438.90 713.00L439.49 712.16L440.09 711.19L440.68 710.09L441.27 708.86L441.85 707.50L442.40 706.00L442.93 704.38L443.44 702.64L443.94 700.77L444.43 698.75L444.91 696.56L445.40 694.20L445.90 691.59L446.40 688.73L446.89 685.71L447.38 682.61L447.85 679.51L448.30 676.50L448.72 673.49L449.13 670.41L449.52 667.33L449.89 664.33L450.25 661.50L450.60 658.90L450.93 656.54L451.24 654.36L451.53 652.34L451.82 650.46L452.11 648.72L452.40 647.10L452.71 645.58L453.02 644.17L453.34 642.90L453.64 641.78L453.93 640.84L454.20 640.10L454.43 639.55L454.63 639.17L454.81 638.96L454.99 638.94L455.18 639.12L455.40 639.50L455.65 640.04L455.93 640.74L456.21 641.63L456.51 642.76L456.81 644.17L457.10 645.90L457.40 648.01L457.70 650.48L458.00 653.23L458.30 656.18L458.60 659.26L458.90 662.40L459.19 665.73L459.47 669.34L459.75 673.08L460.03 676.80L460.31 680.35L460.60 683.60L460.89 686.56L461.17 689.36L461.46 691.99L461.75 694.46L462.06 696.76L462.40 698.90L462.76 700.84L463.14 702.58L463.53 704.15L463.94 705.60L464.36 706.97L464.80 708.30L465.26 709.60L465.75 710.84L466.25 711.99L466.75 713.05L467.24 713.99L467.70 714.80L468.13 715.44L468.56 715.93L468.96 716.30L469.36 716.59L469.73 716.85L470.10 717.10L469.95 717.34L469.19 717.54L468.42 717.69L468.23 717.82L469.22 717.92L472.00 718.00L477.47 718.05L485.33 718.07L494.37 718.06L503.39 718.03L511.17 718.01L516.50 718.00" fill="none" stroke="#d4352e" stroke-width="1.6" stroke-linejoin="round"/>
<rect x="257" y="636.4" width="82.39999999999998" height="82.39999999999998" fill="none" stroke="#111" stroke-width="1.5"/>
<line x1="254.3" y1="718.8" x2="256.5" y2="718.8" stroke="#000" stroke-width="1.0"/>
<line x1="255.0" y1="715.66" x2="256.5" y2="715.66" stroke="#000" stroke-width="1.0"/>
<line x1="255.0" y1="712.51" x2="256.5" y2="712.51" stroke="#000" stroke-width="1.0"/>
<line x1="255.0" y1="709.37" x2="256.5" y2="709.37" stroke="#000" stroke-width="1.0"/>
<line x1="255.0" y1="706.22" x2="256.5" y2="706.22" stroke="#000" stroke-width="1.0"/>
<line x1="254.3" y1="703.08" x2="256.5" y2="703.08" stroke="#000" stroke-width="1.0"/>
<line x1="255.0" y1="699.94" x2="256.5" y2="699.94" stroke="#000" stroke-width="1.0"/>
<line x1="255.0" y1="696.79" x2="256.5" y2="696.79" stroke="#000" stroke-width="1.0"/>
<line x1="255.0" y1="693.65" x2="256.5" y2="693.65" stroke="#000" stroke-width="1.0"/>
<line x1="255.0" y1="690.5" x2="256.5" y2="690.5" stroke="#000" stroke-width="1.0"/>
<line x1="254.3" y1="687.36" x2="256.5" y2="687.36" stroke="#000" stroke-width="1.0"/>
<line x1="255.0" y1="684.22" x2="256.5" y2="684.22" stroke="#000" stroke-width="1.0"/>
<line x1="255.0" y1="681.07" x2="256.5" y2="681.07" stroke="#000" stroke-width="1.0"/>
<line x1="255.0" y1="677.93" x2="256.5" y2="677.93" stroke="#000" stroke-width="1.0"/>
<line x1="255.0" y1="674.78" x2="256.5" y2="674.78" stroke="#000" stroke-width="1.0"/>
<line x1="254.3" y1="671.64" x2="256.5" y2="671.64" stroke="#000" stroke-width="1.0"/>
<line x1="255.0" y1="668.5" x2="256.5" y2="668.5" stroke="#000" stroke-width="1.0"/>
<line x1="255.0" y1="665.35" x2="256.5" y2="665.35" stroke="#000" stroke-width="1.0"/>
<line x1="255.0" y1="662.21" x2="256.5" y2="662.21" stroke="#000" stroke-width="1.0"/>
<line x1="255.0" y1="659.06" x2="256.5" y2="659.06" stroke="#000" stroke-width="1.0"/>
<line x1="254.3" y1="655.92" x2="256.5" y2="655.92" stroke="#000" stroke-width="1.0"/>
<line x1="255.0" y1="652.78" x2="256.5" y2="652.78" stroke="#000" stroke-width="1.0"/>
<line x1="255.0" y1="649.63" x2="256.5" y2="649.63" stroke="#000" stroke-width="1.0"/>
<line x1="255.0" y1="646.49" x2="256.5" y2="646.49" stroke="#000" stroke-width="1.0"/>
<line x1="255.0" y1="643.34" x2="256.5" y2="643.34" stroke="#000" stroke-width="1.0"/>
<line x1="254.3" y1="640.2" x2="256.5" y2="640.2" stroke="#000" stroke-width="1.0"/>
<line x1="257.0" y1="719.3" x2="257.0" y2="721.5" stroke="#000" stroke-width="1.0"/>
<line x1="263.2" y1="719.3" x2="263.2" y2="720.8" stroke="#000" stroke-width="1.0"/>
<line x1="266.83" y1="719.3" x2="266.83" y2="720.8" stroke="#000" stroke-width="1.0"/>
<line x1="269.4" y1="719.3" x2="269.4" y2="720.8" stroke="#000" stroke-width="1.0"/>
<line x1="271.4" y1="719.3" x2="271.4" y2="720.8" stroke="#000" stroke-width="1.0"/>
<line x1="273.03" y1="719.3" x2="273.03" y2="720.8" stroke="#000" stroke-width="1.0"/>
<line x1="274.41" y1="719.3" x2="274.41" y2="720.8" stroke="#000" stroke-width="1.0"/>
<line x1="275.6" y1="719.3" x2="275.6" y2="720.8" stroke="#000" stroke-width="1.0"/>
<line x1="276.66" y1="719.3" x2="276.66" y2="720.8" stroke="#000" stroke-width="1.0"/>
<line x1="277.6" y1="719.3" x2="277.6" y2="721.5" stroke="#000" stroke-width="1.0"/>
<line x1="283.8" y1="719.3" x2="283.8" y2="720.8" stroke="#000" stroke-width="1.0"/>
<line x1="287.43" y1="719.3" x2="287.43" y2="720.8" stroke="#000" stroke-width="1.0"/>
<line x1="290.0" y1="719.3" x2="290.0" y2="720.8" stroke="#000" stroke-width="1.0"/>
<line x1="292.0" y1="719.3" x2="292.0" y2="720.8" stroke="#000" stroke-width="1.0"/>
<line x1="293.63" y1="719.3" x2="293.63" y2="720.8" stroke="#000" stroke-width="1.0"/>
<line x1="295.01" y1="719.3" x2="295.01" y2="720.8" stroke="#000" stroke-width="1.0"/>
<line x1="296.2" y1="719.3" x2="296.2" y2="720.8" stroke="#000" stroke-width="1.0"/>
<line x1="297.26" y1="719.3" x2="297.26" y2="720.8" stroke="#000" stroke-width="1.0"/>
<line x1="298.2" y1="719.3" x2="298.2" y2="721.5" stroke="#000" stroke-width="1.0"/>
<line x1="304.4" y1="719.3" x2="304.4" y2="720.8" stroke="#000" stroke-width="1.0"/>
<line x1="308.03" y1="719.3" x2="308.03" y2="720.8" stroke="#000" stroke-width="1.0"/>
<line x1="310.6" y1="719.3" x2="310.6" y2="720.8" stroke="#000" stroke-width="1.0"/>
<line x1="312.6" y1="719.3" x2="312.6" y2="720.8" stroke="#000" stroke-width="1.0"/>
<line x1="314.23" y1="719.3" x2="314.23" y2="720.8" stroke="#000" stroke-width="1.0"/>
<line x1="315.61" y1="719.3" x2="315.61" y2="720.8" stroke="#000" stroke-width="1.0"/>
<line x1="316.8" y1="719.3" x2="316.8" y2="720.8" stroke="#000" stroke-width="1.0"/>
<line x1="317.86" y1="719.3" x2="317.86" y2="720.8" stroke="#000" stroke-width="1.0"/>
<line x1="318.8" y1="719.3" x2="318.8" y2="721.5" stroke="#000" stroke-width="1.0"/>
<line x1="325.0" y1="719.3" x2="325.0" y2="720.8" stroke="#000" stroke-width="1.0"/>
<line x1="328.63" y1="719.3" x2="328.63" y2="720.8" stroke="#000" stroke-width="1.0"/>
<line x1="331.2" y1="719.3" x2="331.2" y2="720.8" stroke="#000" stroke-width="1.0"/>
<line x1="333.2" y1="719.3" x2="333.2" y2="720.8" stroke="#000" stroke-width="1.0"/>
<line x1="334.83" y1="719.3" x2="334.83" y2="720.8" stroke="#000" stroke-width="1.0"/>
<line x1="336.21" y1="719.3" x2="336.21" y2="720.8" stroke="#000" stroke-width="1.0"/>
<line x1="337.4" y1="719.3" x2="337.4" y2="720.8" stroke="#000" stroke-width="1.0"/>
<line x1="338.46" y1="719.3" x2="338.46" y2="720.8" stroke="#000" stroke-width="1.0"/>
<rect x="345.8" y="636.4" width="83.0" height="82.39999999999998" fill="none" stroke="#111" stroke-width="1.5"/>
<line x1="343.1" y1="718.8" x2="345.3" y2="718.8" stroke="#000" stroke-width="1.0"/>
<line x1="343.8" y1="715.66" x2="345.3" y2="715.66" stroke="#000" stroke-width="1.0"/>
<line x1="343.8" y1="712.51" x2="345.3" y2="712.51" stroke="#000" stroke-width="1.0"/>
<line x1="343.8" y1="709.37" x2="345.3" y2="709.37" stroke="#000" stroke-width="1.0"/>
<line x1="343.8" y1="706.22" x2="345.3" y2="706.22" stroke="#000" stroke-width="1.0"/>
<line x1="343.1" y1="703.08" x2="345.3" y2="703.08" stroke="#000" stroke-width="1.0"/>
<line x1="343.8" y1="699.94" x2="345.3" y2="699.94" stroke="#000" stroke-width="1.0"/>
<line x1="343.8" y1="696.79" x2="345.3" y2="696.79" stroke="#000" stroke-width="1.0"/>
<line x1="343.8" y1="693.65" x2="345.3" y2="693.65" stroke="#000" stroke-width="1.0"/>
<line x1="343.8" y1="690.5" x2="345.3" y2="690.5" stroke="#000" stroke-width="1.0"/>
<line x1="343.1" y1="687.36" x2="345.3" y2="687.36" stroke="#000" stroke-width="1.0"/>
<line x1="343.8" y1="684.22" x2="345.3" y2="684.22" stroke="#000" stroke-width="1.0"/>
<line x1="343.8" y1="681.07" x2="345.3" y2="681.07" stroke="#000" stroke-width="1.0"/>
<line x1="343.8" y1="677.93" x2="345.3" y2="677.93" stroke="#000" stroke-width="1.0"/>
<line x1="343.8" y1="674.78" x2="345.3" y2="674.78" stroke="#000" stroke-width="1.0"/>
<line x1="343.1" y1="671.64" x2="345.3" y2="671.64" stroke="#000" stroke-width="1.0"/>
<line x1="343.8" y1="668.5" x2="345.3" y2="668.5" stroke="#000" stroke-width="1.0"/>
<line x1="343.8" y1="665.35" x2="345.3" y2="665.35" stroke="#000" stroke-width="1.0"/>
<line x1="343.8" y1="662.21" x2="345.3" y2="662.21" stroke="#000" stroke-width="1.0"/>
<line x1="343.8" y1="659.06" x2="345.3" y2="659.06" stroke="#000" stroke-width="1.0"/>
<line x1="343.1" y1="655.92" x2="345.3" y2="655.92" stroke="#000" stroke-width="1.0"/>
<line x1="343.8" y1="652.78" x2="345.3" y2="652.78" stroke="#000" stroke-width="1.0"/>
<line x1="343.8" y1="649.63" x2="345.3" y2="649.63" stroke="#000" stroke-width="1.0"/>
<line x1="343.8" y1="646.49" x2="345.3" y2="646.49" stroke="#000" stroke-width="1.0"/>
<line x1="343.8" y1="643.34" x2="345.3" y2="643.34" stroke="#000" stroke-width="1.0"/>
<line x1="343.1" y1="640.2" x2="345.3" y2="640.2" stroke="#000" stroke-width="1.0"/>
<line x1="345.8" y1="719.3" x2="345.8" y2="721.5" stroke="#000" stroke-width="1.0"/>
<line x1="352.05" y1="719.3" x2="352.05" y2="720.8" stroke="#000" stroke-width="1.0"/>
<line x1="355.7" y1="719.3" x2="355.7" y2="720.8" stroke="#000" stroke-width="1.0"/>
<line x1="358.29" y1="719.3" x2="358.29" y2="720.8" stroke="#000" stroke-width="1.0"/>
<line x1="360.3" y1="719.3" x2="360.3" y2="720.8" stroke="#000" stroke-width="1.0"/>
<line x1="361.95" y1="719.3" x2="361.95" y2="720.8" stroke="#000" stroke-width="1.0"/>
<line x1="363.34" y1="719.3" x2="363.34" y2="720.8" stroke="#000" stroke-width="1.0"/>
<line x1="364.54" y1="719.3" x2="364.54" y2="720.8" stroke="#000" stroke-width="1.0"/>
<line x1="365.6" y1="719.3" x2="365.6" y2="720.8" stroke="#000" stroke-width="1.0"/>
<line x1="366.55" y1="719.3" x2="366.55" y2="721.5" stroke="#000" stroke-width="1.0"/>
<line x1="372.8" y1="719.3" x2="372.8" y2="720.8" stroke="#000" stroke-width="1.0"/>
<line x1="376.45" y1="719.3" x2="376.45" y2="720.8" stroke="#000" stroke-width="1.0"/>
<line x1="379.04" y1="719.3" x2="379.04" y2="720.8" stroke="#000" stroke-width="1.0"/>
<line x1="381.05" y1="719.3" x2="381.05" y2="720.8" stroke="#000" stroke-width="1.0"/>
<line x1="382.7" y1="719.3" x2="382.7" y2="720.8" stroke="#000" stroke-width="1.0"/>
<line x1="384.09" y1="719.3" x2="384.09" y2="720.8" stroke="#000" stroke-width="1.0"/>
<line x1="385.29" y1="719.3" x2="385.29" y2="720.8" stroke="#000" stroke-width="1.0"/>
<line x1="386.35" y1="719.3" x2="386.35" y2="720.8" stroke="#000" stroke-width="1.0"/>
<line x1="387.3" y1="719.3" x2="387.3" y2="721.5" stroke="#000" stroke-width="1.0"/>
<line x1="393.55" y1="719.3" x2="393.55" y2="720.8" stroke="#000" stroke-width="1.0"/>
<line x1="397.2" y1="719.3" x2="397.2" y2="720.8" stroke="#000" stroke-width="1.0"/>
<line x1="399.79" y1="719.3" x2="399.79" y2="720.8" stroke="#000" stroke-width="1.0"/>
<line x1="401.8" y1="719.3" x2="401.8" y2="720.8" stroke="#000" stroke-width="1.0"/>
<line x1="403.45" y1="719.3" x2="403.45" y2="720.8" stroke="#000" stroke-width="1.0"/>
<line x1="404.84" y1="719.3" x2="404.84" y2="720.8" stroke="#000" stroke-width="1.0"/>
<line x1="406.04" y1="719.3" x2="406.04" y2="720.8" stroke="#000" stroke-width="1.0"/>
<line x1="407.1" y1="719.3" x2="407.1" y2="720.8" stroke="#000" stroke-width="1.0"/>
<line x1="408.05" y1="719.3" x2="408.05" y2="721.5" stroke="#000" stroke-width="1.0"/>
<line x1="414.3" y1="719.3" x2="414.3" y2="720.8" stroke="#000" stroke-width="1.0"/>
<line x1="417.95" y1="719.3" x2="417.95" y2="720.8" stroke="#000" stroke-width="1.0"/>
<line x1="420.54" y1="719.3" x2="420.54" y2="720.8" stroke="#000" stroke-width="1.0"/>
<line x1="422.55" y1="719.3" x2="422.55" y2="720.8" stroke="#000" stroke-width="1.0"/>
<line x1="424.2" y1="719.3" x2="424.2" y2="720.8" stroke="#000" stroke-width="1.0"/>
<line x1="425.59" y1="719.3" x2="425.59" y2="720.8" stroke="#000" stroke-width="1.0"/>
<line x1="426.79" y1="719.3" x2="426.79" y2="720.8" stroke="#000" stroke-width="1.0"/>
<line x1="427.85" y1="719.3" x2="427.85" y2="720.8" stroke="#000" stroke-width="1.0"/>
<rect x="435.2" y="636.4" width="82.00000000000006" height="82.39999999999998" fill="none" stroke="#111" stroke-width="1.5"/>
<line x1="432.5" y1="718.8" x2="434.7" y2="718.8" stroke="#000" stroke-width="1.0"/>
<line x1="433.2" y1="715.66" x2="434.7" y2="715.66" stroke="#000" stroke-width="1.0"/>
<line x1="433.2" y1="712.51" x2="434.7" y2="712.51" stroke="#000" stroke-width="1.0"/>
<line x1="433.2" y1="709.37" x2="434.7" y2="709.37" stroke="#000" stroke-width="1.0"/>
<line x1="433.2" y1="706.22" x2="434.7" y2="706.22" stroke="#000" stroke-width="1.0"/>
<line x1="432.5" y1="703.08" x2="434.7" y2="703.08" stroke="#000" stroke-width="1.0"/>
<line x1="433.2" y1="699.94" x2="434.7" y2="699.94" stroke="#000" stroke-width="1.0"/>
<line x1="433.2" y1="696.79" x2="434.7" y2="696.79" stroke="#000" stroke-width="1.0"/>
<line x1="433.2" y1="693.65" x2="434.7" y2="693.65" stroke="#000" stroke-width="1.0"/>
<line x1="433.2" y1="690.5" x2="434.7" y2="690.5" stroke="#000" stroke-width="1.0"/>
<line x1="432.5" y1="687.36" x2="434.7" y2="687.36" stroke="#000" stroke-width="1.0"/>
<line x1="433.2" y1="684.22" x2="434.7" y2="684.22" stroke="#000" stroke-width="1.0"/>
<line x1="433.2" y1="681.07" x2="434.7" y2="681.07" stroke="#000" stroke-width="1.0"/>
<line x1="433.2" y1="677.93" x2="434.7" y2="677.93" stroke="#000" stroke-width="1.0"/>
<line x1="433.2" y1="674.78" x2="434.7" y2="674.78" stroke="#000" stroke-width="1.0"/>
<line x1="432.5" y1="671.64" x2="434.7" y2="671.64" stroke="#000" stroke-width="1.0"/>
<line x1="433.2" y1="668.5" x2="434.7" y2="668.5" stroke="#000" stroke-width="1.0"/>
<line x1="433.2" y1="665.35" x2="434.7" y2="665.35" stroke="#000" stroke-width="1.0"/>
<line x1="433.2" y1="662.21" x2="434.7" y2="662.21" stroke="#000" stroke-width="1.0"/>
<line x1="433.2" y1="659.06" x2="434.7" y2="659.06" stroke="#000" stroke-width="1.0"/>
<line x1="432.5" y1="655.92" x2="434.7" y2="655.92" stroke="#000" stroke-width="1.0"/>
<line x1="433.2" y1="652.78" x2="434.7" y2="652.78" stroke="#000" stroke-width="1.0"/>
<line x1="433.2" y1="649.63" x2="434.7" y2="649.63" stroke="#000" stroke-width="1.0"/>
<line x1="433.2" y1="646.49" x2="434.7" y2="646.49" stroke="#000" stroke-width="1.0"/>
<line x1="433.2" y1="643.34" x2="434.7" y2="643.34" stroke="#000" stroke-width="1.0"/>
<line x1="432.5" y1="640.2" x2="434.7" y2="640.2" stroke="#000" stroke-width="1.0"/>
<line x1="435.2" y1="719.3" x2="435.2" y2="721.5" stroke="#000" stroke-width="1.0"/>
<line x1="441.37" y1="719.3" x2="441.37" y2="720.8" stroke="#000" stroke-width="1.0"/>
<line x1="444.98" y1="719.3" x2="444.98" y2="720.8" stroke="#000" stroke-width="1.0"/>
<line x1="447.54" y1="719.3" x2="447.54" y2="720.8" stroke="#000" stroke-width="1.0"/>
<line x1="449.53" y1="719.3" x2="449.53" y2="720.8" stroke="#000" stroke-width="1.0"/>
<line x1="451.15" y1="719.3" x2="451.15" y2="720.8" stroke="#000" stroke-width="1.0"/>
<line x1="452.52" y1="719.3" x2="452.52" y2="720.8" stroke="#000" stroke-width="1.0"/>
<line x1="453.71" y1="719.3" x2="453.71" y2="720.8" stroke="#000" stroke-width="1.0"/>
<line x1="454.76" y1="719.3" x2="454.76" y2="720.8" stroke="#000" stroke-width="1.0"/>
<line x1="455.7" y1="719.3" x2="455.7" y2="721.5" stroke="#000" stroke-width="1.0"/>
<line x1="461.87" y1="719.3" x2="461.87" y2="720.8" stroke="#000" stroke-width="1.0"/>
<line x1="465.48" y1="719.3" x2="465.48" y2="720.8" stroke="#000" stroke-width="1.0"/>
<line x1="468.04" y1="719.3" x2="468.04" y2="720.8" stroke="#000" stroke-width="1.0"/>
<line x1="470.03" y1="719.3" x2="470.03" y2="720.8" stroke="#000" stroke-width="1.0"/>
<line x1="471.65" y1="719.3" x2="471.65" y2="720.8" stroke="#000" stroke-width="1.0"/>
<line x1="473.02" y1="719.3" x2="473.02" y2="720.8" stroke="#000" stroke-width="1.0"/>
<line x1="474.21" y1="719.3" x2="474.21" y2="720.8" stroke="#000" stroke-width="1.0"/>
<line x1="475.26" y1="719.3" x2="475.26" y2="720.8" stroke="#000" stroke-width="1.0"/>
<line x1="476.2" y1="719.3" x2="476.2" y2="721.5" stroke="#000" stroke-width="1.0"/>
<line x1="482.37" y1="719.3" x2="482.37" y2="720.8" stroke="#000" stroke-width="1.0"/>
<line x1="485.98" y1="719.3" x2="485.98" y2="720.8" stroke="#000" stroke-width="1.0"/>
<line x1="488.54" y1="719.3" x2="488.54" y2="720.8" stroke="#000" stroke-width="1.0"/>
<line x1="490.53" y1="719.3" x2="490.53" y2="720.8" stroke="#000" stroke-width="1.0"/>
<line x1="492.15" y1="719.3" x2="492.15" y2="720.8" stroke="#000" stroke-width="1.0"/>
<line x1="493.52" y1="719.3" x2="493.52" y2="720.8" stroke="#000" stroke-width="1.0"/>
<line x1="494.71" y1="719.3" x2="494.71" y2="720.8" stroke="#000" stroke-width="1.0"/>
<line x1="495.76" y1="719.3" x2="495.76" y2="720.8" stroke="#000" stroke-width="1.0"/>
<line x1="496.7" y1="719.3" x2="496.7" y2="721.5" stroke="#000" stroke-width="1.0"/>
<line x1="502.87" y1="719.3" x2="502.87" y2="720.8" stroke="#000" stroke-width="1.0"/>
<line x1="506.48" y1="719.3" x2="506.48" y2="720.8" stroke="#000" stroke-width="1.0"/>
<line x1="509.04" y1="719.3" x2="509.04" y2="720.8" stroke="#000" stroke-width="1.0"/>
<line x1="511.03" y1="719.3" x2="511.03" y2="720.8" stroke="#000" stroke-width="1.0"/>
<line x1="512.65" y1="719.3" x2="512.65" y2="720.8" stroke="#000" stroke-width="1.0"/>
<line x1="514.02" y1="719.3" x2="514.02" y2="720.8" stroke="#000" stroke-width="1.0"/>
<line x1="515.21" y1="719.3" x2="515.21" y2="720.8" stroke="#000" stroke-width="1.0"/>
<line x1="516.26" y1="719.3" x2="516.26" y2="720.8" stroke="#000" stroke-width="1.0"/>
</svg>
</body></html>
